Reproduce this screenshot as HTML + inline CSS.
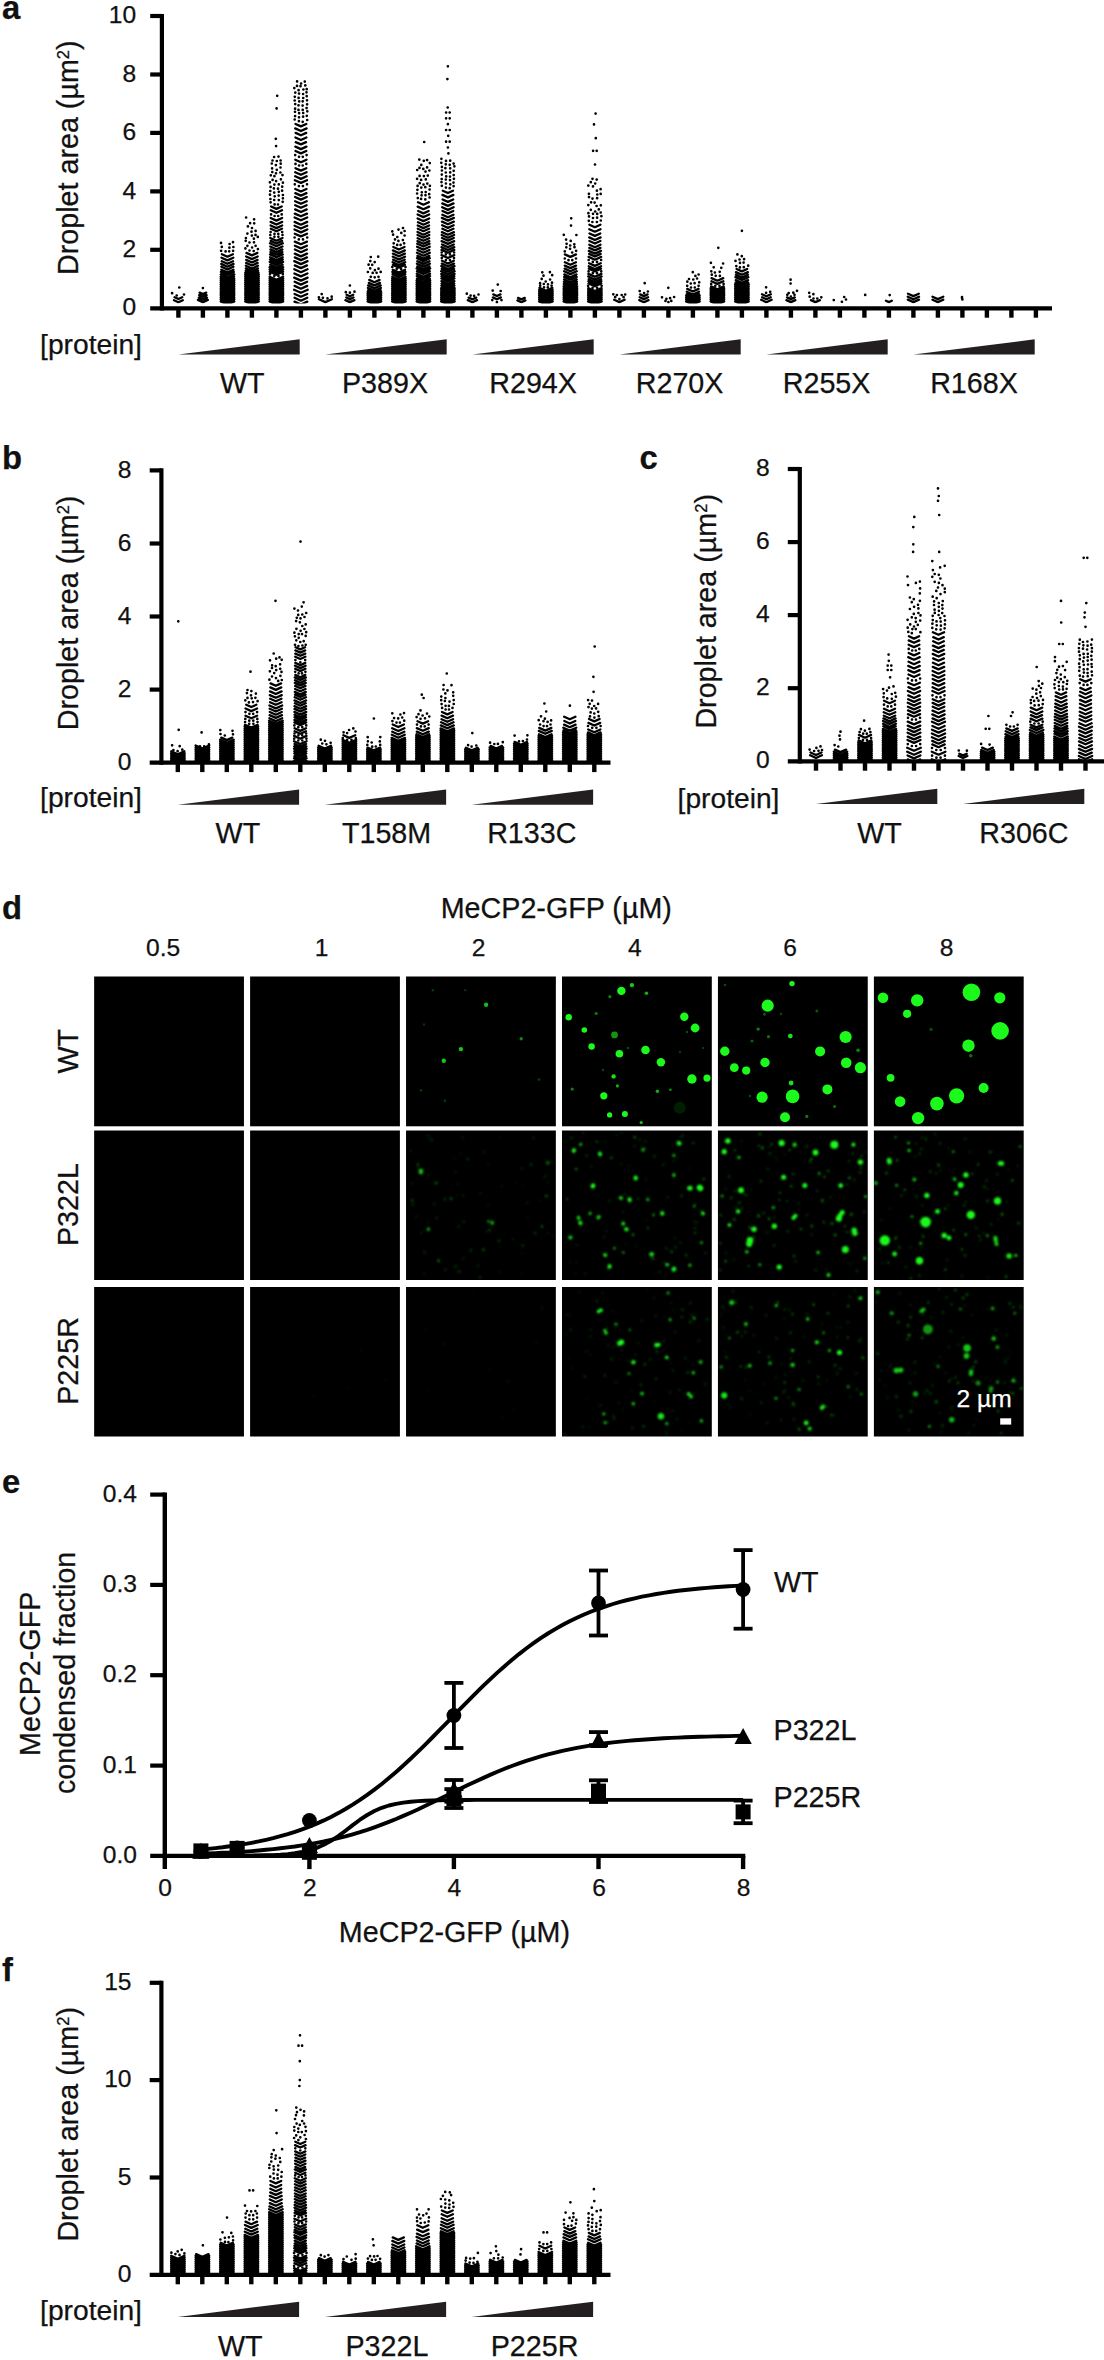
<!DOCTYPE html>
<html lang="en"><head><meta charset="utf-8"><title>Figure</title>
<style>html,body{margin:0;padding:0;background:#fff}svg{display:block}</style>
</head><body>
<svg width="1104" height="2360" viewBox="0 0 1104 2360" font-family='"Liberation Sans", sans-serif'>
<rect width="1104" height="2360" fill="#fff"/>
<clipPath id="swa"><rect x="161.9" y="0" width="890" height="303.4"/></clipPath>
<g clip-path="url(#swa)"><path d="M172.1 293.2h0M176.7 295.5h0M184 294.5h0M179.3 287.5h0M202.9 288.1h0M221.1 250.8h0M225.6 251.4h0M229.2 251.3h0M233.1 250.8h0M221.8 246.9h0M229.4 247.7h0M233.4 247h0M221 242.9h0M229.6 244h0M233 242.2h0M245.4 248.4h0M249.5 250.5h0M253.7 251h0M257.9 249.1h0M247.4 245.8h0M252.1 247.5h0M255.6 245.8h0M245.7 240.8h0M249.5 242.5h0M254 242.3h0M245.9 238h0M253.9 238.7h0M257.8 236.9h0M247.4 233.6h0M251.9 235.6h0M255.5 234.9h0M251.5 231.7h0M255.6 230.9h0M247.9 226.4h0M252 228h0M250.1 223.2h0M254.2 223.3h0M246.1 217.5h0M254.1 219.3h0M270 274.2h0M274.3 276.1h0M278.5 276.1h0M282.8 274.2h0M270.3 235h0M274.4 236.8h0M278.4 236.8h0M282.5 235h0M270.6 232.1h0M274.5 233.9h0M278.3 233.9h0M282.2 232.1h0M271.1 214.4h0M274.6 216h0M278.2 216h0M281.7 214.4h0M270.6 202.3h0M274.6 204.4h0M278 204.5h0M282.7 201.8h0M270.4 199h0M274.2 200h0M278.8 200.1h0M282.9 198.3h0M270 194.7h0M274.7 196.3h0M278.7 195.6h0M282.9 195h0M270.3 191h0M274.2 192.6h0M278.8 191.8h0M282.1 190.7h0M270.6 186.9h0M273.9 188.4h0M278 188.7h0M282.2 186.7h0M269.9 182.3h0M274.4 184.6h0M278.8 184.4h0M282.9 182.7h0M272.6 179.9h0M276.1 181.1h0M280.9 179.3h0M270.8 175.3h0M274.4 176.2h0M282.5 175.1h0M272.3 172.1h0M276 173.3h0M280.4 172.5h0M272.1 168.4h0M276.8 169.8h0M280.5 167.5h0M271.8 163.5h0M275.9 165.1h0M280.7 163.7h0M272.5 160.5h0M276.8 161h0M280.6 160.5h0M274.1 157h0M278.5 156.6h0M276.1 146.1h0M275.8 138.8h0M276.6 108.4h0M277.2 95.8h0M294.6 237.5h0M298.8 239.4h0M303 239.4h0M307.2 237.5h0M294.8 184.3h0M298.9 186.1h0M302.9 186.1h0M307 184.3h0M295.5 163.9h0M299.1 165.5h0M302.7 165.5h0M306.3 163.9h0M295.2 155.1h0M299 156.8h0M302.8 156.8h0M306.6 155.1h0M294.7 119.5h0M298.9 121.2h0M302.7 121.8h0M307.2 120h0M295.1 116.1h0M299 117.3h0M303.1 116.7h0M306.8 115.8h0M295 111.8h0M299.1 113.2h0M303.2 113h0M307.3 111.3h0M295.1 108.7h0M298.5 109.9h0M302.7 109.9h0M306.6 108.1h0M295.2 104.1h0M298.5 105.3h0M302.6 105.6h0M307.1 104.3h0M294.7 100.5h0M299.2 101.4h0M302.7 101.3h0M307 100.3h0M294.8 96.8h0M298.6 97.9h0M303.2 98h0M306.7 96.2h0M295.3 92.6h0M299 93.6h0M303.1 94h0M306.5 92.3h0M294.3 88.1h0M298.6 90.2h0M303.4 89.5h0M306.7 89.2h0M297 85.9h0M300.5 86.2h0M305.3 85.4h0M297.1 81.4h0M301.1 83.5h0M304.8 81.6h0M318.9 297.3h0M322.9 297.8h0M327.5 298.4h0M331.7 296.7h0M321.7 294.1h0M345.8 292.2h0M349.9 292.7h0M354.5 291.7h0M349.9 285.5h0M370.8 276.8h0M374.7 277.3h0M378.5 276.8h0M367.9 272h0M372.7 272.9h0M376.6 272.8h0M380.7 271.9h0M370.2 268.4h0M374.9 270.2h0M378.5 268.7h0M368.6 264.7h0M372.2 264.8h0M370.3 261.1h0M374.7 262.1h0M370.8 257h0M378.2 256.7h0M392.3 267h0M396.7 269h0M401.1 269h0M405.5 267h0M393.7 243.3h0M397.2 244.9h0M400.6 244.9h0M404.1 243.3h0M395 239.4h0M398.4 240.9h0M402.9 240.1h0M393.1 234.7h0M397.3 237h0M404.6 235.5h0M392.3 231.4h0M401.3 232.9h0M404.6 231h0M398.5 229.6h0M403 228h0M417.8 198.1h0M421.1 198.9h0M425.3 199.4h0M429.6 197.5h0M417.1 193.5h0M421.6 195.3h0M425.5 195.2h0M429.2 194.2h0M417.4 189.8h0M421.8 192.3h0M425.7 192h0M429.6 189.5h0M417.6 185.9h0M421.3 187.6h0M425.3 187.2h0M429.9 185.8h0M419.7 183.2h0M423.5 184.6h0M427.3 183.6h0M417.1 178.8h0M421.1 179.9h0M425.8 179.4h0M419.6 175.9h0M423.9 176.1h0M427.8 175.6h0M417.2 170h0M425.5 171.6h0M429.4 170.5h0M419.5 167.9h0M423.3 168.9h0M427.1 167.4h0M421.3 164.9h0M429.8 163.1h0M419.3 159.6h0M423.8 160.8h0M427.1 160.1h0M424.2 142h0M441.8 258.1h0M445.9 260h0M449.9 260h0M454 258.1h0M441.7 252.5h0M445.8 254.4h0M450 254.4h0M454.1 252.5h0M441.8 185.8h0M445.9 187.6h0M449.7 188.2h0M453.6 186.2h0M441.5 182.1h0M445.9 183.5h0M450.3 184.3h0M453.5 182.6h0M441.7 179h0M445.8 179.6h0M450 180.1h0M453.9 178.8h0M441.8 174.6h0M446.2 176.4h0M450 176.6h0M453.7 175.1h0M441.9 170.5h0M445.8 172.5h0M450.2 172.4h0M453.7 170.8h0M441.9 166.9h0M445.4 168.2h0M450.2 168.3h0M454.4 166.3h0M441.3 162.8h0M445.8 164.3h0M449.7 164.8h0M453.6 163.6h0M441.4 158.8h0M446 160.9h0M450.2 160.7h0M448.4 153.4h0M447.9 147.5h0M446.1 141.7h0M449.7 141.7h0M448.2 135.8h0M446.1 130h0M449.7 130h0M447.9 124.2h0M446.1 118.3h0M449.7 118.3h0M446.1 112.5h0M449.7 112.5h0M447.7 107.5h0M447.4 79.1h0M447.9 66.3h0M466.8 293.7h0M470.6 295.6h0M474.1 295.8h0M478.5 294.5h0M492.3 300.1h0M496.9 302.2h0M501.5 300.1h0M492.7 290.6h0M500.7 291h0M497.8 284.6h0M540.2 285.7h0M544 287.4h0M547.8 287.4h0M551.6 285.7h0M540.1 283.2h0M543.8 284h0M548 284.4h0M552 282.7h0M541.7 278.9h0M545.7 281.5h0M550.1 279.5h0M543.5 275.7h0M552.2 275.2h0M542.3 272.3h0M549.9 272.2h0M564.8 258.5h0M568.5 260.2h0M572.3 260.2h0M576 258.5h0M564.8 251.4h0M572.2 252.5h0M576.1 250.8h0M566.3 247.3h0M570.1 248.8h0M574.5 247.2h0M566.6 243.8h0M570.2 245.5h0M574.3 244.3h0M566.1 239.6h0M570.7 240.9h0M563.8 234.8h0M576.4 235h0M571 225.6h0M571.2 218.3h0M588.1 285.8h0M592.6 287.8h0M597.1 287.8h0M601.6 285.8h0M588.6 271.4h0M592.8 273.2h0M597 273.2h0M601.2 271.4h0M588.7 260h0M592.8 261.9h0M597 261.9h0M601.1 260h0M588.8 220.8h0M592.4 222h0M596.9 222h0M600.8 220.5h0M589 216.4h0M593 218h0M597.1 217.7h0M601.4 216.2h0M588.4 213.2h0M593 213.8h0M597.2 213.9h0M600.7 212.5h0M590.8 209.8h0M595.2 211.5h0M598.8 209.4h0M588.3 205.1h0M596.6 206h0M600.8 205.3h0M591.1 202.3h0M594.6 202.6h0M589 197.1h0M592.5 198.6h0M597.1 198.2h0M588.9 193.8h0M597.3 194.5h0M600.7 193.9h0M596.9 190.7h0M600.6 189.2h0M588.3 185.6h0M593 186.4h0M590.8 182.2h0M595.2 183.5h0M592.5 178.8h0M596.7 179.6h0M595 164.5h0M593.1 150.8h0M596.7 150.8h0M595.8 138.2h0M594 124.4h0M595.6 113.6h0M615.2 297.2h0M619.4 299.1h0M623.6 297.2h0M613.3 294.3h0M616.9 295h0M621.7 295h0M625.2 294.5h0M639.7 291.1h0M644.1 293.1h0M647.9 291.5h0M644.7 283.2h0M665.5 300.9h0M668.4 302.2h0M671.3 300.9h0M662 297.3h0M666.4 298.8h0M670.1 298.2h0M674.1 297h0M668.3 287.8h0M687.2 285.8h0M691 287.5h0M694.8 287.5h0M698.6 285.8h0M687.3 281.7h0M690.8 283.5h0M694.6 283.2h0M699.2 282.3h0M689 279h0M693.3 279.5h0M697.1 278.5h0M695.4 275.9h0M698.6 274.5h0M692.8 272.2h0M711.2 283.9h0M715.3 285.8h0M719.5 285.8h0M723.6 283.9h0M711.8 274.7h0M715.7 275.8h0M719.9 275.9h0M711.3 271.3h0M714.9 272.5h0M719.7 271.8h0M713.7 267.3h0M721.3 267.8h0M710.9 262.8h0M723.1 263.5h0M718.3 247.8h0M736.3 266.1h0M739.9 267.4h0M743.8 267.2h0M748.2 265.7h0M735.5 260.9h0M740 262.9h0M743.6 262.6h0M739.5 259.5h0M744.1 259.2h0M737.4 254.4h0M741.8 256.2h0M741.9 230.8h0M766.1 292.8h0M770.2 291.8h0M766.1 287.3h0M787.3 294.8h0M790.9 296.5h0M794.5 294.8h0M788.7 293.1h0M793.3 292.7h0M797 290.8h0M790.6 283.5h0M790.6 279.7h0M809.7 296.7h0M813.5 298.5h0M817.3 298.5h0M821.3 297.3h0M809.2 292.8h0M813.4 294.2h0M833.8 300.1h0M841.9 301.8h0M846 299.5h0M844.2 297h0M865.2 294.9h0M889.7 295.1h0M962.4 299.5h0M962 297.2h0M962.1 298.7h0" fill="none" stroke="#000" stroke-width="2.7" stroke-linecap="round"/><path d="M174 300.2l4.4 2l4.4 -2M174.6 297.3l3.8 1.7l3.8 -1.7M197.9 299.9l5 2.2l5 -2.2M198.8 297.6l4.1 1.8l4.1 -1.8M199.2 295.1l3.7 1.7l3.7 -1.7M199.6 292.6l3.3 1.5l3.3 -1.5M220.7 301.4l6.8 3l6.8 -3M220.7 299.5l6.8 3l6.8 -3M220.7 297.6l6.8 3l6.8 -3M220.7 295.7l6.8 3l6.8 -3M220.7 293.8l6.8 3l6.8 -3M220.7 291.9l6.8 3l6.8 -3M220.7 290l6.8 3l6.8 -3M220.7 288.1l6.8 3l6.8 -3M220.7 286.2l6.8 3l6.8 -3M220.7 284.3l6.8 3l6.8 -3M220.7 282.4l6.8 3l6.8 -3M220.7 280.5l6.8 3l6.8 -3M220.7 278.6l6.8 3l6.8 -3M220.7 276.7l6.7 3l6.7 -3M220.7 274.4l6.8 3l6.8 -3M220.9 271.9l6.5 2.9l6.5 -2.9M221.3 269.7l6.1 2.7l6.1 -2.7M221.4 266.8l6 2.7l6 -2.7M221.2 263.9l6.2 2.8l6.2 -2.8M221.8 261.3l5.6 2.5l5.6 -2.5M221.5 257.7l5.9 2.7l5.9 -2.7M221.9 254.2l5.5 2.5l5.5 -2.5M245.2 301.4l6.8 3l6.8 -3M245.2 299.5l6.8 3l6.8 -3M245.2 297.6l6.8 3l6.8 -3M245.2 295.7l6.8 3l6.8 -3M245.2 293.8l6.8 3l6.8 -3M245.2 291.9l6.8 3l6.8 -3M245.2 290l6.8 3l6.8 -3M245.2 288.1l6.8 3l6.8 -3M245.2 286.2l6.8 3l6.8 -3M245.2 284.3l6.8 3l6.8 -3M245.2 282.4l6.8 3l6.8 -3M245.2 280.5l6.8 3l6.8 -3M245.2 278.6l6.8 3l6.8 -3M245.2 276.7l6.8 3l6.8 -3M245.2 274.8l6.8 3l6.8 -3M245.2 272.9l6.7 3l6.7 -3M245.7 270.8l6.2 2.8l6.2 -2.8M245.8 268.4l6.1 2.7l6.1 -2.7M245.9 265.8l6 2.7l6 -2.7M246.1 262.9l5.8 2.6l5.8 -2.6M246.2 259.9l5.7 2.6l5.7 -2.6M246.1 256.5l5.8 2.6l5.8 -2.6M246.4 252.9l5.5 2.5l5.5 -2.5M269.6 301.4l6.8 3l6.8 -3M269.6 299.5l6.8 3l6.8 -3M269.6 297.6l6.8 3l6.8 -3M269.6 295.7l6.8 3l6.8 -3M269.6 293.8l6.8 3l6.8 -3M269.6 291.9l6.8 3l6.8 -3M269.6 290l6.8 3l6.8 -3M269.6 288.1l6.8 3l6.8 -3M269.6 286.2l6.8 3l6.8 -3M269.6 284.3l6.8 3l6.8 -3M269.6 282.4l6.8 3l6.8 -3M269.6 280.5l6.8 3l6.8 -3M269.6 278.6l6.8 3l6.8 -3M269.7 276.8l6.7 3l6.7 -3M269.7 271.8l6.7 3l6.7 -3M269.6 269.5l6.8 3l6.8 -3M269.6 267.1l6.8 3l6.8 -3M270.2 264.8l6.2 2.8l6.2 -2.8M269.7 261.9l6.7 3l6.7 -3M270 259.5l6.4 2.9l6.4 -2.9M270.1 257.2l6.3 2.8l6.3 -2.8M270 254.4l6.4 2.9l6.4 -2.9M270.4 252l6 2.7l6 -2.7M270.4 249.4l6 2.7l6 -2.7M270.3 246.5l6.1 2.8l6.1 -2.8M270 243.3l6.4 2.9l6.4 -2.9M270.7 240.9l5.7 2.6l5.7 -2.6M270.3 238l6.1 2.7l6.1 -2.7M270.8 228.7l5.6 2.5l5.6 -2.5M270.6 225.5l5.8 2.6l5.8 -2.6M270.6 221.9l5.8 2.6l5.8 -2.6M270.7 218l5.7 2.6l5.7 -2.6M270.8 210.3l5.6 2.5l5.6 -2.5M271.1 206.5l5.3 2.4l5.3 -2.4M294.5 301.6l6.4 2.9l6.4 -2.9M294.6 297.8l6.3 2.9l6.3 -2.9M294.6 294l6.3 2.8l6.3 -2.8M294.1 289.8l6.8 3l6.8 -3M294.6 285.9l6.3 2.8l6.3 -2.8M294.7 281.8l6.2 2.8l6.2 -2.8M294.2 277.6l6.7 3l6.7 -3M294.4 273.5l6.5 2.9l6.5 -2.9M294.3 269.2l6.6 3l6.6 -3M294.8 265.4l6.1 2.7l6.1 -2.7M294.3 261.1l6.6 3l6.6 -3M294.8 257.4l6.1 2.7l6.1 -2.7M294.8 253.6l6.1 2.8l6.1 -2.8M294.9 249.5l6 2.7l6 -2.7M294.9 245.7l6 2.7l6 -2.7M294.8 241.6l6.1 2.7l6.1 -2.7M294.8 233.7l6.1 2.7l6.1 -2.7M294.5 229.5l6.4 2.9l6.4 -2.9M294.6 225.7l6.3 2.8l6.3 -2.8M294.6 221.9l6.3 2.8l6.3 -2.8M294.6 217.5l6.3 2.8l6.3 -2.8M294.8 213.6l6.1 2.7l6.1 -2.7M295.1 209.4l5.8 2.6l5.8 -2.6M295.2 205.2l5.7 2.6l5.7 -2.6M295.1 201.2l5.8 2.6l5.8 -2.6M295.1 197l5.8 2.6l5.8 -2.6M295.3 193.1l5.6 2.5l5.6 -2.5M295.3 189l5.6 2.5l5.6 -2.5M294.8 180.2l6.1 2.7l6.1 -2.7M295.2 176.3l5.7 2.6l5.7 -2.6M295.2 172.2l5.7 2.6l5.7 -2.6M295.5 168.2l5.4 2.4l5.4 -2.4M295.3 159.7l5.6 2.5l5.6 -2.5M295.5 151l5.4 2.4l5.4 -2.4M295.4 146.6l5.5 2.5l5.5 -2.5M295.7 142.1l5.2 2.3l5.2 -2.3M295.4 137.5l5.5 2.5l5.5 -2.5M295.6 132.9l5.3 2.4l5.3 -2.4M295.2 128.4l5.7 2.6l5.7 -2.6M295.5 124l5.4 2.4l5.4 -2.4M318.9 299.2l6.5 2.9l6.5 -2.9M345.4 300.1l4.5 2l4.5 -2M346.3 297.5l3.6 1.6l3.6 -1.6M346.6 294.8l3.3 1.5l3.3 -1.5M367.6 301.4l6.8 3l6.8 -3M367.6 299.5l6.8 3l6.8 -3M367.6 297.6l6.8 3l6.8 -3M367.6 295.7l6.8 3l6.8 -3M367.6 293.8l6.8 3l6.8 -3M367.6 291.9l6.8 3l6.8 -3M368.1 290.2l6.3 2.8l6.3 -2.8M367.9 288l6.5 2.9l6.5 -2.9M368.1 285.4l6.3 2.8l6.3 -2.8M368.8 282.9l5.6 2.5l5.6 -2.5M369.2 279.9l5.2 2.3l5.2 -2.3M392.1 301.4l6.8 3l6.8 -3M392.1 299.5l6.8 3l6.8 -3M392.1 297.6l6.8 3l6.8 -3M392.1 295.7l6.8 3l6.8 -3M392.1 293.8l6.8 3l6.8 -3M392.1 291.9l6.8 3l6.8 -3M392.1 290l6.8 3l6.8 -3M392.1 288.1l6.8 3l6.8 -3M392.1 286.2l6.8 3l6.8 -3M392.1 284.3l6.8 3l6.8 -3M392.1 282.4l6.8 3l6.8 -3M392.1 280.5l6.8 3l6.8 -3M392.1 278.6l6.8 3l6.8 -3M392.3 276.8l6.6 3l6.6 -3M392.6 274.3l6.3 2.8l6.3 -2.8M392.3 271.9l6.6 3l6.6 -3M392.8 269.8l6.1 2.7l6.1 -2.7M392.9 264.9l6 2.7l6 -2.7M392.6 262.2l6.3 2.8l6.3 -2.8M393.1 259.7l5.8 2.6l5.8 -2.6M392.8 256.7l6.1 2.7l6.1 -2.7M392.9 253.6l6 2.7l6 -2.7M392.9 250.4l6 2.7l6 -2.7M393.3 247l5.6 2.5l5.6 -2.5M416.6 301.4l6.8 3l6.8 -3M416.6 299.5l6.8 3l6.8 -3M416.6 297.6l6.8 3l6.8 -3M416.6 295.7l6.8 3l6.8 -3M416.6 293.8l6.8 3l6.8 -3M416.6 291.9l6.8 3l6.8 -3M416.6 290l6.8 3l6.8 -3M416.6 288.1l6.8 3l6.8 -3M416.6 286.2l6.8 3l6.8 -3M416.6 284.3l6.8 3l6.8 -3M416.6 282.4l6.8 3l6.8 -3M416.6 280.5l6.8 3l6.8 -3M417 278.8l6.4 2.9l6.4 -2.9M416.8 276.1l6.6 3l6.6 -3M416.8 273.8l6.6 3l6.6 -3M417 271.1l6.4 2.9l6.4 -2.9M416.6 268.5l6.8 3l6.8 -3M417.3 266.5l6.1 2.8l6.1 -2.8M416.9 263.7l6.5 2.9l6.5 -2.9M417.3 261.2l6.1 2.7l6.1 -2.7M417 258.2l6.4 2.9l6.4 -2.9M417.4 255.9l6 2.7l6 -2.7M417 252.8l6.4 2.9l6.4 -2.9M417.5 250l5.9 2.7l5.9 -2.7M417.1 246.8l6.3 2.8l6.3 -2.8M417.3 243.8l6.1 2.7l6.1 -2.7M417.5 241.1l5.9 2.7l5.9 -2.7M417.6 238.2l5.8 2.6l5.8 -2.6M417.5 235l5.9 2.6l5.9 -2.6M417.5 232l5.9 2.7l5.9 -2.7M417.8 228.7l5.6 2.5l5.6 -2.5M417.7 225.5l5.7 2.6l5.7 -2.6M418 222.3l5.4 2.4l5.4 -2.4M417.6 218.5l5.8 2.6l5.8 -2.6M417.6 214.5l5.8 2.6l5.8 -2.6M418.2 211l5.2 2.4l5.2 -2.4M417.7 206.6l5.7 2.6l5.7 -2.6M418 202.3l5.4 2.4l5.4 -2.4M441.1 301.4l6.8 3l6.8 -3M441.1 299.5l6.8 3l6.8 -3M441.1 297.6l6.8 3l6.8 -3M441.1 295.7l6.8 3l6.8 -3M441.1 293.8l6.8 3l6.8 -3M441.1 291.9l6.8 3l6.8 -3M441.1 290l6.8 3l6.8 -3M441.1 288.1l6.8 3l6.8 -3M441.4 285.7l6.5 2.9l6.5 -2.9M441.6 283.6l6.3 2.9l6.3 -2.9M441.4 281.1l6.5 2.9l6.5 -2.9M441.4 278.5l6.5 2.9l6.5 -2.9M441.5 276.3l6.4 2.9l6.4 -2.9M441.2 273.9l6.7 3l6.7 -3M441.2 271.3l6.7 3l6.7 -3M441.7 268.9l6.2 2.8l6.2 -2.8M441.3 266.1l6.6 3l6.6 -3M441.8 263.6l6.1 2.7l6.1 -2.7M442 260.8l5.9 2.7l5.9 -2.7M441.5 255.1l6.4 2.9l6.4 -2.9M441.5 249.9l6.4 2.9l6.4 -2.9M441.5 247.1l6.4 2.9l6.4 -2.9M442 244.5l5.9 2.6l5.9 -2.6M441.6 241.1l6.3 2.8l6.3 -2.8M442 238l5.9 2.6l5.9 -2.6M441.7 235l6.2 2.8l6.2 -2.8M441.9 232.1l6 2.7l6 -2.7M442.4 228.8l5.5 2.5l5.5 -2.5M442.2 225.3l5.7 2.6l5.7 -2.6M442 221.6l5.9 2.7l5.9 -2.7M441.9 217.9l6 2.7l6 -2.7M442.4 214.8l5.5 2.5l5.5 -2.5M442.5 211l5.4 2.4l5.4 -2.4M442.2 207.3l5.7 2.6l5.7 -2.6M442.3 203.4l5.6 2.5l5.6 -2.5M442.6 199.5l5.3 2.4l5.3 -2.4M442.4 194.9l5.5 2.5l5.5 -2.5M442.8 190.7l5.1 2.3l5.1 -2.3M467.8 300.1l4.6 2.1l4.6 -2.1M468.6 297.6l3.8 1.7l3.8 -1.7M492.9 297.4l4 1.8l4 -1.8M493.3 294.4l3.6 1.6l3.6 -1.6M517.4 300.4l4 1.8l4 -1.8M518 297.9l3.4 1.5l3.4 -1.5M539.1 301.4l6.8 3l6.8 -3M539.1 299.5l6.8 3l6.8 -3M539.1 297.6l6.8 3l6.8 -3M539.1 295.7l6.8 3l6.8 -3M539.1 293.8l6.8 3l6.8 -3M539.1 291.9l6.8 3l6.8 -3M539.1 290l6.8 3l6.8 -3M539.4 287.9l6.5 2.9l6.5 -2.9M563.6 301.4l6.8 3l6.8 -3M563.6 299.5l6.8 3l6.8 -3M563.6 297.6l6.8 3l6.8 -3M563.6 295.7l6.8 3l6.8 -3M563.6 293.8l6.8 3l6.8 -3M563.6 291.9l6.8 3l6.8 -3M563.6 290l6.8 3l6.8 -3M563.6 288.1l6.8 3l6.8 -3M563.6 286.2l6.8 3l6.8 -3M563.8 284l6.6 3l6.6 -3M563.9 281.8l6.5 2.9l6.5 -2.9M564.1 279.5l6.3 2.8l6.3 -2.8M564.1 276.9l6.3 2.8l6.3 -2.8M564.3 274.4l6.1 2.8l6.1 -2.8M564.1 271.3l6.3 2.8l6.3 -2.8M564.7 268.6l5.7 2.6l5.7 -2.6M564.8 265.6l5.6 2.5l5.6 -2.5M564.9 262.3l5.5 2.5l5.5 -2.5M564.8 254.4l5.6 2.5l5.6 -2.5M588.1 301.4l6.8 3l6.8 -3M588.1 299.5l6.8 3l6.8 -3M588.1 297.6l6.8 3l6.8 -3M588.1 295.7l6.8 3l6.8 -3M588.1 293.8l6.8 3l6.8 -3M588.1 291.9l6.8 3l6.8 -3M588.1 290l6.8 3l6.8 -3M588.2 288.1l6.7 3l6.7 -3M588.5 283.4l6.4 2.9l6.4 -2.9M588.4 281.2l6.5 2.9l6.5 -2.9M588.7 279.2l6.2 2.8l6.2 -2.8M588.2 276.5l6.7 3l6.7 -3M588.4 273.9l6.5 2.9l6.5 -2.9M588.8 268.7l6.1 2.7l6.1 -2.7M588.7 266.2l6.2 2.8l6.2 -2.8M589.1 263.3l5.8 2.6l5.8 -2.6M588.6 256.9l6.3 2.8l6.3 -2.8M589.1 253.9l5.8 2.6l5.8 -2.6M588.8 250.9l6.1 2.7l6.1 -2.7M589.3 247.9l5.6 2.5l5.6 -2.5M589.3 244.7l5.6 2.5l5.6 -2.5M589.4 241l5.5 2.5l5.5 -2.5M589.2 237.4l5.7 2.6l5.7 -2.6M589.5 233.5l5.4 2.4l5.4 -2.4M589.3 229.2l5.6 2.5l5.6 -2.5M589.4 224.7l5.5 2.5l5.5 -2.5M614.2 299.8l5.2 2.3l5.2 -2.3M639.3 300.1l4.6 2.1l4.6 -2.1M639.7 297.2l4.2 1.9l4.2 -1.9M640.2 294.4l3.7 1.7l3.7 -1.7M686.1 301.4l6.8 3l6.8 -3M686.1 299.5l6.8 3l6.8 -3M686.1 297.6l6.8 3l6.8 -3M686.1 295.7l6.8 3l6.8 -3M686.7 294.1l6.2 2.8l6.2 -2.8M686.8 291.7l6.1 2.8l6.1 -2.8M687.2 288.9l5.7 2.6l5.7 -2.6M710.6 301.4l6.8 3l6.8 -3M710.6 299.5l6.8 3l6.8 -3M710.6 297.6l6.8 3l6.8 -3M710.6 295.7l6.8 3l6.8 -3M710.6 293.8l6.8 3l6.8 -3M710.6 291.9l6.8 3l6.8 -3M710.6 290l6.8 3l6.8 -3M710.6 288.1l6.8 3l6.8 -3M711.1 286.4l6.3 2.8l6.3 -2.8M711.5 281.3l5.9 2.6l5.9 -2.6M711.5 278.1l5.9 2.6l5.9 -2.6M735.1 301.4l6.8 3l6.8 -3M735.1 299.5l6.8 3l6.8 -3M735.1 297.6l6.8 3l6.8 -3M735.1 295.7l6.8 3l6.8 -3M735.1 293.8l6.8 3l6.8 -3M735.1 291.9l6.8 3l6.8 -3M735.1 290l6.8 3l6.8 -3M735.1 288.1l6.8 3l6.8 -3M735.1 286.2l6.8 3l6.8 -3M735.1 284.3l6.8 3l6.8 -3M735.6 282.6l6.3 2.8l6.3 -2.8M735.7 280.1l6.2 2.8l6.2 -2.8M735.4 277.1l6.5 2.9l6.5 -2.9M735.9 274.8l6 2.7l6 -2.7M735.9 272.1l6 2.7l6 -2.7M736.6 269l5.3 2.4l5.3 -2.4M761.2 299.8l5.2 2.4l5.2 -2.4M762.1 297.2l4.3 2l4.3 -2M762 294.3l4.4 2l4.4 -2M786.4 300.1l4.5 2l4.5 -2M787 297.4l3.9 1.7l3.9 -1.7M810.9 300.1l4.5 2l4.5 -2M886 300.8l2.9 1.3l2.9 -1.3M907.8 299.6l5.6 2.5l5.6 -2.5M907.8 296.8l5.6 2.5l5.6 -2.5M908 293.7l5.4 2.4l5.4 -2.4M932.5 299.7l5.4 2.4l5.4 -2.4M932.5 296.7l5.4 2.4l5.4 -2.4" fill="none" stroke="#000" stroke-width="2.3" stroke-linecap="round" stroke-linejoin="round"/></g>
<line x1="161.9" y1="13.9" x2="161.9" y2="310.4" stroke="#000" stroke-width="4.2"/>
<line x1="150.2" y1="308.3" x2="1052" y2="308.3" stroke="#000" stroke-width="4.2"/>
<line x1="150.2" y1="249.8" x2="161.9" y2="249.8" stroke="#000" stroke-width="4.2"/>
<line x1="150.2" y1="191.4" x2="161.9" y2="191.4" stroke="#000" stroke-width="4.2"/>
<line x1="150.2" y1="132.9" x2="161.9" y2="132.9" stroke="#000" stroke-width="4.2"/>
<line x1="150.2" y1="74.5" x2="161.9" y2="74.5" stroke="#000" stroke-width="4.2"/>
<line x1="150.2" y1="16" x2="161.9" y2="16" stroke="#000" stroke-width="4.2"/>
<text x="136.2" y="315.4" font-size="24.6" fill="#111" stroke="#111" stroke-width="0.25" text-anchor="end">0</text>
<text x="136.2" y="256.9" font-size="24.6" fill="#111" stroke="#111" stroke-width="0.25" text-anchor="end">2</text>
<text x="136.2" y="198.5" font-size="24.6" fill="#111" stroke="#111" stroke-width="0.25" text-anchor="end">4</text>
<text x="136.2" y="140" font-size="24.6" fill="#111" stroke="#111" stroke-width="0.25" text-anchor="end">6</text>
<text x="136.2" y="81.6" font-size="24.6" fill="#111" stroke="#111" stroke-width="0.25" text-anchor="end">8</text>
<text x="136.2" y="23.1" font-size="24.6" fill="#111" stroke="#111" stroke-width="0.25" text-anchor="end">10</text>
<line x1="178.4" y1="308.3" x2="178.4" y2="317.7" stroke="#000" stroke-width="4.4"/>
<line x1="202.9" y1="308.3" x2="202.9" y2="317.7" stroke="#000" stroke-width="4.4"/>
<line x1="227.4" y1="308.3" x2="227.4" y2="317.7" stroke="#000" stroke-width="4.4"/>
<line x1="251.9" y1="308.3" x2="251.9" y2="317.7" stroke="#000" stroke-width="4.4"/>
<line x1="276.4" y1="308.3" x2="276.4" y2="317.7" stroke="#000" stroke-width="4.4"/>
<line x1="300.9" y1="308.3" x2="300.9" y2="317.7" stroke="#000" stroke-width="4.4"/>
<line x1="325.4" y1="308.3" x2="325.4" y2="317.7" stroke="#000" stroke-width="4.4"/>
<line x1="349.9" y1="308.3" x2="349.9" y2="317.7" stroke="#000" stroke-width="4.4"/>
<line x1="374.4" y1="308.3" x2="374.4" y2="317.7" stroke="#000" stroke-width="4.4"/>
<line x1="398.9" y1="308.3" x2="398.9" y2="317.7" stroke="#000" stroke-width="4.4"/>
<line x1="423.4" y1="308.3" x2="423.4" y2="317.7" stroke="#000" stroke-width="4.4"/>
<line x1="447.9" y1="308.3" x2="447.9" y2="317.7" stroke="#000" stroke-width="4.4"/>
<line x1="472.4" y1="308.3" x2="472.4" y2="317.7" stroke="#000" stroke-width="4.4"/>
<line x1="496.9" y1="308.3" x2="496.9" y2="317.7" stroke="#000" stroke-width="4.4"/>
<line x1="521.4" y1="308.3" x2="521.4" y2="317.7" stroke="#000" stroke-width="4.4"/>
<line x1="545.9" y1="308.3" x2="545.9" y2="317.7" stroke="#000" stroke-width="4.4"/>
<line x1="570.4" y1="308.3" x2="570.4" y2="317.7" stroke="#000" stroke-width="4.4"/>
<line x1="594.9" y1="308.3" x2="594.9" y2="317.7" stroke="#000" stroke-width="4.4"/>
<line x1="619.4" y1="308.3" x2="619.4" y2="317.7" stroke="#000" stroke-width="4.4"/>
<line x1="643.9" y1="308.3" x2="643.9" y2="317.7" stroke="#000" stroke-width="4.4"/>
<line x1="668.4" y1="308.3" x2="668.4" y2="317.7" stroke="#000" stroke-width="4.4"/>
<line x1="692.9" y1="308.3" x2="692.9" y2="317.7" stroke="#000" stroke-width="4.4"/>
<line x1="717.4" y1="308.3" x2="717.4" y2="317.7" stroke="#000" stroke-width="4.4"/>
<line x1="741.9" y1="308.3" x2="741.9" y2="317.7" stroke="#000" stroke-width="4.4"/>
<line x1="766.4" y1="308.3" x2="766.4" y2="317.7" stroke="#000" stroke-width="4.4"/>
<line x1="790.9" y1="308.3" x2="790.9" y2="317.7" stroke="#000" stroke-width="4.4"/>
<line x1="815.4" y1="308.3" x2="815.4" y2="317.7" stroke="#000" stroke-width="4.4"/>
<line x1="839.9" y1="308.3" x2="839.9" y2="317.7" stroke="#000" stroke-width="4.4"/>
<line x1="864.4" y1="308.3" x2="864.4" y2="317.7" stroke="#000" stroke-width="4.4"/>
<line x1="888.9" y1="308.3" x2="888.9" y2="317.7" stroke="#000" stroke-width="4.4"/>
<line x1="913.4" y1="308.3" x2="913.4" y2="317.7" stroke="#000" stroke-width="4.4"/>
<line x1="937.9" y1="308.3" x2="937.9" y2="317.7" stroke="#000" stroke-width="4.4"/>
<line x1="962.4" y1="308.3" x2="962.4" y2="317.7" stroke="#000" stroke-width="4.4"/>
<line x1="986.9" y1="308.3" x2="986.9" y2="317.7" stroke="#000" stroke-width="4.4"/>
<line x1="1011.4" y1="308.3" x2="1011.4" y2="317.7" stroke="#000" stroke-width="4.4"/>
<line x1="1035.9" y1="308.3" x2="1035.9" y2="317.7" stroke="#000" stroke-width="4.4"/>
<path d="M178.4 354.5L299.7 339.3L299.7 354.5Z" fill="#231f20"/>
<text x="242.3" y="393" font-size="28.7" fill="#111" stroke="#111" stroke-width="0.25" text-anchor="middle">WT</text>
<path d="M325.4 354.5L446.7 339.3L446.7 354.5Z" fill="#231f20"/>
<text x="385" y="393" font-size="28.7" fill="#111" stroke="#111" stroke-width="0.25" text-anchor="middle">P389X</text>
<path d="M472.4 354.5L593.7 339.3L593.7 354.5Z" fill="#231f20"/>
<text x="533.1" y="393" font-size="28.7" fill="#111" stroke="#111" stroke-width="0.25" text-anchor="middle">R294X</text>
<path d="M619.4 354.5L740.7 339.3L740.7 354.5Z" fill="#231f20"/>
<text x="679.6" y="393" font-size="28.7" fill="#111" stroke="#111" stroke-width="0.25" text-anchor="middle">R270X</text>
<path d="M766.4 354.5L887.7 339.3L887.7 354.5Z" fill="#231f20"/>
<text x="826.6" y="393" font-size="28.7" fill="#111" stroke="#111" stroke-width="0.25" text-anchor="middle">R255X</text>
<path d="M913.4 354.5L1034.7 339.3L1034.7 354.5Z" fill="#231f20"/>
<text x="974" y="393" font-size="28.7" fill="#111" stroke="#111" stroke-width="0.25" text-anchor="middle">R168X</text>
<text x="40.1" y="354.3" font-size="28.2" fill="#111" stroke="#111" stroke-width="0.25">[protein]</text>
<text font-size="28.7" fill="#111" stroke="#111" stroke-width="0.25" transform="translate(78.2 275) rotate(-90)">Droplet area (µm<tspan font-size="16.5" dy="-9.6">2</tspan><tspan dy="9.6">)</tspan></text>
<text x="2.1" y="19.2" font-size="32.8" fill="#111" stroke="#111" stroke-width="0.25" font-weight="bold">a</text>
<clipPath id="swb"><rect x="161.4" y="0" width="449.1" height="762.7"/></clipPath>
<g clip-path="url(#swb)"><path d="M173.4 750.1h0M177.6 751.2h0M182.3 749.7h0M172.1 745.3h0M179.7 746.2h0M178.7 729.8h0M178.3 621.3h0M200 746.3h0M204.2 746.3h0M208.9 744.4h0M201.6 732.4h0M220.5 734h0M224.8 735.5h0M233 734.3h0M220.3 730.1h0M232.5 730.8h0M245.1 722h0M249.2 723.8h0M253.4 723.8h0M257.5 722h0M245.3 718.9h0M249.3 720.7h0M253.3 720.7h0M257.3 718.9h0M245.5 712.1h0M249.4 713.8h0M253.2 713.8h0M257.1 712.1h0M245.3 700.3h0M248.9 702.4h0M253 702.1h0M257.6 701.2h0M247.5 697.9h0M251.7 698.3h0M255.4 697.8h0M246.9 693.1h0M251 695.3h0M255.9 693.6h0M247.5 690h0M251.4 691.1h0M250.5 671.7h0M269.4 679.7h0M278.2 680.9h0M281.8 680h0M272 676.5h0M276 678.1h0M280.4 675.8h0M269.9 671.3h0M274.2 673.1h0M281.5 671.9h0M272 668h0M276.2 670.1h0M280.2 668.8h0M272.1 665.3h0M275.7 666.2h0M280.1 664.3h0M270 660.3h0M281.7 659.8h0M276.2 658.7h0M279.5 657.4h0M273.7 653.5h0M275.5 600.8h0M294.2 738.7h0M298.3 740.5h0M302.3 740.5h0M306.4 738.7h0M294.5 733.5h0M298.4 735.3h0M302.2 735.3h0M306.1 733.5h0M294.4 725.4h0M298.3 727.2h0M302.3 727.2h0M306.2 725.4h0M295.2 671.8h0M298.6 673.4h0M302 673.4h0M305.4 671.8h0M295.4 660.1h0M300.3 662.3h0M305.2 660.1h0M295 644.8h0M298.4 646h0M302.4 645.5h0M305.7 644.8h0M296.3 640.3h0M300.3 642h0M303.7 641.2h0M294.9 636.3h0M298.7 637.8h0M305.7 635.9h0M294.4 632.7h0M298.7 634.1h0M302 634.1h0M306.2 632.2h0M296.4 628.8h0M300.6 630.8h0M304.4 629h0M302.3 626h0M305.7 624.4h0M296.1 621.1h0M299.9 622.3h0M296.8 617.8h0M300.5 618.4h0M304.5 617h0M298.2 614.9h0M302.3 614.5h0M306.2 613h0M294.4 608.6h0M298 610.5h0M301.8 606.6h0M303.6 602.3h0M300.5 541.6h0M322.3 743.5h0M326.4 744.3h0M330.6 742.8h0M320.8 739.7h0M325 740.8h0M342.8 738h0M347.1 739.9h0M351.5 739.9h0M355.8 738h0M343.6 732.3h0M347.1 733.1h0M355.5 731.5h0M349.1 730h0M353.3 728.4h0M367.3 744.9h0M372.2 746.7h0M375.8 746.5h0M380.2 744.9h0M367.9 741.3h0M371.7 742.5h0M379.8 741.4h0M367.7 737.2h0M380.3 737.1h0M373.9 718.5h0M392.4 721.1h0M396.5 722.6h0M399.9 722.6h0M404.2 720.7h0M394.1 718.1h0M398.2 718.4h0M402.2 717.5h0M392.3 713.3h0M400.4 714.5h0M404 713.1h0M417 724.6h0M420.9 726.4h0M424.7 726.4h0M428.6 724.6h0M416.6 717.1h0M420.5 718.8h0M425 718.3h0M429.3 716.5h0M418.5 714.2h0M422.6 715.5h0M427 713.6h0M420.5 710.4h0M423.6 698h0M421.8 694.7h0M442.1 707.9h0M445.6 709.5h0M449 709.5h0M452.5 707.9h0M441.6 704.1h0M445.6 705.8h0M448.9 705.9h0M453.7 704h0M441.2 700.2h0M444.9 701h0M449.5 701.6h0M453.7 700.1h0M441.3 696.6h0M445.4 698.1h0M453.2 695.8h0M445.3 693.4h0M453.2 692.3h0M443.4 689.5h0M447.5 690.4h0M443.6 685h0M451.5 685.2h0M446.8 673.5h0M468.1 745.2h0M471.6 746.6h0M476.3 745.5h0M472.3 733.1h0M490.1 742.7h0M494.3 744h0M497.9 743.9h0M502.8 742.2h0M519 741.4h0M522.9 741h0M527 739.5h0M514.6 735.6h0M527.4 735.3h0M540.1 724.5h0M543.6 726.1h0M547 726.1h0M550.5 724.5h0M538.7 720.2h0M543.5 721.2h0M547.6 721.9h0M551.1 720.4h0M541 716.3h0M544.9 718.7h0M546.2 711.5h0M544.4 703.5h0M569.9 705.7h0M588 726h0M592.2 727.8h0M596.4 727.8h0M600.6 726h0M590 716.4h0M594.4 717.6h0M598.7 716.2h0M590.6 712.4h0M594.3 713.5h0M598.2 711.8h0M588.5 707.1h0M591.9 708.6h0M596.1 708.4h0M589.7 703.8h0M594.2 706h0M598.1 703.9h0M588.1 700.1h0M592 700.6h0M593.6 691.8h0M593.4 676.8h0M594.7 646.5h0" fill="none" stroke="#000" stroke-width="2.7" stroke-linecap="round"/><path d="M171.1 760.7l6.8 3l6.8 -3M171.1 758.8l6.8 3l6.8 -3M171.1 756.9l6.8 3l6.8 -3M171.1 755l6.8 3l6.8 -3M171.1 753.1l6.8 3l6.8 -3M171.3 751.3l6.5 2.9l6.5 -2.9M195.6 760.7l6.8 3l6.8 -3M195.6 758.8l6.8 3l6.8 -3M195.6 756.9l6.8 3l6.8 -3M195.6 755l6.8 3l6.8 -3M195.6 753.1l6.8 3l6.8 -3M195.6 751.2l6.8 3l6.8 -3M195.6 749.3l6.8 3l6.8 -3M195.6 747.4l6.8 3l6.8 -3M195.6 745.5l6.8 3l6.8 -3M220.1 760.7l6.8 3l6.8 -3M220.1 758.8l6.8 3l6.8 -3M220.1 756.9l6.8 3l6.8 -3M220.1 755l6.8 3l6.8 -3M220.1 753.1l6.8 3l6.8 -3M220.1 751.2l6.8 3l6.8 -3M220.1 749.3l6.8 3l6.8 -3M220.1 747.4l6.8 3l6.8 -3M220.1 745.5l6.8 3l6.8 -3M220.1 743.6l6.8 3l6.8 -3M220.1 741.7l6.8 3l6.8 -3M220.1 739.8l6.8 3l6.8 -3M221.3 737.6l5.5 2.5l5.5 -2.5M244.6 760.7l6.8 3l6.8 -3M244.6 758.8l6.8 3l6.8 -3M244.6 756.9l6.8 3l6.8 -3M244.6 755l6.8 3l6.8 -3M244.6 753.1l6.8 3l6.8 -3M244.6 751.2l6.8 3l6.8 -3M244.6 749.3l6.8 3l6.8 -3M244.6 747.4l6.8 3l6.8 -3M244.6 745.5l6.8 3l6.8 -3M244.6 743.6l6.8 3l6.8 -3M244.6 741.7l6.8 3l6.8 -3M244.6 739.8l6.8 3l6.8 -3M244.6 737.9l6.8 3l6.8 -3M244.6 736l6.8 3l6.8 -3M244.6 734.1l6.8 3l6.8 -3M244.6 732.2l6.8 3l6.8 -3M244.6 730.3l6.8 3l6.8 -3M244.6 728.4l6.8 3l6.8 -3M244.6 726.5l6.8 3l6.8 -3M245 724.8l6.3 2.8l6.3 -2.8M245.5 715.7l5.8 2.6l5.8 -2.6M245.5 708.5l5.8 2.6l5.8 -2.6M246.2 704.7l5.1 2.3l5.1 -2.3M269.1 760.7l6.8 3l6.8 -3M269.1 758.8l6.8 3l6.8 -3M269.1 756.9l6.8 3l6.8 -3M269.1 755l6.8 3l6.8 -3M269.1 753.1l6.8 3l6.8 -3M269.1 751.2l6.8 3l6.8 -3M269.1 749.3l6.8 3l6.8 -3M269.1 747.4l6.8 3l6.8 -3M269.1 745.5l6.8 3l6.8 -3M269.1 743.6l6.8 3l6.8 -3M269.1 741.7l6.8 3l6.8 -3M269.1 739.8l6.8 3l6.8 -3M269.1 737.9l6.8 3l6.8 -3M269.1 736l6.8 3l6.8 -3M269.1 734.1l6.8 3l6.8 -3M269.1 732.2l6.8 3l6.8 -3M269.1 730.3l6.8 3l6.8 -3M269.1 728.4l6.8 3l6.8 -3M269.1 726.5l6.8 3l6.8 -3M269.1 724.6l6.8 3l6.8 -3M269.1 722.7l6.8 3l6.8 -3M269.1 720.8l6.8 3l6.8 -3M269.4 718.2l6.4 2.9l6.4 -2.9M269.6 715.1l6.2 2.8l6.2 -2.8M269.8 712l6 2.7l6 -2.7M269.7 708.8l6.1 2.7l6.1 -2.7M269.4 705.5l6.4 2.9l6.4 -2.9M270 702.2l5.8 2.6l5.8 -2.6M270.2 698.8l5.6 2.5l5.6 -2.5M269.8 695.1l6 2.7l6 -2.7M270 691.4l5.8 2.6l5.8 -2.6M270.3 687.4l5.5 2.5l5.5 -2.5M270.5 683.4l5.3 2.4l5.3 -2.4M294 760.9l6.3 2.8l6.3 -2.8M294 758.3l6.3 2.8l6.3 -2.8M294.4 756.1l5.9 2.6l5.9 -2.6M294.3 753.5l6 2.7l6 -2.7M294.3 751.1l6 2.7l6 -2.7M294 748.7l6.3 2.8l6.3 -2.8M294.2 746.4l6.1 2.7l6.1 -2.7M294.5 744l5.8 2.6l5.8 -2.6M294 741.2l6.3 2.8l6.3 -2.8M294.1 735.9l6.2 2.8l6.2 -2.8M294.6 731.2l5.7 2.6l5.7 -2.6M294.6 728.3l5.7 2.6l5.7 -2.6M294.4 722.5l5.9 2.6l5.9 -2.6M294.4 719.9l5.9 2.7l5.9 -2.7M294.6 717.3l5.7 2.6l5.7 -2.6M294.6 714.8l5.7 2.6l5.7 -2.6M294.4 711.9l5.9 2.7l5.9 -2.7M294.5 708.9l5.8 2.6l5.8 -2.6M294.5 706.1l5.8 2.6l5.8 -2.6M294.9 703.3l5.4 2.4l5.4 -2.4M294.5 700.4l5.8 2.6l5.8 -2.6M294.7 697.3l5.6 2.5l5.6 -2.5M295 694.6l5.3 2.4l5.3 -2.4M294.8 691.9l5.5 2.5l5.5 -2.5M295.1 689l5.2 2.3l5.2 -2.3M295.1 685.9l5.2 2.4l5.2 -2.4M294.8 682.9l5.5 2.5l5.5 -2.5M295 680.3l5.3 2.4l5.3 -2.4M294.7 677.4l5.6 2.5l5.6 -2.5M295.3 674.9l5 2.3l5 -2.3M295.2 668.8l5.1 2.3l5.1 -2.3M295 665.7l5.3 2.4l5.3 -2.4M295.3 662.9l5 2.2l5 -2.2M295.2 656.7l5.1 2.3l5.1 -2.3M295.3 653.6l5 2.2l5 -2.2M295.4 650.4l4.9 2.2l4.9 -2.2M295.6 647.3l4.7 2.1l4.7 -2.1M318.1 760.7l6.8 3l6.8 -3M318.1 758.8l6.8 3l6.8 -3M318.1 756.9l6.8 3l6.8 -3M318.1 755l6.8 3l6.8 -3M318.1 753.1l6.8 3l6.8 -3M318.1 751.2l6.8 3l6.8 -3M318.1 749.3l6.8 3l6.8 -3M318.1 747.4l6.8 3l6.8 -3M318.6 745.7l6.2 2.8l6.2 -2.8M342.6 760.7l6.8 3l6.8 -3M342.6 758.8l6.8 3l6.8 -3M342.6 756.9l6.8 3l6.8 -3M342.6 755l6.8 3l6.8 -3M342.6 753.1l6.8 3l6.8 -3M342.6 751.2l6.8 3l6.8 -3M342.6 749.3l6.8 3l6.8 -3M342.6 747.4l6.8 3l6.8 -3M342.6 745.5l6.8 3l6.8 -3M342.6 743.6l6.8 3l6.8 -3M342.6 741.7l6.8 3l6.8 -3M342.6 739.8l6.8 3l6.8 -3M343.4 735.3l5.9 2.6l5.9 -2.6M367.1 760.7l6.8 3l6.8 -3M367.1 758.8l6.8 3l6.8 -3M367.1 756.9l6.8 3l6.8 -3M367.1 755l6.8 3l6.8 -3M367.1 753.1l6.8 3l6.8 -3M367.1 751.2l6.8 3l6.8 -3M367.1 749.3l6.8 3l6.8 -3M367.5 747.6l6.3 2.8l6.3 -2.8M391.6 760.7l6.8 3l6.8 -3M391.6 758.8l6.8 3l6.8 -3M391.6 756.9l6.8 3l6.8 -3M391.6 755l6.8 3l6.8 -3M391.6 753.1l6.8 3l6.8 -3M391.6 751.2l6.8 3l6.8 -3M391.6 749.3l6.8 3l6.8 -3M391.6 747.4l6.8 3l6.8 -3M391.6 745.5l6.8 3l6.8 -3M391.6 743.6l6.8 3l6.8 -3M391.6 741.7l6.8 3l6.8 -3M391.6 739.8l6.8 3l6.8 -3M391.6 737.9l6.7 3l6.7 -3M391.9 734.8l6.4 2.9l6.4 -2.9M392.3 731.8l6 2.7l6 -2.7M392.2 728.3l6.1 2.7l6.1 -2.7M392.7 724.5l5.6 2.5l5.6 -2.5M416.1 760.7l6.8 3l6.8 -3M416.1 758.8l6.8 3l6.8 -3M416.1 756.9l6.8 3l6.8 -3M416.1 755l6.8 3l6.8 -3M416.1 753.1l6.8 3l6.8 -3M416.1 751.2l6.8 3l6.8 -3M416.1 749.3l6.8 3l6.8 -3M416.1 747.4l6.8 3l6.8 -3M416.1 745.5l6.8 3l6.8 -3M416.1 743.6l6.8 3l6.8 -3M416.1 741.7l6.8 3l6.8 -3M416.1 739.8l6.8 3l6.8 -3M416.1 737.9l6.8 3l6.8 -3M416.1 736l6.8 3l6.8 -3M416.5 734.3l6.3 2.8l6.3 -2.8M416.8 731.6l6 2.7l6 -2.7M416.8 728.1l6 2.7l6 -2.7M417.5 721.2l5.3 2.4l5.3 -2.4M440.6 760.7l6.8 3l6.8 -3M440.6 758.8l6.8 3l6.8 -3M440.6 756.9l6.8 3l6.8 -3M440.6 755l6.8 3l6.8 -3M440.6 753.1l6.8 3l6.8 -3M440.6 751.2l6.8 3l6.8 -3M440.6 749.3l6.8 3l6.8 -3M440.6 747.4l6.8 3l6.8 -3M440.6 745.5l6.8 3l6.8 -3M440.6 743.6l6.8 3l6.8 -3M440.6 741.7l6.8 3l6.8 -3M440.6 739.8l6.8 3l6.8 -3M440.6 737.9l6.8 3l6.8 -3M440.6 736l6.8 3l6.8 -3M440.6 734.1l6.8 3l6.8 -3M440.6 732.2l6.8 3l6.8 -3M440.6 730.3l6.8 3l6.8 -3M440.6 728.4l6.7 3l6.7 -3M440.8 725.4l6.5 2.9l6.5 -2.9M441.1 722.3l6.2 2.8l6.2 -2.8M441.5 719.2l5.8 2.6l5.8 -2.6M441.6 715.6l5.7 2.6l5.7 -2.6M442 712l5.3 2.4l5.3 -2.4M465.1 760.7l6.8 3l6.8 -3M465.1 758.8l6.8 3l6.8 -3M465.1 756.9l6.8 3l6.8 -3M465.1 755l6.8 3l6.8 -3M465.1 753.1l6.8 3l6.8 -3M465.1 751.2l6.8 3l6.8 -3M465.1 749.3l6.8 3l6.8 -3M465.9 747.7l5.9 2.7l5.9 -2.7M489.6 760.7l6.8 3l6.8 -3M489.6 758.8l6.8 3l6.8 -3M489.6 756.9l6.8 3l6.8 -3M489.6 755l6.8 3l6.8 -3M489.6 753.1l6.8 3l6.8 -3M489.6 751.2l6.8 3l6.8 -3M489.6 749.3l6.8 3l6.8 -3M489.6 747.4l6.8 3l6.8 -3M490.6 745.9l5.7 2.6l5.7 -2.6M514 760.7l6.8 3l6.8 -3M514 758.8l6.8 3l6.8 -3M514 756.9l6.8 3l6.8 -3M514 755l6.8 3l6.8 -3M514 753.1l6.8 3l6.8 -3M514 751.2l6.8 3l6.8 -3M514 749.3l6.8 3l6.8 -3M514 747.4l6.8 3l6.8 -3M514 745.5l6.8 3l6.8 -3M514 743.6l6.8 3l6.8 -3M514.5 741.9l6.3 2.8l6.3 -2.8M538.5 760.7l6.8 3l6.8 -3M538.5 758.8l6.8 3l6.8 -3M538.5 756.9l6.8 3l6.8 -3M538.5 755l6.8 3l6.8 -3M538.5 753.1l6.8 3l6.8 -3M538.5 751.2l6.8 3l6.8 -3M538.5 749.3l6.8 3l6.8 -3M538.5 747.4l6.8 3l6.8 -3M538.5 745.5l6.8 3l6.8 -3M538.5 743.6l6.8 3l6.8 -3M538.5 741.7l6.8 3l6.8 -3M538.5 739.8l6.8 3l6.8 -3M538.5 737.9l6.8 3l6.8 -3M538.5 736l6.8 3l6.8 -3M539 734.3l6.3 2.8l6.3 -2.8M538.8 730.9l6.5 2.9l6.5 -2.9M539.2 727.9l6.1 2.7l6.1 -2.7M563 760.7l6.8 3l6.8 -3M563 758.8l6.8 3l6.8 -3M563 756.9l6.8 3l6.8 -3M563 755l6.8 3l6.8 -3M563 753.1l6.8 3l6.8 -3M563 751.2l6.8 3l6.8 -3M563 749.3l6.8 3l6.8 -3M563 747.4l6.8 3l6.8 -3M563 745.5l6.8 3l6.8 -3M563 743.6l6.8 3l6.8 -3M563 741.7l6.8 3l6.8 -3M563 739.8l6.8 3l6.8 -3M563 737.9l6.8 3l6.8 -3M563 736l6.8 3l6.8 -3M563 734.1l6.8 3l6.8 -3M563 732.2l6.8 3l6.8 -3M563.4 730.4l6.4 2.9l6.4 -2.9M563.3 727.7l6.5 2.9l6.5 -2.9M564 724.6l5.8 2.6l5.8 -2.6M564.3 721l5.5 2.5l5.5 -2.5M564.2 716.8l5.6 2.5l5.6 -2.5M587.5 760.7l6.8 3l6.8 -3M587.5 758.8l6.8 3l6.8 -3M587.5 756.9l6.8 3l6.8 -3M587.5 755l6.8 3l6.8 -3M587.5 753.1l6.8 3l6.8 -3M587.5 751.2l6.8 3l6.8 -3M587.5 749.3l6.8 3l6.8 -3M587.5 747.4l6.8 3l6.8 -3M587.5 745.5l6.8 3l6.8 -3M587.5 743.6l6.8 3l6.8 -3M587.5 741.7l6.8 3l6.8 -3M587.5 739.8l6.8 3l6.8 -3M587.5 737.9l6.8 3l6.8 -3M587.5 736l6.8 3l6.8 -3M587.5 734.1l6.8 3l6.8 -3M588 732.4l6.3 2.8l6.3 -2.8M588.2 729.5l6.1 2.8l6.1 -2.8M588.4 722.9l5.9 2.6l5.9 -2.6M589 719l5.3 2.4l5.3 -2.4" fill="none" stroke="#000" stroke-width="2.3" stroke-linecap="round" stroke-linejoin="round"/></g>
<line x1="161.4" y1="468.3" x2="161.4" y2="764.8" stroke="#000" stroke-width="4.2"/>
<line x1="149.7" y1="762.7" x2="610.5" y2="762.7" stroke="#000" stroke-width="4.2"/>
<line x1="149.7" y1="689.6" x2="161.4" y2="689.6" stroke="#000" stroke-width="4.2"/>
<line x1="149.7" y1="616.5" x2="161.4" y2="616.5" stroke="#000" stroke-width="4.2"/>
<line x1="149.7" y1="543.5" x2="161.4" y2="543.5" stroke="#000" stroke-width="4.2"/>
<line x1="149.7" y1="470.4" x2="161.4" y2="470.4" stroke="#000" stroke-width="4.2"/>
<text x="131.5" y="769.8" font-size="24.6" fill="#111" stroke="#111" stroke-width="0.25" text-anchor="end">0</text>
<text x="131.5" y="696.7" font-size="24.6" fill="#111" stroke="#111" stroke-width="0.25" text-anchor="end">2</text>
<text x="131.5" y="623.6" font-size="24.6" fill="#111" stroke="#111" stroke-width="0.25" text-anchor="end">4</text>
<text x="131.5" y="550.6" font-size="24.6" fill="#111" stroke="#111" stroke-width="0.25" text-anchor="end">6</text>
<text x="131.5" y="477.5" font-size="24.6" fill="#111" stroke="#111" stroke-width="0.25" text-anchor="end">8</text>
<line x1="177.8" y1="762.7" x2="177.8" y2="772.1" stroke="#000" stroke-width="4.4"/>
<line x1="202.3" y1="762.7" x2="202.3" y2="772.1" stroke="#000" stroke-width="4.4"/>
<line x1="226.8" y1="762.7" x2="226.8" y2="772.1" stroke="#000" stroke-width="4.4"/>
<line x1="251.3" y1="762.7" x2="251.3" y2="772.1" stroke="#000" stroke-width="4.4"/>
<line x1="275.8" y1="762.7" x2="275.8" y2="772.1" stroke="#000" stroke-width="4.4"/>
<line x1="300.3" y1="762.7" x2="300.3" y2="772.1" stroke="#000" stroke-width="4.4"/>
<line x1="324.8" y1="762.7" x2="324.8" y2="772.1" stroke="#000" stroke-width="4.4"/>
<line x1="349.3" y1="762.7" x2="349.3" y2="772.1" stroke="#000" stroke-width="4.4"/>
<line x1="373.8" y1="762.7" x2="373.8" y2="772.1" stroke="#000" stroke-width="4.4"/>
<line x1="398.3" y1="762.7" x2="398.3" y2="772.1" stroke="#000" stroke-width="4.4"/>
<line x1="422.8" y1="762.7" x2="422.8" y2="772.1" stroke="#000" stroke-width="4.4"/>
<line x1="447.3" y1="762.7" x2="447.3" y2="772.1" stroke="#000" stroke-width="4.4"/>
<line x1="471.8" y1="762.7" x2="471.8" y2="772.1" stroke="#000" stroke-width="4.4"/>
<line x1="496.3" y1="762.7" x2="496.3" y2="772.1" stroke="#000" stroke-width="4.4"/>
<line x1="520.8" y1="762.7" x2="520.8" y2="772.1" stroke="#000" stroke-width="4.4"/>
<line x1="545.3" y1="762.7" x2="545.3" y2="772.1" stroke="#000" stroke-width="4.4"/>
<line x1="569.8" y1="762.7" x2="569.8" y2="772.1" stroke="#000" stroke-width="4.4"/>
<line x1="594.3" y1="762.7" x2="594.3" y2="772.1" stroke="#000" stroke-width="4.4"/>
<path d="M177.8 804.7L299.1 789.5L299.1 804.7Z" fill="#231f20"/>
<text x="237.9" y="843" font-size="28.7" fill="#111" stroke="#111" stroke-width="0.25" text-anchor="middle">WT</text>
<path d="M324.8 804.7L446.1 789.5L446.1 804.7Z" fill="#231f20"/>
<text x="386.6" y="843" font-size="28.7" fill="#111" stroke="#111" stroke-width="0.25" text-anchor="middle">T158M</text>
<path d="M471.8 804.7L593.1 789.5L593.1 804.7Z" fill="#231f20"/>
<text x="531.8" y="843" font-size="28.7" fill="#111" stroke="#111" stroke-width="0.25" text-anchor="middle">R133C</text>
<text x="40.1" y="807.3" font-size="28.2" fill="#111" stroke="#111" stroke-width="0.25">[protein]</text>
<text font-size="28.7" fill="#111" stroke="#111" stroke-width="0.25" transform="translate(78.2 730.2) rotate(-90)">Droplet area (µm<tspan font-size="16.5" dy="-9.6">2</tspan><tspan dy="9.6">)</tspan></text>
<text x="2.1" y="468.7" font-size="32.8" fill="#111" stroke="#111" stroke-width="0.25" font-weight="bold">b</text>
<clipPath id="swc"><rect x="799.8" y="0" width="304.2" height="761.3"/></clipPath>
<g clip-path="url(#swc)"><path d="M809.6 749.6h0M814.1 751h0M818.5 750.8h0M822 750h0M816.4 747.9h0M820.5 746.4h0M834.6 745.1h0M838.3 746.5h0M840 739.4h0M839.5 735.7h0M840.5 731.7h0M858.9 738.1h0M863 739.9h0M867 739.9h0M871.1 738.1h0M859.6 732.1h0M863.2 733.7h0M866.8 733.7h0M870.4 732.1h0M860.9 729.2h0M864.9 730.7h0M869.4 728.9h0M864.1 720.7h0M884 704.7h0M887.7 706.4h0M891.3 706.4h0M895 704.7h0M883.6 697.1h0M887.2 698.4h0M891.8 698.8h0M895.9 696.7h0M883.8 693.3h0M891.8 694h0M895.2 692.8h0M883.1 689.1h0M887 690.6h0M889 687.7h0M893.5 686.4h0M890.1 677.3h0M887.7 670h0M891.3 670h0M887.7 665.6h0M891.3 665.6h0M888.8 660.8h0M888.6 654.6h0M907.8 744.1h0M911.9 746h0M916.1 746h0M920.2 744.1h0M908 717.8h0M912 719.6h0M916 719.6h0M920 717.8h0M907.9 678.5h0M912 680.4h0M916 680.4h0M920.1 678.5h0M908.7 648.9h0M912.2 650.5h0M915.8 650.5h0M919.3 648.9h0M908.3 631.9h0M911.8 633.2h0M920.4 632.2h0M907.7 627.7h0M912.4 629.1h0M915.8 629.1h0M910.2 624.4h0M914 626.5h0M917.8 624.9h0M907.6 619.8h0M915.8 621.8h0M920.2 620.6h0M911.8 617.3h0M915.7 618.1h0M920.5 615.4h0M913.8 613.9h0M918.4 613h0M909.9 609h0M918.4 608.4h0M914.1 606.8h0M918 604.8h0M911.8 602.2h0M919.9 600.8h0M909.9 597.5h0M913.8 599.2h0M919.8 593.4h0M920.1 588.4h0M908 585.1h0M915.9 582.9h0M919.9 581.6h0M907.5 576.5h0M913.1 551.9h0M913.3 544.3h0M913.3 527.1h0M914.3 516.9h0M932.1 755.7h0M936.4 757.7h0M940.6 757.7h0M944.9 755.7h0M932 748h0M936.3 750h0M940.7 750h0M945 748h0M932.5 695.3h0M936.5 697.2h0M940.5 697.2h0M944.5 695.3h0M932.3 627.9h0M936.2 629.3h0M940.6 629.6h0M944.6 628.3h0M932.4 623.7h0M936.7 625.3h0M940.9 625.7h0M944.9 624.4h0M932.8 620.1h0M936.5 621.4h0M940.7 621.6h0M945 620.3h0M932.7 615.8h0M940.3 618.1h0M944.5 616h0M934.8 612.9h0M938.6 615h0M942.2 613.1h0M934.6 609.7h0M938.9 610.8h0M942.5 608.6h0M934 605h0M938.8 606.8h0M942.3 605.1h0M934.1 601.4h0M938.8 603h0M942.8 601.1h0M932.7 596.7h0M936.7 598.2h0M940.5 594.1h0M944.8 592.2h0M936.3 590.9h0M944.8 588.7h0M938 587.5h0M942.5 585.2h0M934.7 581.8h0M938.9 582.9h0M932.3 576.8h0M940.4 578.5h0M934.7 574h0M938.8 574.8h0M932.9 570.1h0M940.1 567.4h0M944.7 565.8h0M932.3 561.1h0M939.2 551.9h0M939.2 515h0M938 500.8h0M938.8 496h0M938 488.4h0M958.8 750.5h0M966.9 750.7h0M981.1 743.9h0M989.6 744.6h0M985.7 728.8h0M989.3 728.8h0M988.4 716h0M1006.4 724.8h0M1010.1 726.5h0M1013.9 726.5h0M1017.6 724.8h0M1011 716h0M1012.6 712.3h0M1030.3 721.7h0M1034.4 723.5h0M1038.6 723.5h0M1042.7 721.7h0M1030.9 703.1h0M1034.6 705.4h0M1038.8 705.2h0M1042.7 704.1h0M1030.8 700.1h0M1034.1 700.9h0M1038.5 700.7h0M1043 699.9h0M1032.6 697h0M1037 698h0M1040.8 696.1h0M1036.3 693.7h0M1040.1 692.3h0M1032.7 688.6h0M1036.4 689.7h0M1041 688h0M1038.9 685.8h0M1042.3 683.7h0M1038.7 681.1h0M1036.7 667h0M1054.7 688.1h0M1059.2 689.5h0M1063 689.4h0M1066.6 688.8h0M1054.4 684.3h0M1058.8 686h0M1062.9 686.6h0M1066.9 684h0M1055 680h0M1058.9 682.1h0M1063.3 682.2h0M1067.3 680.8h0M1057.2 677.7h0M1060.8 679.2h0M1064.8 677.2h0M1056.4 673.1h0M1060.8 674.6h0M1057.3 669.8h0M1065.1 670.1h0M1059 666.7h0M1062.9 666.1h0M1054.9 661.2h0M1066.7 661.8h0M1055 657.1h0M1059.2 644h0M1062.8 644h0M1061.2 622.5h0M1061 600.9h0M1079.7 683.1h0M1083.6 684.9h0M1087.4 684.9h0M1091.3 683.1h0M1079.8 675.7h0M1083.1 676.6h0M1087.7 676.2h0M1092 675.3h0M1079.2 670.8h0M1083.9 672.6h0M1087.6 673h0M1091.7 671.7h0M1079.6 667.2h0M1083.7 669.3h0M1087.5 669.2h0M1091.8 666.8h0M1079.1 663.7h0M1083.8 664.8h0M1088 664.5h0M1091.5 664h0M1079.8 659.2h0M1083.2 661.4h0M1087.7 660.6h0M1091.6 659.7h0M1079.8 655.3h0M1083.9 657.6h0M1087.7 657h0M1091.3 655.8h0M1079 651.7h0M1083.6 653.9h0M1087.8 653.8h0M1091.8 651.7h0M1078.9 648.1h0M1083 648.7h0M1087.1 649.5h0M1091.9 648.2h0M1079.3 643.8h0M1083.4 645.3h0M1087.6 645.7h0M1091.2 644.7h0M1079.8 639.7h0M1083 642h0M1087.4 641.5h0M1091.9 639.6h0M1085.5 626.8h0M1084.5 617.3h0M1084.8 612.6h0M1086.3 603.1h0M1083.7 557.8h0M1087.3 557.8h0" fill="none" stroke="#000" stroke-width="2.7" stroke-linecap="round"/><path d="M810.1 755.3l5.9 2.7l5.9 -2.7M810.5 752.5l5.5 2.5l5.5 -2.5M833.8 759.3l6.8 3l6.8 -3M833.8 757.4l6.8 3l6.8 -3M833.8 755.5l6.8 3l6.8 -3M833.8 753.6l6.8 3l6.8 -3M833.8 751.7l6.7 3l6.7 -3M834.9 749.6l5.6 2.5l5.6 -2.5M858.2 759.3l6.8 3l6.8 -3M858.2 757.4l6.8 3l6.8 -3M858.2 755.5l6.8 3l6.8 -3M858.2 753.6l6.8 3l6.8 -3M858.2 751.7l6.8 3l6.8 -3M858.2 749.8l6.8 3l6.8 -3M858.2 747.9l6.8 3l6.8 -3M858.2 746l6.8 3l6.8 -3M858.2 744.1l6.8 3l6.8 -3M858.2 742.2l6.8 3l6.8 -3M858.6 740.4l6.4 2.9l6.4 -2.9M858.9 734.9l6.1 2.8l6.1 -2.8M882.8 759.3l6.8 3l6.8 -3M882.8 757.4l6.8 3l6.8 -3M882.8 755.5l6.8 3l6.8 -3M882.8 753.6l6.8 3l6.8 -3M882.8 751.7l6.8 3l6.8 -3M882.8 749.8l6.8 3l6.8 -3M882.8 747.9l6.8 3l6.8 -3M882.8 746l6.8 3l6.8 -3M882.8 744.1l6.8 3l6.8 -3M882.8 742.2l6.8 3l6.8 -3M882.8 740.3l6.8 3l6.8 -3M882.8 738.4l6.8 3l6.8 -3M882.8 736.5l6.8 3l6.8 -3M882.8 734.6l6.8 3l6.8 -3M882.8 732.7l6.8 3l6.8 -3M882.8 730.8l6.8 3l6.8 -3M882.9 728.9l6.6 3l6.6 -3M883.3 726.3l6.2 2.8l6.2 -2.8M883.1 723.8l6.4 2.9l6.4 -2.9M883 721l6.5 2.9l6.5 -2.9M883.4 718.4l6.1 2.8l6.1 -2.8M883.8 715.7l5.7 2.6l5.7 -2.6M883.7 712.2l5.8 2.6l5.8 -2.6M884 708.8l5.5 2.5l5.5 -2.5M884 700.7l5.5 2.5l5.5 -2.5M907.7 759.4l6.3 2.9l6.3 -2.9M907.6 755.5l6.4 2.9l6.4 -2.9M907.2 751.8l6.8 3l6.8 -3M907.2 747.8l6.8 3l6.8 -3M907.5 740l6.5 2.9l6.5 -2.9M907.7 736.6l6.3 2.8l6.3 -2.8M907.6 732.7l6.4 2.9l6.4 -2.9M907.9 729.3l6.1 2.8l6.1 -2.8M907.7 725.6l6.3 2.8l6.3 -2.8M907.7 721.6l6.3 2.8l6.3 -2.8M907.9 714.1l6.1 2.7l6.1 -2.7M908 710.4l6 2.7l6 -2.7M907.9 706.7l6.1 2.7l6.1 -2.7M907.8 702.8l6.2 2.8l6.2 -2.8M908.2 699.3l5.8 2.6l5.8 -2.6M908.3 695.4l5.7 2.6l5.7 -2.6M907.8 691l6.2 2.8l6.2 -2.8M908.4 687.1l5.6 2.5l5.6 -2.5M908.1 682.7l5.9 2.6l5.9 -2.6M908.5 674.5l5.5 2.5l5.5 -2.5M908.3 670.1l5.7 2.5l5.7 -2.5M908.2 665.9l5.8 2.6l5.8 -2.6M908.6 661.8l5.4 2.4l5.4 -2.4M908.2 657.1l5.8 2.6l5.8 -2.6M908.7 653l5.3 2.4l5.3 -2.4M908.6 644.7l5.4 2.4l5.4 -2.4M908.7 640.4l5.3 2.4l5.3 -2.4M908.9 636.3l5.1 2.3l5.1 -2.3M931.8 759.3l6.7 3l6.7 -3M931.8 751.7l6.8 3l6.8 -3M932.3 744.4l6.2 2.8l6.2 -2.8M932.2 740.9l6.3 2.8l6.3 -2.8M931.9 737.2l6.6 3l6.6 -3M931.9 733.5l6.6 3l6.6 -3M932 729.7l6.5 2.9l6.5 -2.9M932.4 726l6.1 2.8l6.1 -2.8M932 721.8l6.5 2.9l6.5 -2.9M932.5 718.4l6 2.7l6 -2.7M932.3 714.4l6.2 2.8l6.2 -2.8M932.5 710.6l6 2.7l6 -2.7M932.7 706.7l5.8 2.6l5.8 -2.6M932.6 702.9l5.9 2.7l5.9 -2.7M932.7 699.2l5.8 2.6l5.8 -2.6M932.4 691l6.1 2.7l6.1 -2.7M932.6 687.3l5.9 2.7l5.9 -2.7M932.7 683.1l5.8 2.6l5.8 -2.6M932.7 679l5.8 2.6l5.8 -2.6M932.6 675l5.9 2.7l5.9 -2.7M932.6 671l5.9 2.7l5.9 -2.7M932.8 666.9l5.7 2.5l5.7 -2.5M933 662.8l5.5 2.5l5.5 -2.5M933.1 658.4l5.4 2.4l5.4 -2.4M932.7 653.9l5.8 2.6l5.8 -2.6M933.2 649.9l5.3 2.4l5.3 -2.4M932.9 645.6l5.6 2.5l5.6 -2.5M933.2 641.3l5.3 2.4l5.3 -2.4M933.2 637.1l5.3 2.4l5.3 -2.4M932.9 632.3l5.6 2.5l5.6 -2.5M958.6 756l4.4 2l4.4 -2M959.3 753.7l3.7 1.7l3.7 -1.7M980.8 759.3l6.8 3l6.8 -3M980.8 757.4l6.8 3l6.8 -3M980.8 755.5l6.8 3l6.8 -3M980.8 753.6l6.8 3l6.8 -3M980.8 751.7l6.8 3l6.8 -3M981.2 750l6.3 2.8l6.3 -2.8M982.1 747.6l5.4 2.4l5.4 -2.4M1005.2 759.3l6.8 3l6.8 -3M1005.2 757.4l6.8 3l6.8 -3M1005.2 755.5l6.8 3l6.8 -3M1005.2 753.6l6.8 3l6.8 -3M1005.2 751.7l6.8 3l6.8 -3M1005.2 749.8l6.8 3l6.8 -3M1005.2 747.9l6.8 3l6.8 -3M1005.2 746l6.8 3l6.8 -3M1005.2 744.1l6.8 3l6.8 -3M1005.2 742.2l6.8 3l6.8 -3M1005.2 740.3l6.8 3l6.8 -3M1005.2 738.4l6.8 3l6.8 -3M1005.6 736.6l6.4 2.9l6.4 -2.9M1005.4 734.1l6.6 3l6.6 -3M1005.7 731.3l6.3 2.8l6.3 -2.8M1006.3 728.4l5.7 2.5l5.7 -2.5M1029.8 759.3l6.8 3l6.8 -3M1029.8 757.4l6.8 3l6.8 -3M1029.8 755.5l6.8 3l6.8 -3M1029.8 753.6l6.8 3l6.8 -3M1029.8 751.7l6.8 3l6.8 -3M1029.8 749.8l6.8 3l6.8 -3M1029.8 747.9l6.8 3l6.8 -3M1029.8 746l6.8 3l6.8 -3M1029.8 744.1l6.8 3l6.8 -3M1029.8 742.2l6.8 3l6.8 -3M1029.8 740.3l6.8 3l6.8 -3M1029.8 738.4l6.8 3l6.8 -3M1029.8 736.5l6.8 3l6.8 -3M1029.8 734.6l6.8 3l6.8 -3M1030.1 732.8l6.4 2.9l6.4 -2.9M1029.8 730l6.8 3l6.8 -3M1030.4 727.4l6.1 2.7l6.1 -2.7M1030.6 724.7l5.9 2.7l5.9 -2.7M1030.6 718.6l5.9 2.7l5.9 -2.7M1030.9 715.1l5.6 2.5l5.6 -2.5M1030.6 711.5l5.9 2.7l5.9 -2.7M1030.8 707.6l5.7 2.6l5.7 -2.6M1054.2 759.3l6.8 3l6.8 -3M1054.2 757.4l6.8 3l6.8 -3M1054.2 755.5l6.8 3l6.8 -3M1054.2 753.6l6.8 3l6.8 -3M1054.2 751.7l6.8 3l6.8 -3M1054.2 749.8l6.8 3l6.8 -3M1054.2 747.9l6.8 3l6.8 -3M1054.2 746l6.8 3l6.8 -3M1054.2 744.1l6.8 3l6.8 -3M1054.2 742.2l6.8 3l6.8 -3M1054.2 740.3l6.8 3l6.8 -3M1054.2 738.4l6.8 3l6.8 -3M1054.2 736.5l6.8 3l6.8 -3M1054.5 733.8l6.5 2.9l6.5 -2.9M1054.3 731.1l6.7 3l6.7 -3M1054.4 728.4l6.6 3l6.6 -3M1054.7 725.9l6.3 2.8l6.3 -2.8M1054.7 723l6.3 2.8l6.3 -2.8M1054.8 719.8l6.2 2.8l6.2 -2.8M1054.8 716.8l6.2 2.8l6.2 -2.8M1055 713.9l6 2.7l6 -2.7M1055.1 710.5l5.9 2.7l5.9 -2.7M1055.1 706.9l5.9 2.7l5.9 -2.7M1055.3 703.6l5.7 2.6l5.7 -2.6M1055.5 700l5.5 2.5l5.5 -2.5M1055.6 696.1l5.4 2.4l5.4 -2.4M1055.8 692.4l5.2 2.3l5.2 -2.3M1078.9 759.3l6.6 3l6.6 -3M1078.8 756l6.7 3l6.7 -3M1079.2 752.6l6.3 2.8l6.3 -2.8M1078.9 748.9l6.6 2.9l6.6 -2.9M1079.2 745.3l6.3 2.9l6.3 -2.9M1079 741.4l6.5 2.9l6.5 -2.9M1079.3 738l6.2 2.8l6.2 -2.8M1079.4 734.5l6.1 2.7l6.1 -2.7M1079.2 730.6l6.3 2.8l6.3 -2.8M1079 726.8l6.5 2.9l6.5 -2.9M1079.4 723.3l6.1 2.7l6.1 -2.7M1079.6 719.2l5.9 2.6l5.9 -2.6M1079.7 715.5l5.8 2.6l5.8 -2.6M1079.7 711.7l5.8 2.6l5.8 -2.6M1079.9 707.8l5.6 2.5l5.6 -2.5M1079.9 703.7l5.6 2.5l5.6 -2.5M1080 699.9l5.5 2.5l5.5 -2.5M1079.6 695.5l5.9 2.7l5.9 -2.7M1080.1 691.8l5.4 2.4l5.4 -2.4M1080.3 687.9l5.2 2.3l5.2 -2.3M1080.2 679.2l5.3 2.4l5.3 -2.4" fill="none" stroke="#000" stroke-width="2.3" stroke-linecap="round" stroke-linejoin="round"/></g>
<line x1="799.8" y1="466.9" x2="799.8" y2="763.4" stroke="#000" stroke-width="4.2"/>
<line x1="787.8" y1="761.3" x2="1104" y2="761.3" stroke="#000" stroke-width="4.2"/>
<line x1="787.8" y1="688.2" x2="799.8" y2="688.2" stroke="#000" stroke-width="4.2"/>
<line x1="787.8" y1="615.1" x2="799.8" y2="615.1" stroke="#000" stroke-width="4.2"/>
<line x1="787.8" y1="542.1" x2="799.8" y2="542.1" stroke="#000" stroke-width="4.2"/>
<line x1="787.8" y1="469" x2="799.8" y2="469" stroke="#000" stroke-width="4.2"/>
<text x="769.8" y="768.4" font-size="24.6" fill="#111" stroke="#111" stroke-width="0.25" text-anchor="end">0</text>
<text x="769.8" y="695.3" font-size="24.6" fill="#111" stroke="#111" stroke-width="0.25" text-anchor="end">2</text>
<text x="769.8" y="622.2" font-size="24.6" fill="#111" stroke="#111" stroke-width="0.25" text-anchor="end">4</text>
<text x="769.8" y="549.2" font-size="24.6" fill="#111" stroke="#111" stroke-width="0.25" text-anchor="end">6</text>
<text x="769.8" y="476.1" font-size="24.6" fill="#111" stroke="#111" stroke-width="0.25" text-anchor="end">8</text>
<line x1="816" y1="761.3" x2="816" y2="770.7" stroke="#000" stroke-width="4.4"/>
<line x1="840.5" y1="761.3" x2="840.5" y2="770.7" stroke="#000" stroke-width="4.4"/>
<line x1="865" y1="761.3" x2="865" y2="770.7" stroke="#000" stroke-width="4.4"/>
<line x1="889.5" y1="761.3" x2="889.5" y2="770.7" stroke="#000" stroke-width="4.4"/>
<line x1="914" y1="761.3" x2="914" y2="770.7" stroke="#000" stroke-width="4.4"/>
<line x1="938.5" y1="761.3" x2="938.5" y2="770.7" stroke="#000" stroke-width="4.4"/>
<line x1="963" y1="761.3" x2="963" y2="770.7" stroke="#000" stroke-width="4.4"/>
<line x1="987.5" y1="761.3" x2="987.5" y2="770.7" stroke="#000" stroke-width="4.4"/>
<line x1="1012" y1="761.3" x2="1012" y2="770.7" stroke="#000" stroke-width="4.4"/>
<line x1="1036.5" y1="761.3" x2="1036.5" y2="770.7" stroke="#000" stroke-width="4.4"/>
<line x1="1061" y1="761.3" x2="1061" y2="770.7" stroke="#000" stroke-width="4.4"/>
<line x1="1085.5" y1="761.3" x2="1085.5" y2="770.7" stroke="#000" stroke-width="4.4"/>
<path d="M816 804L937.3 788.8L937.3 804Z" fill="#231f20"/>
<text x="879.5" y="843.3" font-size="28.7" fill="#111" stroke="#111" stroke-width="0.25" text-anchor="middle">WT</text>
<path d="M963 804L1084.3 788.8L1084.3 804Z" fill="#231f20"/>
<text x="1023.9" y="843.3" font-size="28.7" fill="#111" stroke="#111" stroke-width="0.25" text-anchor="middle">R306C</text>
<text x="677.6" y="807.8" font-size="28.2" fill="#111" stroke="#111" stroke-width="0.25">[protein]</text>
<text font-size="28.7" fill="#111" stroke="#111" stroke-width="0.25" transform="translate(716.4 728.6) rotate(-90)">Droplet area (µm<tspan font-size="16.5" dy="-9.6">2</tspan><tspan dy="9.6">)</tspan></text>
<text x="639.5" y="468.8" font-size="32.8" fill="#111" stroke="#111" stroke-width="0.25" font-weight="bold">c</text>
<clipPath id="swf"><rect x="161.4" y="0" width="449.1" height="2274.9"/></clipPath>
<g clip-path="url(#swf)"><path d="M171.4 2252.7h0M175.4 2254.1h0M179.5 2254.9h0M184.4 2253.4h0M177.7 2251.4h0M181.7 2249.8h0M202.9 2245.3h0M220.4 2239.5h0M225 2241.9h0M228.4 2242.2h0M233.1 2240.3h0M224.9 2237.8h0M228.9 2237.3h0M232.9 2236.5h0M222.5 2232.3h0M231.3 2232.9h0M227 2217.6h0M245.5 2217.6h0M249.4 2219.3h0M253.2 2219.3h0M257.1 2217.6h0M245.7 2213.5h0M249.4 2215.2h0M253.2 2215.2h0M256.9 2213.5h0M247 2211h0M251.1 2211.4h0M255.4 2211h0M245 2205.6h0M257.3 2206h0M249.5 2190.4h0M253.1 2190.4h0M270.2 2176.7h0M273.9 2178.4h0M277.7 2178.4h0M281.4 2176.7h0M273.5 2173.5h0M277.5 2174.7h0M281.7 2172h0M269.3 2168h0M273.8 2169.6h0M278.2 2169.8h0M269.5 2164.8h0M273.6 2166.3h0M278.2 2165.5h0M271.3 2161.5h0M280.3 2161.9h0M271.4 2157.3h0M275.4 2158.7h0M279.8 2158h0M271.7 2154.2h0M275.8 2155.6h0M273.7 2150.1h0M282.1 2149.2h0M276.6 2133.1h0M276.3 2110.3h0M294.1 2265.8h0M298.2 2267.6h0M302.4 2267.6h0M306.5 2265.8h0M294.1 2252.9h0M298.2 2254.8h0M302.4 2254.8h0M306.5 2252.9h0M294.5 2221.5h0M298.4 2223.2h0M302.2 2223.2h0M306.1 2221.5h0M294.8 2215.8h0M298.5 2217.4h0M302.1 2217.4h0M305.8 2215.8h0M295.2 2175.4h0M298.6 2177h0M302 2177h0M305.4 2175.4h0M295.3 2148.3h0M300.3 2150.5h0M305.3 2148.3h0M294.1 2138h0M298.4 2140.1h0M305.9 2139h0M296.2 2135.4h0M300.3 2137.3h0M304.6 2135h0M294.3 2130.6h0M298.3 2132h0M301.8 2132.1h0M305.9 2131.1h0M294.3 2127h0M298.3 2128.6h0M305.5 2126.8h0M296.6 2123.6h0M299.8 2124.9h0M304.1 2123.5h0M295 2119h0M302.2 2121h0M296 2115.2h0M303.9 2115.4h0M297 2112.2h0M304.1 2111.4h0M296.3 2107.6h0M300.5 2109.8h0M299.4 2086h0M299.8 2080.1h0M299.8 2061.2h0M298.5 2045.7h0M302.1 2045.7h0M300 2035.3h0M320.8 2255.2h0M324.6 2256.6h0M328.4 2255.1h0M343.5 2259.2h0M351.5 2259.8h0M355.7 2258.7h0M346.8 2256.5h0M355.6 2254.2h0M367.9 2258.6h0M371.9 2259.9h0M375.6 2259.8h0M380.1 2258.8h0M370.1 2256.2h0M374.1 2256.4h0M377.5 2256h0M373.6 2245.3h0M372.9 2239.3h0M417.1 2221.2h0M420.7 2223h0M424.8 2222.5h0M428.6 2221.4h0M417 2217.6h0M420.4 2218.5h0M428.9 2217.4h0M419 2214.5h0M423.2 2215.3h0M426.5 2213.6h0M417 2209.3h0M428.6 2209.3h0M441.2 2206.6h0M445.2 2207.6h0M449.2 2207.9h0M453.5 2206.8h0M445.4 2203.6h0M449.5 2204.5h0M453.2 2202.8h0M440.9 2199h0M445.2 2199.5h0M449.3 2200.4h0M442.9 2195.8h0M451.1 2195.1h0M445.2 2191.9h0M449.8 2192.4h0M465.6 2260.6h0M469.6 2262.6h0M473.5 2262.9h0M477.4 2261.8h0M466.1 2257.9h0M470.2 2258.6h0M473.9 2258.2h0M477.9 2252.9h0M493.9 2258.3h0M498.1 2258.3h0M502.7 2257.5h0M490.6 2253.1h0M498.4 2254.7h0M496.3 2251.1h0M495.9 2246.3h0M520.5 2254.4h0M521.1 2249.2h0M539.2 2249.1h0M543.3 2250.9h0M547.3 2250.9h0M551.4 2249.1h0M539.5 2242.4h0M543.4 2244.1h0M547.2 2244.1h0M551.1 2242.4h0M543.5 2232.4h0M547.1 2232.4h0M564 2224.2h0M568.1 2226h0M571.5 2225.6h0M575.9 2223.6h0M564 2219.8h0M572.1 2220.8h0M576.3 2219.9h0M569.6 2217.9h0M573.4 2217.2h0M565.6 2212.6h0M573.4 2213.3h0M570.4 2202.3h0M588.6 2229.2h0M592.4 2230.9h0M596.2 2230.9h0M600 2229.2h0M588 2225.4h0M591.8 2226.9h0M596.3 2226.7h0M600.8 2224.9h0M588.5 2221.9h0M592.2 2222.8h0M596.4 2223.3h0M600 2221.1h0M588.6 2218.1h0M592.4 2219.1h0M600.5 2217.2h0M588.6 2213.4h0M592.4 2214.8h0M596.7 2211.2h0M600.7 2210.2h0M591.8 2207.7h0M594.3 2201.1h0M593.9 2189.2h0" fill="none" stroke="#000" stroke-width="2.7" stroke-linecap="round"/><path d="M171.1 2272.9l6.8 3l6.8 -3M171.1 2271l6.8 3l6.8 -3M171.1 2269.1l6.8 3l6.8 -3M171.1 2267.2l6.8 3l6.8 -3M171.1 2265.3l6.8 3l6.8 -3M171.1 2263.4l6.8 3l6.8 -3M171.1 2261.5l6.8 3l6.8 -3M171.1 2259.6l6.8 3l6.8 -3M171.1 2257.7l6.8 3l6.8 -3M171.2 2255.8l6.6 3l6.6 -3M195.6 2272.9l6.8 3l6.8 -3M195.6 2271l6.8 3l6.8 -3M195.6 2269.1l6.8 3l6.8 -3M195.6 2267.2l6.8 3l6.8 -3M195.6 2265.3l6.8 3l6.8 -3M195.6 2263.4l6.8 3l6.8 -3M195.6 2261.5l6.8 3l6.8 -3M195.6 2259.6l6.8 3l6.8 -3M195.6 2257.7l6.8 3l6.8 -3M195.6 2255.8l6.8 3l6.8 -3M196.1 2254.1l6.2 2.8l6.2 -2.8M220.1 2272.9l6.8 3l6.8 -3M220.1 2271l6.8 3l6.8 -3M220.1 2269.1l6.8 3l6.8 -3M220.1 2267.2l6.8 3l6.8 -3M220.1 2265.3l6.8 3l6.8 -3M220.1 2263.4l6.8 3l6.8 -3M220.1 2261.5l6.8 3l6.8 -3M220.1 2259.6l6.8 3l6.8 -3M220.1 2257.7l6.8 3l6.8 -3M220.1 2255.8l6.8 3l6.8 -3M220.1 2253.9l6.8 3l6.8 -3M220.1 2252l6.8 3l6.8 -3M220.1 2250.1l6.8 3l6.8 -3M220.1 2248.2l6.8 3l6.8 -3M220.1 2246.3l6.8 3l6.8 -3M220.1 2244.4l6.8 3l6.8 -3M220.8 2242.8l6 2.7l6 -2.7M244.6 2272.9l6.8 3l6.8 -3M244.6 2271l6.8 3l6.8 -3M244.6 2269.1l6.8 3l6.8 -3M244.6 2267.2l6.8 3l6.8 -3M244.6 2265.3l6.8 3l6.8 -3M244.6 2263.4l6.8 3l6.8 -3M244.6 2261.5l6.8 3l6.8 -3M244.6 2259.6l6.8 3l6.8 -3M244.6 2257.7l6.8 3l6.8 -3M244.6 2255.8l6.8 3l6.8 -3M244.6 2253.9l6.8 3l6.8 -3M244.6 2252l6.8 3l6.8 -3M244.6 2250.1l6.8 3l6.8 -3M244.6 2248.2l6.8 3l6.8 -3M244.6 2246.3l6.8 3l6.8 -3M244.6 2244.4l6.8 3l6.8 -3M244.6 2242.5l6.8 3l6.8 -3M244.6 2240.6l6.8 3l6.8 -3M244.6 2238.7l6.8 3l6.8 -3M244.6 2236.8l6.8 3l6.8 -3M244.6 2234.9l6.7 3l6.7 -3M244.8 2231.7l6.5 2.9l6.5 -2.9M245.3 2228.8l6 2.7l6 -2.7M244.9 2225l6.4 2.9l6.4 -2.9M245.5 2221.6l5.8 2.6l5.8 -2.6M269.1 2272.9l6.8 3l6.8 -3M269.1 2271l6.8 3l6.8 -3M269.1 2269.1l6.8 3l6.8 -3M269.1 2267.2l6.8 3l6.8 -3M269.1 2265.3l6.8 3l6.8 -3M269.1 2263.4l6.8 3l6.8 -3M269.1 2261.5l6.8 3l6.8 -3M269.1 2259.6l6.8 3l6.8 -3M269.1 2257.7l6.8 3l6.8 -3M269.1 2255.8l6.8 3l6.8 -3M269.1 2253.9l6.8 3l6.8 -3M269.1 2252l6.8 3l6.8 -3M269.1 2250.1l6.8 3l6.8 -3M269.1 2248.2l6.8 3l6.8 -3M269.1 2246.3l6.8 3l6.8 -3M269.1 2244.4l6.8 3l6.8 -3M269.1 2242.5l6.8 3l6.8 -3M269.1 2240.6l6.8 3l6.8 -3M269.1 2238.7l6.8 3l6.8 -3M269.1 2236.8l6.8 3l6.8 -3M269.1 2234.9l6.8 3l6.8 -3M269.1 2233l6.8 3l6.8 -3M269.1 2231.1l6.8 3l6.8 -3M269.1 2229.2l6.8 3l6.8 -3M269.1 2227.3l6.8 3l6.8 -3M269.1 2225.4l6.8 3l6.8 -3M269.1 2223.5l6.8 3l6.8 -3M269.1 2221.6l6.8 3l6.8 -3M269.1 2219.7l6.8 3l6.8 -3M269.1 2217.8l6.8 3l6.8 -3M269.1 2215.9l6.8 3l6.8 -3M269.1 2214l6.8 3l6.8 -3M269.1 2212.1l6.8 3l6.8 -3M269.1 2209.2l6.8 3l6.8 -3M269.4 2206.4l6.4 2.9l6.4 -2.9M269.8 2203.1l6 2.7l6 -2.7M269.8 2199.5l6 2.7l6 -2.7M269.9 2195.9l5.9 2.6l5.9 -2.6M270.2 2192.4l5.6 2.5l5.6 -2.5M270.3 2188.7l5.5 2.5l5.5 -2.5M270.4 2185l5.4 2.5l5.4 -2.5M270.4 2181l5.4 2.4l5.4 -2.4M294.2 2273.1l6.1 2.8l6.1 -2.8M294.2 2270.7l6.1 2.7l6.1 -2.7M294 2268.1l6.3 2.8l6.3 -2.8M294.4 2263.2l5.9 2.7l5.9 -2.7M294.1 2260.4l6.2 2.8l6.2 -2.8M294 2257.8l6.3 2.8l6.3 -2.8M294.5 2255.7l5.8 2.6l5.8 -2.6M294.6 2250.6l5.7 2.6l5.7 -2.6M294.2 2248.1l6.1 2.7l6.1 -2.7M294.4 2245.8l5.9 2.7l5.9 -2.7M294.7 2243.4l5.6 2.5l5.6 -2.5M294.7 2240.6l5.6 2.5l5.6 -2.5M294.5 2237.7l5.8 2.6l5.8 -2.6M294.4 2235.2l5.9 2.7l5.9 -2.7M294.3 2232.2l6 2.7l6 -2.7M294.6 2229.9l5.7 2.6l5.7 -2.6M294.8 2227.2l5.5 2.5l5.5 -2.5M294.7 2224.4l5.6 2.5l5.6 -2.5M294.4 2218.7l5.9 2.7l5.9 -2.7M294.6 2212.9l5.7 2.6l5.7 -2.6M294.9 2210.5l5.4 2.4l5.4 -2.4M294.5 2207.6l5.8 2.6l5.8 -2.6M294.6 2204.9l5.7 2.5l5.7 -2.5M294.9 2202.1l5.4 2.4l5.4 -2.4M294.8 2199.1l5.5 2.5l5.5 -2.5M295 2196.3l5.3 2.4l5.3 -2.4M294.9 2193.5l5.4 2.4l5.4 -2.4M294.9 2190.3l5.4 2.4l5.4 -2.4M295 2187.4l5.3 2.4l5.3 -2.4M294.9 2184.2l5.4 2.4l5.4 -2.4M295.2 2181.3l5.1 2.3l5.1 -2.3M294.8 2178.3l5.5 2.5l5.5 -2.5M295.2 2172.7l5.1 2.3l5.1 -2.3M294.8 2169.4l5.5 2.5l5.5 -2.5M295.4 2166.9l4.9 2.2l4.9 -2.2M295.1 2163.7l5.2 2.3l5.2 -2.3M295.1 2160.6l5.2 2.3l5.2 -2.3M295.4 2157.6l4.9 2.2l4.9 -2.2M295.3 2154.5l5 2.2l5 -2.2M295.2 2151.4l5.1 2.3l5.1 -2.3M295 2145.1l5.3 2.4l5.3 -2.4M295.3 2141.7l5 2.3l5 -2.3M318.1 2272.9l6.8 3l6.8 -3M318.1 2271l6.8 3l6.8 -3M318.1 2269.1l6.8 3l6.8 -3M318.1 2267.2l6.8 3l6.8 -3M318.1 2265.3l6.8 3l6.8 -3M318.1 2263.4l6.8 3l6.8 -3M318.1 2261.5l6.8 3l6.8 -3M318.1 2259.6l6.8 3l6.8 -3M318.9 2258.1l5.9 2.6l5.9 -2.6M342.6 2272.9l6.8 3l6.8 -3M342.6 2271l6.8 3l6.8 -3M342.6 2269.1l6.8 3l6.8 -3M342.6 2267.2l6.8 3l6.8 -3M342.6 2265.3l6.8 3l6.8 -3M342.6 2263.4l6.8 3l6.8 -3M343.1 2261.7l6.2 2.8l6.2 -2.8M367.1 2272.9l6.8 3l6.8 -3M367.1 2271l6.8 3l6.8 -3M367.1 2269.1l6.8 3l6.8 -3M367.1 2267.2l6.8 3l6.8 -3M367.1 2265.3l6.8 3l6.8 -3M367.1 2263.4l6.8 3l6.8 -3M368 2261.9l5.8 2.6l5.8 -2.6M391.6 2272.9l6.8 3l6.8 -3M391.6 2271l6.8 3l6.8 -3M391.6 2269.1l6.8 3l6.8 -3M391.6 2267.2l6.8 3l6.8 -3M391.6 2265.3l6.8 3l6.8 -3M391.6 2263.4l6.8 3l6.8 -3M391.6 2261.5l6.8 3l6.8 -3M391.6 2259.6l6.8 3l6.8 -3M391.6 2257.7l6.8 3l6.8 -3M391.6 2255.8l6.8 3l6.8 -3M391.6 2253.9l6.8 3l6.8 -3M391.6 2252l6.8 3l6.8 -3M391.9 2250.2l6.4 2.9l6.4 -2.9M392.2 2247.5l6.1 2.7l6.1 -2.7M392.3 2244.5l6 2.7l6 -2.7M392.3 2240.9l6 2.7l6 -2.7M392.7 2237.4l5.6 2.5l5.6 -2.5M416.1 2272.9l6.8 3l6.8 -3M416.1 2271l6.8 3l6.8 -3M416.1 2269.1l6.8 3l6.8 -3M416.1 2267.2l6.8 3l6.8 -3M416.1 2265.3l6.8 3l6.8 -3M416.1 2263.4l6.8 3l6.8 -3M416.1 2261.5l6.8 3l6.8 -3M416.1 2259.6l6.8 3l6.8 -3M416.1 2257.7l6.8 3l6.8 -3M416.1 2255.8l6.8 3l6.8 -3M416.1 2253.9l6.8 3l6.8 -3M416.1 2252l6.8 3l6.8 -3M416.1 2250.1l6.8 3l6.8 -3M416.1 2248.2l6.8 3l6.8 -3M416.1 2246.3l6.7 3l6.7 -3M416.6 2243.4l6.2 2.8l6.2 -2.8M416.9 2240.5l5.9 2.7l5.9 -2.7M416.5 2236.9l6.3 2.9l6.3 -2.9M416.9 2233.6l5.9 2.6l5.9 -2.6M417.1 2229.6l5.7 2.5l5.7 -2.5M417.3 2225.3l5.5 2.5l5.5 -2.5M440.6 2272.9l6.8 3l6.8 -3M440.6 2271l6.8 3l6.8 -3M440.6 2269.1l6.8 3l6.8 -3M440.6 2267.2l6.8 3l6.8 -3M440.6 2265.3l6.8 3l6.8 -3M440.6 2263.4l6.8 3l6.8 -3M440.6 2261.5l6.8 3l6.8 -3M440.6 2259.6l6.8 3l6.8 -3M440.6 2257.7l6.8 3l6.8 -3M440.6 2255.8l6.8 3l6.8 -3M440.6 2253.9l6.8 3l6.8 -3M440.6 2252l6.8 3l6.8 -3M440.6 2250.1l6.8 3l6.8 -3M440.6 2248.2l6.8 3l6.8 -3M440.6 2246.3l6.8 3l6.8 -3M440.6 2244.4l6.8 3l6.8 -3M440.6 2242.5l6.8 3l6.8 -3M440.6 2240.6l6.8 3l6.8 -3M440.6 2238.7l6.8 3l6.8 -3M440.6 2236.8l6.8 3l6.8 -3M440.6 2234.9l6.8 3l6.8 -3M440.6 2233l6.8 3l6.8 -3M440.9 2231.2l6.4 2.9l6.4 -2.9M440.8 2228.2l6.5 2.9l6.5 -2.9M441 2224.8l6.3 2.9l6.3 -2.9M441.4 2221.7l5.9 2.7l5.9 -2.7M441.6 2218.2l5.7 2.6l5.7 -2.6M441.7 2214.3l5.6 2.5l5.6 -2.5M441.9 2210.5l5.4 2.4l5.4 -2.4M465.1 2272.9l6.8 3l6.8 -3M465.1 2271l6.8 3l6.8 -3M465.1 2269.1l6.8 3l6.8 -3M465.1 2267.2l6.8 3l6.8 -3M465.1 2265.3l6.8 3l6.8 -3M465.4 2263.5l6.4 2.9l6.4 -2.9M489.6 2272.9l6.8 3l6.8 -3M489.6 2271l6.8 3l6.8 -3M489.6 2269.1l6.8 3l6.8 -3M489.6 2267.2l6.8 3l6.8 -3M489.6 2265.3l6.8 3l6.8 -3M489.6 2263.4l6.8 3l6.8 -3M489.6 2261.5l6.8 3l6.8 -3M490.1 2259.8l6.2 2.8l6.2 -2.8M514 2272.9l6.8 3l6.8 -3M514 2271l6.8 3l6.8 -3M514 2269.1l6.8 3l6.8 -3M514 2267.2l6.8 3l6.8 -3M514 2265.3l6.8 3l6.8 -3M514 2263.4l6.8 3l6.8 -3M514 2261.5l6.8 3l6.8 -3M514.9 2259.9l5.9 2.7l5.9 -2.7M538.5 2272.9l6.8 3l6.8 -3M538.5 2271l6.8 3l6.8 -3M538.5 2269.1l6.8 3l6.8 -3M538.5 2267.2l6.8 3l6.8 -3M538.5 2265.3l6.8 3l6.8 -3M538.5 2263.4l6.8 3l6.8 -3M538.5 2261.5l6.8 3l6.8 -3M538.5 2259.6l6.8 3l6.8 -3M538.5 2257.7l6.8 3l6.8 -3M538.5 2255.8l6.8 3l6.8 -3M538.5 2253.9l6.8 3l6.8 -3M538.5 2252l6.8 3l6.8 -3M539.4 2245.8l5.9 2.7l5.9 -2.7M563 2272.9l6.8 3l6.8 -3M563 2271l6.8 3l6.8 -3M563 2269.1l6.8 3l6.8 -3M563 2267.2l6.8 3l6.8 -3M563 2265.3l6.8 3l6.8 -3M563 2263.4l6.8 3l6.8 -3M563 2261.5l6.8 3l6.8 -3M563 2259.6l6.8 3l6.8 -3M563 2257.7l6.8 3l6.8 -3M563 2255.8l6.8 3l6.8 -3M563 2253.9l6.8 3l6.8 -3M563 2252l6.8 3l6.8 -3M563 2250.1l6.8 3l6.8 -3M563 2248.2l6.8 3l6.8 -3M563 2246.3l6.8 3l6.8 -3M563 2244.4l6.8 3l6.8 -3M563 2242.5l6.8 3l6.8 -3M563.4 2240.7l6.4 2.9l6.4 -2.9M563.4 2237.4l6.4 2.9l6.4 -2.9M563.6 2234.1l6.2 2.8l6.2 -2.8M564.3 2231.1l5.5 2.5l5.5 -2.5M564.4 2227.5l5.4 2.4l5.4 -2.4M587.5 2272.9l6.8 3l6.8 -3M587.5 2271l6.8 3l6.8 -3M587.5 2269.1l6.8 3l6.8 -3M587.5 2267.2l6.8 3l6.8 -3M587.5 2265.3l6.8 3l6.8 -3M587.5 2263.4l6.8 3l6.8 -3M587.5 2261.5l6.8 3l6.8 -3M587.5 2259.6l6.8 3l6.8 -3M587.5 2257.7l6.8 3l6.8 -3M587.5 2255.8l6.8 3l6.8 -3M587.5 2253.9l6.8 3l6.8 -3M587.5 2252l6.8 3l6.8 -3M587.5 2250.1l6.8 3l6.8 -3M587.5 2248.2l6.8 3l6.8 -3M587.5 2246.3l6.8 3l6.8 -3M587.5 2244.4l6.8 3l6.8 -3M588.1 2242.7l6.2 2.8l6.2 -2.8M588 2239.2l6.3 2.9l6.3 -2.9M588.6 2236.4l5.7 2.6l5.7 -2.6M588.8 2232.9l5.5 2.5l5.5 -2.5" fill="none" stroke="#000" stroke-width="2.3" stroke-linecap="round" stroke-linejoin="round"/></g>
<line x1="161.4" y1="1980.7" x2="161.4" y2="2277" stroke="#000" stroke-width="4.2"/>
<line x1="149.7" y1="2274.9" x2="610.5" y2="2274.9" stroke="#000" stroke-width="4.2"/>
<line x1="149.7" y1="2177.5" x2="161.4" y2="2177.5" stroke="#000" stroke-width="4.2"/>
<line x1="149.7" y1="2080.1" x2="161.4" y2="2080.1" stroke="#000" stroke-width="4.2"/>
<line x1="149.7" y1="1982.8" x2="161.4" y2="1982.8" stroke="#000" stroke-width="4.2"/>
<text x="131.5" y="2282" font-size="24.6" fill="#111" stroke="#111" stroke-width="0.25" text-anchor="end">0</text>
<text x="131.5" y="2184.6" font-size="24.6" fill="#111" stroke="#111" stroke-width="0.25" text-anchor="end">5</text>
<text x="131.5" y="2087.2" font-size="24.6" fill="#111" stroke="#111" stroke-width="0.25" text-anchor="end">10</text>
<text x="131.5" y="1989.8" font-size="24.6" fill="#111" stroke="#111" stroke-width="0.25" text-anchor="end">15</text>
<line x1="177.8" y1="2274.9" x2="177.8" y2="2284.3" stroke="#000" stroke-width="4.4"/>
<line x1="202.3" y1="2274.9" x2="202.3" y2="2284.3" stroke="#000" stroke-width="4.4"/>
<line x1="226.8" y1="2274.9" x2="226.8" y2="2284.3" stroke="#000" stroke-width="4.4"/>
<line x1="251.3" y1="2274.9" x2="251.3" y2="2284.3" stroke="#000" stroke-width="4.4"/>
<line x1="275.8" y1="2274.9" x2="275.8" y2="2284.3" stroke="#000" stroke-width="4.4"/>
<line x1="300.3" y1="2274.9" x2="300.3" y2="2284.3" stroke="#000" stroke-width="4.4"/>
<line x1="324.8" y1="2274.9" x2="324.8" y2="2284.3" stroke="#000" stroke-width="4.4"/>
<line x1="349.3" y1="2274.9" x2="349.3" y2="2284.3" stroke="#000" stroke-width="4.4"/>
<line x1="373.8" y1="2274.9" x2="373.8" y2="2284.3" stroke="#000" stroke-width="4.4"/>
<line x1="398.3" y1="2274.9" x2="398.3" y2="2284.3" stroke="#000" stroke-width="4.4"/>
<line x1="422.8" y1="2274.9" x2="422.8" y2="2284.3" stroke="#000" stroke-width="4.4"/>
<line x1="447.3" y1="2274.9" x2="447.3" y2="2284.3" stroke="#000" stroke-width="4.4"/>
<line x1="471.8" y1="2274.9" x2="471.8" y2="2284.3" stroke="#000" stroke-width="4.4"/>
<line x1="496.3" y1="2274.9" x2="496.3" y2="2284.3" stroke="#000" stroke-width="4.4"/>
<line x1="520.8" y1="2274.9" x2="520.8" y2="2284.3" stroke="#000" stroke-width="4.4"/>
<line x1="545.3" y1="2274.9" x2="545.3" y2="2284.3" stroke="#000" stroke-width="4.4"/>
<line x1="569.8" y1="2274.9" x2="569.8" y2="2284.3" stroke="#000" stroke-width="4.4"/>
<line x1="594.3" y1="2274.9" x2="594.3" y2="2284.3" stroke="#000" stroke-width="4.4"/>
<path d="M177.8 2316.9L299.1 2301.7L299.1 2316.9Z" fill="#231f20"/>
<text x="240.2" y="2355.8" font-size="28.7" fill="#111" stroke="#111" stroke-width="0.25" text-anchor="middle">WT</text>
<path d="M324.8 2316.9L446.1 2301.7L446.1 2316.9Z" fill="#231f20"/>
<text x="386.9" y="2355.8" font-size="28.7" fill="#111" stroke="#111" stroke-width="0.25" text-anchor="middle">P322L</text>
<path d="M471.8 2316.9L593.1 2301.7L593.1 2316.9Z" fill="#231f20"/>
<text x="534.6" y="2355.8" font-size="28.7" fill="#111" stroke="#111" stroke-width="0.25" text-anchor="middle">P225R</text>
<text x="40.1" y="2319.8" font-size="28.2" fill="#111" stroke="#111" stroke-width="0.25">[protein]</text>
<text font-size="28.7" fill="#111" stroke="#111" stroke-width="0.25" transform="translate(78.2 2241.6) rotate(-90)">Droplet area (µm<tspan font-size="16.5" dy="-9.6">2</tspan><tspan dy="9.6">)</tspan></text>
<text x="2.1" y="1981" font-size="32.8" fill="#111" stroke="#111" stroke-width="0.25" font-weight="bold">f</text>
<text x="2.1" y="919" font-size="32.8" fill="#111" stroke="#111" stroke-width="0.25" font-weight="bold">d</text>
<text x="556.3" y="918" font-size="28.7" fill="#111" stroke="#111" stroke-width="0.25" text-anchor="middle">MeCP2-GFP (µM)</text>
<text x="163.2" y="956.3" font-size="24.6" fill="#111" stroke="#111" stroke-width="0.25" text-anchor="middle">0.5</text>
<text x="321.7" y="956.3" font-size="24.6" fill="#111" stroke="#111" stroke-width="0.25" text-anchor="middle">1</text>
<text x="478.5" y="956.3" font-size="24.6" fill="#111" stroke="#111" stroke-width="0.25" text-anchor="middle">2</text>
<text x="634.8" y="956.3" font-size="24.6" fill="#111" stroke="#111" stroke-width="0.25" text-anchor="middle">4</text>
<text x="790.1" y="956.3" font-size="24.6" fill="#111" stroke="#111" stroke-width="0.25" text-anchor="middle">6</text>
<text x="946.5" y="956.3" font-size="24.6" fill="#111" stroke="#111" stroke-width="0.25" text-anchor="middle">8</text>
<text font-size="28.7" fill="#111" stroke="#111" stroke-width="0.25" text-anchor="middle" transform="translate(77.6 1051.2) rotate(-90)">WT</text>
<text font-size="28.7" fill="#111" stroke="#111" stroke-width="0.25" text-anchor="middle" transform="translate(77.6 1204.6) rotate(-90)">P322L</text>
<text font-size="28.7" fill="#111" stroke="#111" stroke-width="0.25" text-anchor="middle" transform="translate(77.6 1361) rotate(-90)">P225R</text>
<defs><filter id="b1" x="-20%" y="-20%" width="140%" height="140%"><feGaussianBlur stdDeviation="0.7"/></filter><filter id="b2" x="-20%" y="-20%" width="140%" height="140%"><feGaussianBlur stdDeviation="0.95"/></filter></defs>
<rect x="94.15" y="976.50" width="149.8" height="149.8" fill="#000"/>
<rect x="250.10" y="976.50" width="149.8" height="149.8" fill="#000"/>
<rect x="406.05" y="976.50" width="149.8" height="149.8" fill="#000"/>
<rect x="562.00" y="976.50" width="149.8" height="149.8" fill="#000"/>
<rect x="717.95" y="976.50" width="149.8" height="149.8" fill="#000"/>
<rect x="873.90" y="976.50" width="149.8" height="149.8" fill="#000"/>
<rect x="94.15" y="1130.50" width="149.8" height="149.5" fill="#000"/>
<rect x="250.10" y="1130.50" width="149.8" height="149.5" fill="#000"/>
<rect x="406.05" y="1130.50" width="149.8" height="149.5" fill="#000"/>
<rect x="562.00" y="1130.50" width="149.8" height="149.5" fill="#000"/>
<rect x="717.95" y="1130.50" width="149.8" height="149.5" fill="#000"/>
<rect x="873.90" y="1130.50" width="149.8" height="149.5" fill="#000"/>
<rect x="94.15" y="1287.00" width="149.8" height="149.5" fill="#000"/>
<rect x="250.10" y="1287.00" width="149.8" height="149.5" fill="#000"/>
<rect x="406.05" y="1287.00" width="149.8" height="149.5" fill="#000"/>
<rect x="562.00" y="1287.00" width="149.8" height="149.5" fill="#000"/>
<rect x="717.95" y="1287.00" width="149.8" height="149.5" fill="#000"/>
<rect x="873.90" y="1287.00" width="149.8" height="149.5" fill="#000"/>
<clipPath id="c02"><rect x="406.05" y="976.50" width="149.8" height="149.8"/></clipPath>
<g clip-path="url(#c02)"><g filter="url(#b1)"><circle cx="486.1" cy="1004.8" r="2.2" fill="#1dfa1d" opacity="0.75"/><circle cx="460.9" cy="1049.1" r="2.2" fill="#1dfa1d" opacity="0.80"/><circle cx="443.8" cy="1060.7" r="2.2" fill="#1dfa1d" opacity="0.80"/><circle cx="521.2" cy="1038.7" r="1.7" fill="#1dfa1d" opacity="0.55"/><circle cx="432.8" cy="990.3" r="1.2" fill="#1dfa1d" opacity="0.25"/><circle cx="465.2" cy="990.3" r="1.2" fill="#1dfa1d" opacity="0.20"/><circle cx="424" cy="1024.5" r="1.3" fill="#1dfa1d" opacity="0.20"/><circle cx="539.1" cy="1079.6" r="1.4" fill="#1dfa1d" opacity="0.25"/><circle cx="420.9" cy="1090.3" r="1.3" fill="#1dfa1d" opacity="0.25"/><circle cx="444.9" cy="1100.7" r="1.3" fill="#1dfa1d" opacity="0.25"/></g></g>
<clipPath id="c03"><rect x="562.00" y="976.50" width="149.8" height="149.8"/></clipPath>
<g clip-path="url(#c03)"><g filter="url(#b1)"><circle cx="621.4" cy="990.9" r="4.2" fill="#1dfa1d"/><circle cx="631.9" cy="985.1" r="2.2" fill="#1dfa1d" opacity="0.80"/><circle cx="646.4" cy="993.2" r="1.8" fill="#1dfa1d" opacity="0.70"/><circle cx="609.9" cy="996.7" r="1.6" fill="#1dfa1d" opacity="0.50"/><circle cx="568.7" cy="1017.2" r="3.2" fill="#1dfa1d"/><circle cx="584.3" cy="1030" r="2.8" fill="#1dfa1d"/><circle cx="591.6" cy="1046.5" r="3.2" fill="#1dfa1d"/><circle cx="614.5" cy="1034.9" r="3.4" fill="#1dfa1d" opacity="0.60"/><circle cx="619.4" cy="1053.8" r="3.8" fill="#1dfa1d"/><circle cx="645.5" cy="1050" r="4.3" fill="#1dfa1d"/><circle cx="660.9" cy="1062.2" r="4.2" fill="#1dfa1d"/><circle cx="684.3" cy="1016.7" r="4.2" fill="#1dfa1d"/><circle cx="695.1" cy="1028" r="4.4" fill="#1dfa1d"/><circle cx="691.9" cy="1079" r="4.7" fill="#1dfa1d"/><circle cx="707" cy="1078.1" r="3.6" fill="#1dfa1d"/><circle cx="603.8" cy="1095.8" r="3.6" fill="#1dfa1d"/><circle cx="609.6" cy="1114.9" r="2.6" fill="#1dfa1d"/><circle cx="624.9" cy="1114.1" r="3" fill="#1dfa1d"/><circle cx="613.6" cy="1076.4" r="2.2" fill="#1dfa1d" opacity="0.90"/><circle cx="617.4" cy="1085.9" r="1.6" fill="#1dfa1d" opacity="0.70"/><circle cx="657.4" cy="1091.2" r="1.7" fill="#1dfa1d" opacity="0.70"/><circle cx="670.4" cy="1089.7" r="1.3" fill="#1dfa1d" opacity="0.60"/><circle cx="572.2" cy="1089.1" r="1.7" fill="#1dfa1d" opacity="0.50"/><circle cx="596.2" cy="1013.5" r="1.6" fill="#1dfa1d" opacity="0.50"/><circle cx="641.2" cy="1122.5" r="1.6" fill="#1dfa1d" opacity="0.80"/><circle cx="679.7" cy="1107.7" r="6" fill="#1dfa1d" opacity="0.12"/><circle cx="628" cy="1048" r="1.3" fill="#1dfa1d" opacity="0.30"/><circle cx="687" cy="1032" r="1.2" fill="#1dfa1d" opacity="0.30"/><circle cx="703" cy="1048" r="1.2" fill="#1dfa1d" opacity="0.25"/><circle cx="603" cy="1070" r="1.2" fill="#1dfa1d" opacity="0.30"/><circle cx="680" cy="1052" r="1.4" fill="#1dfa1d" opacity="0.20"/></g></g>
<clipPath id="c04"><rect x="717.95" y="976.50" width="149.8" height="149.8"/></clipPath>
<g clip-path="url(#c04)"><g filter="url(#b1)"><circle cx="792" cy="983.6" r="2.7" fill="#1dfa1d"/><circle cx="767.7" cy="1005.7" r="6.1" fill="#1dfa1d"/><circle cx="845.6" cy="1037" r="6.1" fill="#1dfa1d"/><circle cx="724.8" cy="1051.2" r="4.7" fill="#1dfa1d"/><circle cx="820.1" cy="1051.4" r="5" fill="#1dfa1d"/><circle cx="734.3" cy="1067.7" r="4.4" fill="#1dfa1d"/><circle cx="746.2" cy="1070.6" r="4.1" fill="#1dfa1d"/><circle cx="765" cy="1062.5" r="4.7" fill="#1dfa1d"/><circle cx="846.2" cy="1062.8" r="5.3" fill="#1dfa1d"/><circle cx="860.4" cy="1067.7" r="5.6" fill="#1dfa1d"/><circle cx="790.3" cy="1036.1" r="2.4" fill="#1dfa1d" opacity="0.90"/><circle cx="791.1" cy="1083" r="2.4" fill="#1dfa1d" opacity="0.90"/><circle cx="792.6" cy="1096.4" r="6.8" fill="#1dfa1d"/><circle cx="762.1" cy="1097.2" r="5.6" fill="#1dfa1d"/><circle cx="827.4" cy="1089.4" r="5" fill="#1dfa1d"/><circle cx="785" cy="1117.2" r="5" fill="#1dfa1d"/><circle cx="758.1" cy="1029.1" r="1.7" fill="#1dfa1d" opacity="0.50"/><circle cx="768.5" cy="1036.7" r="1.6" fill="#1dfa1d" opacity="0.45"/><circle cx="752" cy="1041" r="1.5" fill="#1dfa1d" opacity="0.40"/><circle cx="816.9" cy="1010.9" r="1.5" fill="#1dfa1d" opacity="0.35"/><circle cx="858.1" cy="1050.3" r="1.8" fill="#1dfa1d" opacity="0.55"/><circle cx="806.8" cy="1116.4" r="1.6" fill="#1dfa1d" opacity="0.50"/><circle cx="834.6" cy="1106.5" r="1.5" fill="#1dfa1d" opacity="0.45"/><circle cx="764.5" cy="1014.3" r="1.4" fill="#1dfa1d" opacity="0.40"/><circle cx="725" cy="985" r="1.3" fill="#1dfa1d" opacity="0.30"/><circle cx="781" cy="1014" r="1.2" fill="#1dfa1d" opacity="0.30"/><circle cx="750" cy="1096" r="1.2" fill="#1dfa1d" opacity="0.30"/></g></g>
<clipPath id="c05"><rect x="873.90" y="976.50" width="149.8" height="149.8"/></clipPath>
<g clip-path="url(#c05)"><g filter="url(#b1)"><circle cx="883" cy="997.8" r="5.3" fill="#1dfa1d"/><circle cx="917.2" cy="1000.4" r="6.2" fill="#1dfa1d"/><circle cx="907.1" cy="1013.8" r="4.1" fill="#1dfa1d"/><circle cx="971.4" cy="992.3" r="8.8" fill="#1dfa1d"/><circle cx="999.8" cy="997.8" r="5.6" fill="#1dfa1d"/><circle cx="1000.1" cy="1030.9" r="8.8" fill="#1dfa1d"/><circle cx="968.5" cy="1045.7" r="6.2" fill="#1dfa1d"/><circle cx="890.6" cy="1077.8" r="3.9" fill="#1dfa1d"/><circle cx="983.6" cy="1088" r="5" fill="#1dfa1d"/><circle cx="956.6" cy="1095.8" r="7.6" fill="#1dfa1d"/><circle cx="936.9" cy="1103.6" r="6.8" fill="#1dfa1d"/><circle cx="900.1" cy="1101.6" r="5.3" fill="#1dfa1d"/><circle cx="918.1" cy="1118.1" r="6.2" fill="#1dfa1d"/><circle cx="931.1" cy="1029.4" r="1.7" fill="#1dfa1d" opacity="0.30"/><circle cx="970.8" cy="1055.8" r="1.8" fill="#1dfa1d" opacity="0.45"/></g></g>
<clipPath id="c12"><rect x="406.05" y="1130.50" width="149.8" height="149.5"/></clipPath>
<g clip-path="url(#c12)"><g filter="url(#b2)"><ellipse cx="499" cy="1240.8" rx="1.4" ry="1.7" fill="#1be01b" opacity="0.24" transform="rotate(135 499 1240.8)"/><ellipse cx="412.3" cy="1200.5" rx="1.5" ry="1.6" fill="#1be01b" opacity="0.28" transform="rotate(28 412.3 1200.5)"/><ellipse cx="462.3" cy="1259.3" rx="1.1" ry="0.9" fill="#1be01b" opacity="0.13" transform="rotate(55 462.3 1259.3)"/><circle cx="467.6" cy="1159.1" r="1.4" fill="#1be01b" opacity="0.25"/><ellipse cx="428.3" cy="1222.6" rx="0.9" ry="0.7" fill="#1be01b" opacity="0.27" transform="rotate(53 428.3 1222.6)"/><ellipse cx="521" cy="1272.7" rx="0.9" ry="0.8" fill="#1be01b" opacity="0.15" transform="rotate(50 521 1272.7)"/><ellipse cx="486.8" cy="1231.5" rx="0.9" ry="1.2" fill="#1be01b" opacity="0.23" transform="rotate(98 486.8 1231.5)"/><ellipse cx="451.7" cy="1185.2" rx="0.9" ry="0.8" fill="#1be01b" opacity="0.09" transform="rotate(77 451.7 1185.2)"/><ellipse cx="527.4" cy="1218.1" rx="1.2" ry="1.4" fill="#1be01b" opacity="0.09" transform="rotate(90 527.4 1218.1)"/><circle cx="527.6" cy="1202.7" r="1" fill="#1be01b" opacity="0.24"/><circle cx="445.5" cy="1269.6" r="1.5" fill="#1be01b" opacity="0.17"/><ellipse cx="523.1" cy="1186" rx="1.2" ry="1" fill="#1be01b" opacity="0.09" transform="rotate(46 523.1 1186)"/><ellipse cx="499.1" cy="1271.8" rx="0.9" ry="0.8" fill="#1be01b" opacity="0.26" transform="rotate(118 499.1 1271.8)"/><ellipse cx="458.3" cy="1184.3" rx="1.2" ry="1.4" fill="#1be01b" opacity="0.10" transform="rotate(94 458.3 1184.3)"/><ellipse cx="533.6" cy="1137.8" rx="1.5" ry="1.2" fill="#1be01b" opacity="0.15" transform="rotate(156 533.6 1137.8)"/><ellipse cx="461" cy="1154.1" rx="1" ry="1.1" fill="#1be01b" opacity="0.10" transform="rotate(175 461 1154.1)"/><ellipse cx="454.3" cy="1158.4" rx="0.9" ry="0.7" fill="#1be01b" opacity="0.23" transform="rotate(123 454.3 1158.4)"/><ellipse cx="431.6" cy="1139.6" rx="1.5" ry="1.6" fill="#1be01b" opacity="0.17" transform="rotate(60 431.6 1139.6)"/><ellipse cx="516.2" cy="1182.7" rx="1" ry="1.1" fill="#1be01b" opacity="0.11" transform="rotate(163 516.2 1182.7)"/><ellipse cx="412.8" cy="1204.6" rx="1.4" ry="1.2" fill="#1be01b" opacity="0.24" transform="rotate(33 412.8 1204.6)"/><circle cx="500.1" cy="1247.5" r="0.9" fill="#1be01b" opacity="0.11"/><ellipse cx="451.1" cy="1198.7" rx="1.5" ry="1.8" fill="#1be01b" opacity="0.29" transform="rotate(116 451.1 1198.7)"/><ellipse cx="548.2" cy="1233.1" rx="1" ry="1" fill="#1be01b" opacity="0.18" transform="rotate(37 548.2 1233.1)"/><ellipse cx="424.5" cy="1252.5" rx="1.2" ry="1" fill="#1be01b" opacity="0.29" transform="rotate(86 424.5 1252.5)"/><ellipse cx="434.3" cy="1204.3" rx="1.2" ry="1.2" fill="#1be01b" opacity="0.19" transform="rotate(16 434.3 1204.3)"/><ellipse cx="522.8" cy="1245.6" rx="1.3" ry="1.5" fill="#1be01b" opacity="0.25" transform="rotate(93 522.8 1245.6)"/><ellipse cx="489.7" cy="1230.1" rx="1.4" ry="1.3" fill="#1be01b" opacity="0.30" transform="rotate(75 489.7 1230.1)"/><ellipse cx="547.8" cy="1182.2" rx="0.9" ry="1.1" fill="#1be01b" opacity="0.18" transform="rotate(64 547.8 1182.2)"/><ellipse cx="455.6" cy="1172.5" rx="1" ry="1.1" fill="#1be01b" opacity="0.23" transform="rotate(91 455.6 1172.5)"/><ellipse cx="458.8" cy="1226.5" rx="1.3" ry="1.6" fill="#1be01b" opacity="0.16" transform="rotate(44 458.8 1226.5)"/><ellipse cx="535.1" cy="1233" rx="1.5" ry="1.9" fill="#1be01b" opacity="0.19" transform="rotate(135 535.1 1233)"/><ellipse cx="551.2" cy="1161.5" rx="1.1" ry="1.3" fill="#1be01b" opacity="0.14" transform="rotate(20 551.2 1161.5)"/><ellipse cx="513.1" cy="1239.1" rx="0.9" ry="1.1" fill="#1be01b" opacity="0.21" transform="rotate(170 513.1 1239.1)"/><ellipse cx="544.8" cy="1176.7" rx="1.2" ry="1.5" fill="#1be01b" opacity="0.14" transform="rotate(7 544.8 1176.7)"/><ellipse cx="436.6" cy="1218.1" rx="1.2" ry="1.1" fill="#1be01b" opacity="0.25" transform="rotate(46 436.6 1218.1)"/><ellipse cx="500.2" cy="1138.6" rx="1.1" ry="1" fill="#1be01b" opacity="0.09" transform="rotate(34 500.2 1138.6)"/><ellipse cx="424.2" cy="1273.8" rx="1.1" ry="1.2" fill="#1be01b" opacity="0.17" transform="rotate(89 424.2 1273.8)"/><ellipse cx="463.6" cy="1221.8" rx="1.2" ry="1.1" fill="#1be01b" opacity="0.28"/><ellipse cx="459.2" cy="1271.5" rx="1.4" ry="1.7" fill="#1be01b" opacity="0.23" transform="rotate(140 459.2 1271.5)"/><ellipse cx="462.6" cy="1137.8" rx="1.2" ry="1" fill="#1be01b" opacity="0.20" transform="rotate(86 462.6 1137.8)"/><ellipse cx="546.9" cy="1175.3" rx="1" ry="0.9" fill="#1be01b" opacity="0.17" transform="rotate(144 546.9 1175.3)"/><ellipse cx="501.8" cy="1186.4" rx="0.9" ry="1" fill="#1be01b" opacity="0.20" transform="rotate(50 501.8 1186.4)"/><ellipse cx="549.4" cy="1221.4" rx="1" ry="1.3" fill="#1be01b" opacity="0.08" transform="rotate(27 549.4 1221.4)"/><circle cx="455.7" cy="1266.3" r="1.2" fill="#1be01b" opacity="0.27"/><ellipse cx="462.9" cy="1195.5" rx="1" ry="0.9" fill="#1be01b" opacity="0.29" transform="rotate(97 462.9 1195.5)"/><ellipse cx="464.1" cy="1257.3" rx="0.9" ry="1" fill="#1be01b" opacity="0.24" transform="rotate(77 464.1 1257.3)"/><ellipse cx="480.5" cy="1193.2" rx="1" ry="1.3" fill="#1be01b" opacity="0.19" transform="rotate(73 480.5 1193.2)"/><ellipse cx="429" cy="1136" rx="1.3" ry="1.6" fill="#1be01b" opacity="0.13" transform="rotate(10 429 1136)"/><ellipse cx="522.2" cy="1253.2" rx="0.8" ry="0.9" fill="#1be01b" opacity="0.14" transform="rotate(121 522.2 1253.2)"/><ellipse cx="522.2" cy="1168.4" rx="1" ry="0.9" fill="#1be01b" opacity="0.30" transform="rotate(75 522.2 1168.4)"/><ellipse cx="479.9" cy="1277.4" rx="1.2" ry="1.4" fill="#1be01b" opacity="0.27" transform="rotate(30 479.9 1277.4)"/><ellipse cx="410.4" cy="1150.9" rx="1" ry="1.2" fill="#1be01b" opacity="0.21" transform="rotate(135 410.4 1150.9)"/><ellipse cx="411.9" cy="1183.6" rx="1.3" ry="1.5" fill="#1be01b" opacity="0.11"/><ellipse cx="444.9" cy="1199" rx="1.4" ry="1.8" fill="#1be01b" opacity="0.20" transform="rotate(3 444.9 1199)"/><ellipse cx="470.8" cy="1250.4" rx="1.2" ry="1.4" fill="#1be01b" opacity="0.29" transform="rotate(166 470.8 1250.4)"/><circle cx="478.4" cy="1265.6" r="1.1" fill="#1be01b" opacity="0.27"/><ellipse cx="539.3" cy="1200.4" rx="1.3" ry="1.3" fill="#1be01b" opacity="0.08" transform="rotate(110 539.3 1200.4)"/><ellipse cx="493" cy="1227.2" rx="1.1" ry="1.1" fill="#1be01b" opacity="0.12" transform="rotate(177 493 1227.2)"/><ellipse cx="488.2" cy="1205.2" rx="1" ry="0.9" fill="#1be01b" opacity="0.21" transform="rotate(12 488.2 1205.2)"/><ellipse cx="418" cy="1166.1" rx="1.4" ry="1.6" fill="#1be01b" opacity="0.23" transform="rotate(6 418 1166.1)"/><circle cx="456.7" cy="1195.2" r="0.8" fill="#1be01b" opacity="0.19"/><ellipse cx="531" cy="1164.5" rx="1.3" ry="1.6" fill="#1be01b" opacity="0.24" transform="rotate(34 531 1164.5)"/><ellipse cx="553.2" cy="1235.5" rx="1.1" ry="1" fill="#1be01b" opacity="0.12" transform="rotate(41 553.2 1235.5)"/><ellipse cx="417.9" cy="1163.6" rx="1.2" ry="1.3" fill="#1be01b" opacity="0.24" transform="rotate(71 417.9 1163.6)"/><ellipse cx="416.5" cy="1216.5" rx="1.3" ry="1.6" fill="#1be01b" opacity="0.11" transform="rotate(110 416.5 1216.5)"/><circle cx="421.4" cy="1232.6" r="1.1" fill="#1be01b" opacity="0.22"/><ellipse cx="428.2" cy="1175.5" rx="1.2" ry="1.4" fill="#1be01b" opacity="0.14" transform="rotate(142 428.2 1175.5)"/><ellipse cx="488.3" cy="1164.7" rx="0.8" ry="0.8" fill="#1be01b" opacity="0.26" transform="rotate(72 488.3 1164.7)"/><circle cx="483.5" cy="1152" r="1" fill="#1be01b" opacity="0.24"/><ellipse cx="427.2" cy="1135.2" rx="1" ry="1.1" fill="#1be01b" opacity="0.09" transform="rotate(31 427.2 1135.2)"/><ellipse cx="420.9" cy="1171.4" rx="2.3" ry="2.8" fill="#1dfa1d" opacity="0.75"/><ellipse cx="428.4" cy="1229.3" rx="1.7" ry="2" fill="#1dfa1d" opacity="0.60"/><ellipse cx="492.2" cy="1222.7" rx="1.8" ry="2.2" fill="#1dfa1d" opacity="0.65"/><ellipse cx="488.4" cy="1221.5" rx="1.4" ry="1.7" fill="#1dfa1d" opacity="0.50"/><ellipse cx="547.8" cy="1162.7" rx="1.8" ry="2.2" fill="#1dfa1d" opacity="0.35"/><ellipse cx="436.2" cy="1183" rx="1.4" ry="1.7" fill="#1dfa1d" opacity="0.35"/><ellipse cx="546.4" cy="1196" rx="1.5" ry="1.8" fill="#1dfa1d" opacity="0.30"/><ellipse cx="438.6" cy="1260.7" rx="1.4" ry="1.7" fill="#1dfa1d" opacity="0.40"/><ellipse cx="483.5" cy="1249.6" rx="1.4" ry="1.7" fill="#1dfa1d" opacity="0.30"/><ellipse cx="542" cy="1226.4" rx="1.3" ry="1.6" fill="#1dfa1d" opacity="0.30"/></g></g>
<clipPath id="c13"><rect x="562.00" y="1130.50" width="149.8" height="149.5"/></clipPath>
<g clip-path="url(#c13)"><g filter="url(#b2)"><circle cx="637.9" cy="1198.7" r="1.1" fill="#1be01b" opacity="0.34"/><ellipse cx="680.3" cy="1136.8" rx="1.3" ry="1.1" fill="#1be01b" opacity="0.14" transform="rotate(109 680.3 1136.8)"/><ellipse cx="663.4" cy="1165.1" rx="0.9" ry="1.1" fill="#1be01b" opacity="0.27" transform="rotate(54 663.4 1165.1)"/><ellipse cx="584.4" cy="1223.7" rx="1" ry="1" fill="#1be01b" opacity="0.18" transform="rotate(157 584.4 1223.7)"/><ellipse cx="667" cy="1248.7" rx="1.1" ry="1.2" fill="#1be01b" opacity="0.19" transform="rotate(75 667 1248.7)"/><ellipse cx="681.5" cy="1195.8" rx="1.4" ry="1.5" fill="#1be01b" opacity="0.25" transform="rotate(146 681.5 1195.8)"/><ellipse cx="595.4" cy="1158.9" rx="0.8" ry="0.7" fill="#1be01b" opacity="0.15" transform="rotate(50 595.4 1158.9)"/><ellipse cx="569.8" cy="1262.3" rx="1.1" ry="1.3" fill="#1be01b" opacity="0.10" transform="rotate(120 569.8 1262.3)"/><ellipse cx="607.9" cy="1269" rx="1.4" ry="1.4" fill="#1be01b" opacity="0.22" transform="rotate(49 607.9 1269)"/><circle cx="586.6" cy="1155.7" r="1.1" fill="#1be01b" opacity="0.32"/><ellipse cx="644.6" cy="1148.6" rx="1.4" ry="1.6" fill="#1be01b" opacity="0.27" transform="rotate(8 644.6 1148.6)"/><circle cx="634.4" cy="1137.2" r="1.4" fill="#1be01b" opacity="0.33"/><ellipse cx="567.2" cy="1199.2" rx="1.4" ry="1.2" fill="#1be01b" opacity="0.30" transform="rotate(83 567.2 1199.2)"/><ellipse cx="606.5" cy="1231" rx="1.3" ry="1.2" fill="#1be01b" opacity="0.15" transform="rotate(6 606.5 1231)"/><ellipse cx="647.9" cy="1228.3" rx="1.2" ry="1.5" fill="#1be01b" opacity="0.28" transform="rotate(174 647.9 1228.3)"/><ellipse cx="609.5" cy="1200.8" rx="1" ry="1.2" fill="#1be01b" opacity="0.28" transform="rotate(41 609.5 1200.8)"/><ellipse cx="677.3" cy="1158.1" rx="0.9" ry="0.8" fill="#1be01b" opacity="0.25" transform="rotate(69 677.3 1158.1)"/><circle cx="564.9" cy="1141.4" r="1.3" fill="#1be01b" opacity="0.11"/><ellipse cx="686" cy="1254.7" rx="1.2" ry="1.5" fill="#1be01b" opacity="0.28" transform="rotate(60 686 1254.7)"/><ellipse cx="695.2" cy="1204.2" rx="1.5" ry="1.2" fill="#1be01b" opacity="0.16" transform="rotate(12 695.2 1204.2)"/><ellipse cx="636.6" cy="1246.6" rx="0.8" ry="1" fill="#1be01b" opacity="0.21" transform="rotate(163 636.6 1246.6)"/><ellipse cx="571.5" cy="1138" rx="1.5" ry="1.3" fill="#1be01b" opacity="0.23" transform="rotate(103 571.5 1138)"/><ellipse cx="591.5" cy="1166.6" rx="1.4" ry="1.7" fill="#1be01b" opacity="0.12" transform="rotate(41 591.5 1166.6)"/><ellipse cx="651.3" cy="1257.6" rx="1" ry="0.8" fill="#1be01b" opacity="0.23" transform="rotate(124 651.3 1257.6)"/><ellipse cx="625.8" cy="1244.6" rx="1.2" ry="1" fill="#1be01b" opacity="0.10" transform="rotate(78 625.8 1244.6)"/><ellipse cx="664.5" cy="1262.7" rx="1.5" ry="1.6" fill="#1be01b" opacity="0.13" transform="rotate(123 664.5 1262.7)"/><ellipse cx="576.8" cy="1245.3" rx="1.4" ry="1.3" fill="#1be01b" opacity="0.13" transform="rotate(20 576.8 1245.3)"/><ellipse cx="632.9" cy="1234.3" rx="1.4" ry="1.7" fill="#1be01b" opacity="0.27" transform="rotate(70 632.9 1234.3)"/><ellipse cx="573" cy="1234.8" rx="0.8" ry="0.8" fill="#1be01b" opacity="0.17" transform="rotate(95 573 1234.8)"/><circle cx="693.3" cy="1143" r="1.3" fill="#1be01b" opacity="0.29"/><ellipse cx="694.8" cy="1228" rx="1.3" ry="1.4" fill="#1be01b" opacity="0.21" transform="rotate(176 694.8 1228)"/><ellipse cx="659.7" cy="1271.9" rx="1.3" ry="1.5" fill="#1be01b" opacity="0.17" transform="rotate(97 659.7 1271.9)"/><ellipse cx="646" cy="1179.4" rx="1" ry="0.9" fill="#1be01b" opacity="0.22" transform="rotate(82 646 1179.4)"/><ellipse cx="605.7" cy="1141.8" rx="1.3" ry="1.4" fill="#1be01b" opacity="0.11" transform="rotate(12 605.7 1141.8)"/><ellipse cx="705.6" cy="1253.2" rx="1.1" ry="1" fill="#1be01b" opacity="0.34" transform="rotate(4 705.6 1253.2)"/><circle cx="597.7" cy="1195.1" r="1.1" fill="#1be01b" opacity="0.10"/><ellipse cx="654.4" cy="1156.3" rx="1.5" ry="1.4" fill="#1be01b" opacity="0.25" transform="rotate(161 654.4 1156.3)"/><ellipse cx="667.6" cy="1197.6" rx="1.5" ry="1.7" fill="#1be01b" opacity="0.13" transform="rotate(81 667.6 1197.6)"/><ellipse cx="629.1" cy="1165.8" rx="1.2" ry="1.1" fill="#1be01b" opacity="0.11" transform="rotate(171 629.1 1165.8)"/><ellipse cx="700.7" cy="1210.3" rx="1.5" ry="1.6" fill="#1be01b" opacity="0.13" transform="rotate(107 700.7 1210.3)"/><ellipse cx="664.1" cy="1162.8" rx="0.8" ry="1" fill="#1be01b" opacity="0.16" transform="rotate(90 664.1 1162.8)"/><ellipse cx="621.3" cy="1164" rx="1" ry="0.9" fill="#1be01b" opacity="0.24" transform="rotate(91 621.3 1164)"/><ellipse cx="675.6" cy="1247.1" rx="1.1" ry="1.3" fill="#1be01b" opacity="0.30" transform="rotate(169 675.6 1247.1)"/><circle cx="686.7" cy="1256.6" r="1.2" fill="#1be01b" opacity="0.14"/><ellipse cx="635.6" cy="1138" rx="0.9" ry="0.8" fill="#1be01b" opacity="0.28" transform="rotate(51 635.6 1138)"/><circle cx="680.3" cy="1242.7" r="1.1" fill="#1be01b" opacity="0.23"/><circle cx="680.9" cy="1187.5" r="0.8" fill="#1be01b" opacity="0.25"/><ellipse cx="682.7" cy="1135.7" rx="1.3" ry="1.4" fill="#1be01b" opacity="0.23" transform="rotate(128 682.7 1135.7)"/><ellipse cx="633.5" cy="1235.2" rx="1.1" ry="1.4" fill="#1be01b" opacity="0.30" transform="rotate(177 633.5 1235.2)"/><circle cx="645.4" cy="1141.4" r="0.9" fill="#1be01b" opacity="0.34"/><ellipse cx="663.2" cy="1208.7" rx="1" ry="0.8" fill="#1be01b" opacity="0.12" transform="rotate(91 663.2 1208.7)"/><circle cx="653.2" cy="1258.5" r="1.5" fill="#1be01b" opacity="0.34"/><ellipse cx="604.1" cy="1237" rx="0.9" ry="1" fill="#1be01b" opacity="0.27" transform="rotate(76 604.1 1237)"/><ellipse cx="695" cy="1232.9" rx="1.4" ry="1.6" fill="#1be01b" opacity="0.25" transform="rotate(53 695 1232.9)"/><circle cx="634.5" cy="1145.9" r="0.9" fill="#1be01b" opacity="0.30"/><ellipse cx="621.4" cy="1132.9" rx="1.1" ry="1" fill="#1be01b" opacity="0.26" transform="rotate(53 621.4 1132.9)"/><ellipse cx="696.9" cy="1222.1" rx="1.1" ry="0.9" fill="#1be01b" opacity="0.27" transform="rotate(141 696.9 1222.1)"/><ellipse cx="664.5" cy="1276.1" rx="1" ry="0.8" fill="#1be01b" opacity="0.17" transform="rotate(68 664.5 1276.1)"/><ellipse cx="680.4" cy="1143.9" rx="1.5" ry="1.2" fill="#1be01b" opacity="0.20" transform="rotate(47 680.4 1143.9)"/><ellipse cx="596.8" cy="1141.7" rx="1.2" ry="1.5" fill="#1be01b" opacity="0.32" transform="rotate(104 596.8 1141.7)"/><ellipse cx="624.9" cy="1194.6" rx="1.2" ry="1.5" fill="#1be01b" opacity="0.18" transform="rotate(71 624.9 1194.6)"/><circle cx="576.3" cy="1262.4" r="1" fill="#1be01b" opacity="0.14"/><ellipse cx="646.1" cy="1220.6" rx="0.9" ry="0.8" fill="#1be01b" opacity="0.25" transform="rotate(165 646.1 1220.6)"/><ellipse cx="678.9" cy="1180.7" rx="0.9" ry="1.1" fill="#1be01b" opacity="0.13" transform="rotate(132 678.9 1180.7)"/><ellipse cx="703.8" cy="1179" rx="1.4" ry="1.6" fill="#1be01b" opacity="0.33" transform="rotate(58 703.8 1179)"/><ellipse cx="694.4" cy="1222.3" rx="1.4" ry="1.7" fill="#1be01b" opacity="0.10" transform="rotate(172 694.4 1222.3)"/><ellipse cx="586.9" cy="1146.1" rx="0.9" ry="1" fill="#1be01b" opacity="0.13" transform="rotate(112 586.9 1146.1)"/><ellipse cx="671.5" cy="1251.7" rx="1.4" ry="1.6" fill="#1be01b" opacity="0.33" transform="rotate(148 671.5 1251.7)"/><ellipse cx="655.3" cy="1273.4" rx="0.9" ry="0.7" fill="#1be01b" opacity="0.12" transform="rotate(52 655.3 1273.4)"/><ellipse cx="611.3" cy="1157.7" rx="1.4" ry="1.8" fill="#1be01b" opacity="0.29" transform="rotate(62 611.3 1157.7)"/><ellipse cx="622.9" cy="1211.8" rx="1.1" ry="0.9" fill="#1be01b" opacity="0.25" transform="rotate(95 622.9 1211.8)"/><circle cx="583.4" cy="1133" r="1.1" fill="#1be01b" opacity="0.29"/><ellipse cx="674.9" cy="1237.8" rx="1" ry="0.9" fill="#1be01b" opacity="0.22" transform="rotate(90 674.9 1237.8)"/><ellipse cx="673.6" cy="1161" rx="1" ry="0.9" fill="#1be01b" opacity="0.33" transform="rotate(164 673.6 1161)"/><ellipse cx="665.7" cy="1247.7" rx="1.2" ry="1.1" fill="#1be01b" opacity="0.18" transform="rotate(16 665.7 1247.7)"/><ellipse cx="639.8" cy="1139.9" rx="1.1" ry="1" fill="#1be01b" opacity="0.27" transform="rotate(18 639.8 1139.9)"/><circle cx="585.3" cy="1273.8" r="1.2" fill="#1be01b" opacity="0.14"/><ellipse cx="688.9" cy="1168.3" rx="1.1" ry="1" fill="#1be01b" opacity="0.12" transform="rotate(36 688.9 1168.3)"/><circle cx="616.7" cy="1134.9" r="1" fill="#1be01b" opacity="0.20"/><ellipse cx="575.4" cy="1274.3" rx="0.9" ry="1.1" fill="#1be01b" opacity="0.10" transform="rotate(132 575.4 1274.3)"/><ellipse cx="573.9" cy="1150.5" rx="2.2" ry="2.5" fill="#1dfa1d" opacity="0.90" transform="rotate(21 573.9 1150.5)"/><ellipse cx="580.6" cy="1144.4" rx="1.6" ry="1.8" fill="#1dfa1d" opacity="0.70" transform="rotate(71 580.6 1144.4)"/><ellipse cx="600" cy="1154" rx="2.1" ry="2.4" fill="#1dfa1d" opacity="0.90" transform="rotate(153 600 1154)"/><ellipse cx="642.9" cy="1149.9" rx="1.8" ry="2.1" fill="#1dfa1d" opacity="0.60" transform="rotate(175 642.9 1149.9)"/><ellipse cx="679.1" cy="1143.3" rx="2.3" ry="2.6" fill="#1dfa1d" opacity="0.90" transform="rotate(120 679.1 1143.3)"/><ellipse cx="673.9" cy="1155.4" rx="1.6" ry="1.8" fill="#1dfa1d" opacity="0.60" transform="rotate(130 673.9 1155.4)"/><ellipse cx="635.7" cy="1178" rx="2.3" ry="2.6" fill="#1dfa1d" opacity="0.95" transform="rotate(5 635.7 1178)"/><ellipse cx="673.9" cy="1175.1" rx="1.7" ry="2" fill="#1dfa1d" opacity="0.80" transform="rotate(13 673.9 1175.1)"/><ellipse cx="593" cy="1185.9" rx="2.3" ry="2.6" fill="#1dfa1d" transform="rotate(40 593 1185.9)"/><ellipse cx="689.9" cy="1188.2" rx="2.4" ry="2.8" fill="#1dfa1d" opacity="0.95" transform="rotate(100 689.9 1188.2)"/><ellipse cx="700" cy="1187.9" rx="3" ry="3.4" fill="#1dfa1d" transform="rotate(128 700 1187.9)"/><ellipse cx="620.9" cy="1198" rx="1.9" ry="2.2" fill="#1dfa1d" opacity="0.80" transform="rotate(111 620.9 1198)"/><ellipse cx="629.6" cy="1199.8" rx="2.2" ry="2.5" fill="#1dfa1d" opacity="0.90" transform="rotate(151 629.6 1199.8)"/><ellipse cx="647.8" cy="1199.5" rx="1.7" ry="2" fill="#1dfa1d" opacity="0.60" transform="rotate(169 647.8 1199.5)"/><ellipse cx="662.3" cy="1213.4" rx="2.1" ry="2.4" fill="#1dfa1d" opacity="0.90" transform="rotate(165 662.3 1213.4)"/><ellipse cx="702.9" cy="1213.4" rx="1.9" ry="2.2" fill="#1dfa1d" opacity="0.90" transform="rotate(158 702.9 1213.4)"/><ellipse cx="578.6" cy="1217.8" rx="1.9" ry="2.2" fill="#1dfa1d" opacity="0.80" transform="rotate(162 578.6 1217.8)"/><ellipse cx="580.3" cy="1223" rx="2.1" ry="2.4" fill="#1dfa1d" opacity="0.90" transform="rotate(150 580.3 1223)"/><ellipse cx="590.1" cy="1213.4" rx="1.6" ry="1.8" fill="#1dfa1d" opacity="0.70" transform="rotate(9 590.1 1213.4)"/><ellipse cx="598.6" cy="1217.2" rx="2" ry="2.3" fill="#1dfa1d" opacity="0.80" transform="rotate(55 598.6 1217.2)"/><ellipse cx="623.2" cy="1223.6" rx="1.9" ry="2.2" fill="#1dfa1d" opacity="0.85" transform="rotate(6 623.2 1223.6)"/><ellipse cx="626.4" cy="1229.3" rx="2.1" ry="2.4" fill="#1dfa1d" opacity="0.90" transform="rotate(107 626.4 1229.3)"/><ellipse cx="570.4" cy="1237.5" rx="2" ry="2.3" fill="#1dfa1d" opacity="0.75" transform="rotate(105 570.4 1237.5)"/><ellipse cx="605.2" cy="1255.1" rx="1.9" ry="2.2" fill="#1dfa1d" opacity="0.85" transform="rotate(110 605.2 1255.1)"/><ellipse cx="651.6" cy="1254.3" rx="2.2" ry="2.5" fill="#1dfa1d" opacity="0.85" transform="rotate(96 651.6 1254.3)"/><ellipse cx="609.6" cy="1266.4" rx="2.1" ry="2.4" fill="#1dfa1d" opacity="0.95" transform="rotate(3 609.6 1266.4)"/><ellipse cx="673.9" cy="1269.1" rx="2.3" ry="2.6" fill="#1dfa1d" opacity="0.95" transform="rotate(42 673.9 1269.1)"/><ellipse cx="667.2" cy="1264.7" rx="1.8" ry="2.1" fill="#1dfa1d" opacity="0.80" transform="rotate(86 667.2 1264.7)"/><ellipse cx="689.9" cy="1265.3" rx="1.6" ry="1.8" fill="#1dfa1d" opacity="0.70" transform="rotate(37 689.9 1265.3)"/><ellipse cx="701.4" cy="1242.7" rx="1.6" ry="1.8" fill="#1dfa1d" opacity="0.55" transform="rotate(77 701.4 1242.7)"/><ellipse cx="614.5" cy="1248.2" rx="1.5" ry="1.7" fill="#1dfa1d" opacity="0.50" transform="rotate(48 614.5 1248.2)"/><ellipse cx="623.2" cy="1252.5" rx="1.4" ry="1.6" fill="#1dfa1d" opacity="0.50" transform="rotate(108 623.2 1252.5)"/><ellipse cx="653.6" cy="1214.9" rx="1.4" ry="1.6" fill="#1dfa1d" opacity="0.50" transform="rotate(19 653.6 1214.9)"/><ellipse cx="576.2" cy="1169.1" rx="1.3" ry="1.5" fill="#1dfa1d" opacity="0.40" transform="rotate(94 576.2 1169.1)"/><ellipse cx="694.2" cy="1206.2" rx="1.4" ry="1.6" fill="#1dfa1d" opacity="0.50" transform="rotate(55 694.2 1206.2)"/></g></g>
<clipPath id="c14"><rect x="717.95" y="1130.50" width="149.8" height="149.5"/></clipPath>
<g clip-path="url(#c14)"><g filter="url(#b2)"><circle cx="777.4" cy="1160.3" r="1" fill="#1be01b" opacity="0.12"/><ellipse cx="738" cy="1157.2" rx="1.3" ry="1.1" fill="#1be01b" opacity="0.25" transform="rotate(104 738 1157.2)"/><ellipse cx="849.2" cy="1161.2" rx="0.9" ry="1.1" fill="#1be01b" opacity="0.44" transform="rotate(153 849.2 1161.2)"/><circle cx="786.8" cy="1200.9" r="1" fill="#1be01b" opacity="0.32"/><ellipse cx="746.9" cy="1195.1" rx="1.1" ry="1.3" fill="#1be01b" opacity="0.24" transform="rotate(54 746.9 1195.1)"/><ellipse cx="742.1" cy="1208.2" rx="1.7" ry="1.9" fill="#1be01b" opacity="0.15" transform="rotate(28 742.1 1208.2)"/><ellipse cx="735.4" cy="1190.8" rx="1.1" ry="1.4" fill="#1be01b" opacity="0.30" transform="rotate(113 735.4 1190.8)"/><ellipse cx="861" cy="1167.7" rx="1.4" ry="1.3" fill="#1be01b" opacity="0.30" transform="rotate(98 861 1167.7)"/><ellipse cx="739.5" cy="1202.7" rx="1.5" ry="1.2" fill="#1be01b" opacity="0.37" transform="rotate(107 739.5 1202.7)"/><ellipse cx="753.9" cy="1237.1" rx="1.1" ry="1" fill="#1be01b" opacity="0.39" transform="rotate(61 753.9 1237.1)"/><ellipse cx="725.5" cy="1188.8" rx="1.2" ry="1" fill="#1be01b" opacity="0.22" transform="rotate(115 725.5 1188.8)"/><ellipse cx="734.9" cy="1150.5" rx="1.6" ry="1.8" fill="#1be01b" opacity="0.21" transform="rotate(149 734.9 1150.5)"/><ellipse cx="856.8" cy="1271.1" rx="1.7" ry="1.6" fill="#1be01b" opacity="0.17" transform="rotate(174 856.8 1271.1)"/><ellipse cx="731.2" cy="1198" rx="1.5" ry="1.6" fill="#1be01b" opacity="0.25" transform="rotate(131 731.2 1198)"/><ellipse cx="763.6" cy="1213.1" rx="1.6" ry="1.4" fill="#1be01b" opacity="0.24" transform="rotate(126 763.6 1213.1)"/><ellipse cx="720.5" cy="1214.9" rx="1.4" ry="1.1" fill="#1be01b" opacity="0.36" transform="rotate(29 720.5 1214.9)"/><ellipse cx="769.9" cy="1153.5" rx="1.7" ry="1.6" fill="#1be01b" opacity="0.21" transform="rotate(36 769.9 1153.5)"/><ellipse cx="828.2" cy="1170.8" rx="1.6" ry="1.7" fill="#1be01b" opacity="0.25" transform="rotate(160 828.2 1170.8)"/><ellipse cx="835.2" cy="1235" rx="1.4" ry="1.7" fill="#1be01b" opacity="0.42" transform="rotate(45 835.2 1235)"/><circle cx="806.7" cy="1215.1" r="1.6" fill="#1be01b" opacity="0.16"/><ellipse cx="726.3" cy="1252.8" rx="1.3" ry="1.6" fill="#1be01b" opacity="0.13" transform="rotate(150 726.3 1252.8)"/><circle cx="780" cy="1192.7" r="1.3" fill="#1be01b" opacity="0.31"/><ellipse cx="858.5" cy="1148.7" rx="1" ry="1.1" fill="#1be01b" opacity="0.15" transform="rotate(17 858.5 1148.7)"/><ellipse cx="824.5" cy="1176.9" rx="1.3" ry="1.4" fill="#1be01b" opacity="0.40" transform="rotate(164 824.5 1176.9)"/><ellipse cx="819.2" cy="1172.4" rx="1.2" ry="1.2" fill="#1be01b" opacity="0.27" transform="rotate(76 819.2 1172.4)"/><ellipse cx="720.2" cy="1243.2" rx="1.3" ry="1.6" fill="#1be01b" opacity="0.27" transform="rotate(39 720.2 1243.2)"/><ellipse cx="815.7" cy="1270.2" rx="1.2" ry="1.3" fill="#1be01b" opacity="0.27" transform="rotate(38 815.7 1270.2)"/><ellipse cx="771.4" cy="1144.1" rx="1.2" ry="1.4" fill="#1be01b" opacity="0.33" transform="rotate(44 771.4 1144.1)"/><ellipse cx="748.7" cy="1266.1" rx="1" ry="1.1" fill="#1be01b" opacity="0.43" transform="rotate(88 748.7 1266.1)"/><ellipse cx="853.1" cy="1153.7" rx="1.1" ry="1.2" fill="#1be01b" opacity="0.30" transform="rotate(55 853.1 1153.7)"/><ellipse cx="801" cy="1229.2" rx="1.2" ry="1.5" fill="#1be01b" opacity="0.40" transform="rotate(75 801 1229.2)"/><ellipse cx="810" cy="1161.1" rx="1.2" ry="1.5" fill="#1be01b" opacity="0.29" transform="rotate(124 810 1161.1)"/><ellipse cx="811.8" cy="1226" rx="1.7" ry="1.4" fill="#1be01b" opacity="0.37" transform="rotate(86 811.8 1226)"/><ellipse cx="734" cy="1259.6" rx="1.1" ry="1.3" fill="#1be01b" opacity="0.18" transform="rotate(139 734 1259.6)"/><ellipse cx="776" cy="1225.4" rx="1.5" ry="1.4" fill="#1be01b" opacity="0.25" transform="rotate(84 776 1225.4)"/><circle cx="848.8" cy="1178" r="1.1" fill="#1be01b" opacity="0.45"/><ellipse cx="729.1" cy="1176.5" rx="1" ry="1.3" fill="#1be01b" opacity="0.38" transform="rotate(129 729.1 1176.5)"/><circle cx="779.3" cy="1199.9" r="1" fill="#1be01b" opacity="0.43"/><ellipse cx="762.3" cy="1148.2" rx="1.3" ry="1.7" fill="#1be01b" opacity="0.43" transform="rotate(119 762.3 1148.2)"/><ellipse cx="775.5" cy="1157.3" rx="1.1" ry="1.2" fill="#1be01b" opacity="0.15" transform="rotate(167 775.5 1157.3)"/><ellipse cx="864.1" cy="1211.7" rx="1.2" ry="1.2" fill="#1be01b" opacity="0.30" transform="rotate(109 864.1 1211.7)"/><ellipse cx="725.7" cy="1261.3" rx="1.7" ry="1.5" fill="#1be01b" opacity="0.34" transform="rotate(46 725.7 1261.3)"/><ellipse cx="854.1" cy="1180.1" rx="1.5" ry="1.6" fill="#1be01b" opacity="0.17" transform="rotate(13 854.1 1180.1)"/><ellipse cx="844.9" cy="1226.1" rx="1.1" ry="1.2" fill="#1be01b" opacity="0.38" transform="rotate(162 844.9 1226.1)"/><ellipse cx="793" cy="1174" rx="1.5" ry="1.4" fill="#1be01b" opacity="0.28" transform="rotate(154 793 1174)"/><ellipse cx="734.3" cy="1219.5" rx="1.3" ry="1.6" fill="#1be01b" opacity="0.37" transform="rotate(113 734.3 1219.5)"/><ellipse cx="865.6" cy="1152" rx="1" ry="0.9" fill="#1be01b" opacity="0.27" transform="rotate(158 865.6 1152)"/><ellipse cx="787.7" cy="1231.3" rx="1.5" ry="1.6" fill="#1be01b" opacity="0.22" transform="rotate(64 787.7 1231.3)"/><ellipse cx="811.6" cy="1234.4" rx="1.3" ry="1.4" fill="#1be01b" opacity="0.19" transform="rotate(6 811.6 1234.4)"/><ellipse cx="769.1" cy="1218.9" rx="1.4" ry="1.5" fill="#1be01b" opacity="0.41" transform="rotate(154 769.1 1218.9)"/><ellipse cx="761.1" cy="1181.2" rx="1.6" ry="1.4" fill="#1be01b" opacity="0.26" transform="rotate(106 761.1 1181.2)"/><ellipse cx="774" cy="1245.4" rx="1.1" ry="1" fill="#1be01b" opacity="0.43" transform="rotate(8 774 1245.4)"/><ellipse cx="720.1" cy="1270.3" rx="1.1" ry="1.4" fill="#1be01b" opacity="0.34" transform="rotate(107 720.1 1270.3)"/><ellipse cx="839.9" cy="1218.9" rx="1.3" ry="1.6" fill="#1be01b" opacity="0.29" transform="rotate(83 839.9 1218.9)"/><ellipse cx="823.8" cy="1222.2" rx="1.5" ry="1.4" fill="#1be01b" opacity="0.28"/><circle cx="798.6" cy="1203" r="1.3" fill="#1be01b" opacity="0.20"/><ellipse cx="789.8" cy="1149.9" rx="1.1" ry="1.4" fill="#1be01b" opacity="0.40" transform="rotate(60 789.8 1149.9)"/><circle cx="817.2" cy="1190.8" r="1" fill="#1be01b" opacity="0.40"/><ellipse cx="759.9" cy="1134" rx="1.4" ry="1.6" fill="#1be01b" opacity="0.37" transform="rotate(128 759.9 1134)"/><ellipse cx="774.4" cy="1217.5" rx="1.1" ry="0.9" fill="#1be01b" opacity="0.30" transform="rotate(141 774.4 1217.5)"/><ellipse cx="830.6" cy="1197.4" rx="1.4" ry="1.2" fill="#1be01b" opacity="0.21"/><ellipse cx="741.5" cy="1140.8" rx="0.9" ry="1.1" fill="#1be01b" opacity="0.16" transform="rotate(117 741.5 1140.8)"/><ellipse cx="849.8" cy="1263.7" rx="1.3" ry="1.2" fill="#1be01b" opacity="0.14" transform="rotate(178 849.8 1263.7)"/><ellipse cx="832" cy="1223.5" rx="1.6" ry="1.7" fill="#1be01b" opacity="0.36" transform="rotate(158 832 1223.5)"/><ellipse cx="749.8" cy="1227.6" rx="1.3" ry="1.3" fill="#1be01b" opacity="0.44" transform="rotate(178 749.8 1227.6)"/><ellipse cx="769.6" cy="1147.1" rx="1.2" ry="1" fill="#1be01b" opacity="0.19"/><ellipse cx="724.8" cy="1141" rx="1.1" ry="1.3" fill="#1be01b" opacity="0.25" transform="rotate(29 724.8 1141)"/><circle cx="850.5" cy="1233.1" r="1.1" fill="#1be01b" opacity="0.27"/><ellipse cx="860.2" cy="1172.5" rx="1.3" ry="1.2" fill="#1be01b" opacity="0.35" transform="rotate(174 860.2 1172.5)"/><circle cx="758.9" cy="1145.9" r="1.1" fill="#1be01b" opacity="0.39"/><ellipse cx="851.3" cy="1214.4" rx="1.6" ry="1.8" fill="#1be01b" opacity="0.36" transform="rotate(51 851.3 1214.4)"/><ellipse cx="767.8" cy="1169.1" rx="1.4" ry="1.7" fill="#1be01b" opacity="0.18" transform="rotate(136 767.8 1169.1)"/><ellipse cx="861.6" cy="1156" rx="1.4" ry="1.6" fill="#1be01b" opacity="0.26" transform="rotate(36 861.6 1156)"/><ellipse cx="811.5" cy="1159.1" rx="1.3" ry="1.5" fill="#1be01b" opacity="0.43" transform="rotate(1 811.5 1159.1)"/><ellipse cx="822.3" cy="1200.6" rx="1.6" ry="2" fill="#1be01b" opacity="0.36" transform="rotate(20 822.3 1200.6)"/><ellipse cx="791.2" cy="1186.2" rx="1.7" ry="2" fill="#1be01b" opacity="0.24" transform="rotate(122 791.2 1186.2)"/><ellipse cx="758.6" cy="1215.9" rx="1.6" ry="1.6" fill="#1be01b" opacity="0.44" transform="rotate(105 758.6 1215.9)"/><ellipse cx="744.9" cy="1194.8" rx="1.3" ry="1.5" fill="#1be01b" opacity="0.20" transform="rotate(75 744.9 1194.8)"/><ellipse cx="735.9" cy="1207.6" rx="1.5" ry="1.6" fill="#1be01b" opacity="0.15" transform="rotate(167 735.9 1207.6)"/><circle cx="806.7" cy="1146.3" r="1.5" fill="#1be01b" opacity="0.23"/><ellipse cx="765.1" cy="1231.4" rx="1" ry="1.1" fill="#1be01b" opacity="0.15" transform="rotate(164 765.1 1231.4)"/><circle cx="847.1" cy="1232" r="1" fill="#1be01b" opacity="0.41"/><circle cx="784.6" cy="1154.6" r="1.1" fill="#1be01b" opacity="0.14"/><ellipse cx="795.4" cy="1261.1" rx="1.6" ry="1.7" fill="#1be01b" opacity="0.14" transform="rotate(96 795.4 1261.1)"/><ellipse cx="762.6" cy="1146.5" rx="1.2" ry="1.5" fill="#1be01b" opacity="0.15" transform="rotate(87 762.6 1146.5)"/><circle cx="847.1" cy="1184.5" r="1" fill="#1be01b" opacity="0.39"/><ellipse cx="767.9" cy="1232.7" rx="1.3" ry="1.6" fill="#1be01b" opacity="0.14" transform="rotate(58 767.9 1232.7)"/><ellipse cx="849.8" cy="1177.7" rx="1.3" ry="1.6" fill="#1be01b" opacity="0.29" transform="rotate(131 849.8 1177.7)"/><circle cx="794" cy="1256" r="1.4" fill="#1be01b" opacity="0.34"/><ellipse cx="826.3" cy="1268.9" rx="1" ry="0.8" fill="#1be01b" opacity="0.23" transform="rotate(9 826.3 1268.9)"/><circle cx="727.9" cy="1140.9" r="2.7" fill="#1dfa1d"/><circle cx="724.2" cy="1151.7" r="2.6" fill="#1dfa1d"/><circle cx="781.6" cy="1143" r="3.1" fill="#1dfa1d"/><circle cx="794.6" cy="1144.7" r="2.2" fill="#1dfa1d" opacity="0.80"/><circle cx="815.5" cy="1152.5" r="2.9" fill="#1dfa1d"/><circle cx="834.3" cy="1144.7" r="4" fill="#1dfa1d"/><circle cx="853.4" cy="1144.7" r="2.1" fill="#1dfa1d" opacity="0.90"/><circle cx="860.4" cy="1162.1" r="2.7" fill="#1dfa1d"/><circle cx="783.6" cy="1177.2" r="2.5" fill="#1dfa1d"/><circle cx="804.8" cy="1185.6" r="2.5" fill="#1dfa1d"/><circle cx="840.7" cy="1185.6" r="2.4" fill="#1dfa1d"/><circle cx="741" cy="1190.2" r="2.9" fill="#1dfa1d"/><circle cx="738.1" cy="1211.4" r="2.2" fill="#1dfa1d" opacity="0.95"/><circle cx="729.4" cy="1225" r="1.9" fill="#1dfa1d" opacity="0.90"/><circle cx="795.4" cy="1215.8" r="2.1" fill="#1dfa1d"/><circle cx="793.5" cy="1217.9" r="2.1" fill="#1dfa1d"/><circle cx="842.2" cy="1212.4" r="2.5" fill="#1dfa1d"/><circle cx="840" cy="1215.5" r="2.5" fill="#1dfa1d"/><circle cx="838.9" cy="1218.5" r="3.1" fill="#1dfa1d"/><circle cx="774.3" cy="1226.2" r="2.6" fill="#1dfa1d"/><circle cx="754" cy="1229.3" r="2.7" fill="#1dfa1d"/><circle cx="750" cy="1240.4" r="3.3" fill="#1dfa1d"/><circle cx="749.2" cy="1243.8" r="3.1" fill="#1dfa1d"/><circle cx="854.2" cy="1230.3" r="2.8" fill="#1dfa1d" opacity="0.95"/><circle cx="854.9" cy="1233.2" r="2.7" fill="#1dfa1d" opacity="0.95"/><circle cx="845.3" cy="1249.6" r="3.5" fill="#1dfa1d"/><circle cx="779.2" cy="1267" r="2.6" fill="#1dfa1d"/><circle cx="818.1" cy="1252.5" r="1.8" fill="#1dfa1d" opacity="0.80"/><circle cx="828.5" cy="1275.1" r="2" fill="#1dfa1d" opacity="0.85"/><circle cx="759.8" cy="1264.7" r="1.5" fill="#1dfa1d" opacity="0.70"/><circle cx="746.8" cy="1251.7" r="1.8" fill="#1dfa1d" opacity="0.80"/><circle cx="739" cy="1157.5" r="1.7" fill="#1dfa1d" opacity="0.70"/><circle cx="773.4" cy="1207.6" r="1.8" fill="#1dfa1d" opacity="0.60"/><circle cx="819.2" cy="1173.7" r="1.5" fill="#1dfa1d" opacity="0.50"/><circle cx="722.1" cy="1196" r="1.7" fill="#1dfa1d" opacity="0.50"/><circle cx="865.6" cy="1196.6" r="1.5" fill="#1dfa1d" opacity="0.70"/><circle cx="864.8" cy="1258.3" r="1.7" fill="#1dfa1d" opacity="0.60"/></g></g>
<clipPath id="c15"><rect x="873.90" y="1130.50" width="149.8" height="149.5"/></clipPath>
<g clip-path="url(#c15)"><g filter="url(#b2)"><ellipse cx="888.9" cy="1167.1" rx="1.2" ry="1.3" fill="#1be01b" opacity="0.18" transform="rotate(35 888.9 1167.1)"/><ellipse cx="906" cy="1267" rx="1" ry="1.1" fill="#1be01b" opacity="0.32" transform="rotate(152 906 1267)"/><ellipse cx="947" cy="1259.7" rx="1.3" ry="1.5" fill="#1be01b" opacity="0.14" transform="rotate(47 947 1259.7)"/><ellipse cx="962" cy="1249.4" rx="1.4" ry="1.5" fill="#1be01b" opacity="0.30" transform="rotate(145 962 1249.4)"/><ellipse cx="945.3" cy="1208.7" rx="1.5" ry="1.4" fill="#1be01b" opacity="0.28" transform="rotate(154 945.3 1208.7)"/><ellipse cx="899.2" cy="1247.3" rx="1.2" ry="1.4" fill="#1be01b" opacity="0.36" transform="rotate(155 899.2 1247.3)"/><ellipse cx="970" cy="1152" rx="1.2" ry="1.3" fill="#1be01b" opacity="0.17" transform="rotate(26 970 1152)"/><ellipse cx="965.1" cy="1255.5" rx="1.5" ry="1.4" fill="#1be01b" opacity="0.27" transform="rotate(50 965.1 1255.5)"/><ellipse cx="915.3" cy="1156.1" rx="1.2" ry="1.5" fill="#1be01b" opacity="0.14" transform="rotate(90 915.3 1156.1)"/><ellipse cx="921.4" cy="1149" rx="1.1" ry="1.2" fill="#1be01b" opacity="0.38" transform="rotate(96 921.4 1149)"/><ellipse cx="940.4" cy="1170.1" rx="1.2" ry="1.3" fill="#1be01b" opacity="0.16" transform="rotate(170 940.4 1170.1)"/><ellipse cx="1006.1" cy="1276.5" rx="1.6" ry="1.3" fill="#1be01b" opacity="0.40" transform="rotate(101 1006.1 1276.5)"/><ellipse cx="965.4" cy="1139" rx="1.3" ry="1.4" fill="#1be01b" opacity="0.21" transform="rotate(175 965.4 1139)"/><ellipse cx="901.5" cy="1195.5" rx="1.5" ry="1.7" fill="#1be01b" opacity="0.17" transform="rotate(98 901.5 1195.5)"/><ellipse cx="979.2" cy="1236.1" rx="1.4" ry="1.3" fill="#1be01b" opacity="0.29" transform="rotate(158 979.2 1236.1)"/><circle cx="972.3" cy="1173.8" r="1.6" fill="#1be01b" opacity="0.25"/><circle cx="987.6" cy="1200.8" r="1.6" fill="#1be01b" opacity="0.28"/><ellipse cx="923.2" cy="1236.7" rx="1.6" ry="1.3" fill="#1be01b" opacity="0.34" transform="rotate(166 923.2 1236.7)"/><ellipse cx="944.3" cy="1227.5" rx="0.9" ry="1" fill="#1be01b" opacity="0.12" transform="rotate(178 944.3 1227.5)"/><ellipse cx="965.8" cy="1234.5" rx="1.6" ry="1.9" fill="#1be01b" opacity="0.35" transform="rotate(16 965.8 1234.5)"/><ellipse cx="998.9" cy="1196.9" rx="1" ry="0.9" fill="#1be01b" opacity="0.13" transform="rotate(111 998.9 1196.9)"/><ellipse cx="953.5" cy="1230" rx="1.3" ry="1.7" fill="#1be01b" opacity="0.32" transform="rotate(41 953.5 1230)"/><ellipse cx="948" cy="1204.6" rx="1.4" ry="1.5" fill="#1be01b" opacity="0.13" transform="rotate(150 948 1204.6)"/><ellipse cx="922.4" cy="1205.4" rx="0.9" ry="0.8" fill="#1be01b" opacity="0.38" transform="rotate(71 922.4 1205.4)"/><circle cx="1017.8" cy="1166.1" r="1.4" fill="#1be01b" opacity="0.14"/><ellipse cx="1006.8" cy="1202.1" rx="1.1" ry="1.1" fill="#1be01b" opacity="0.22"/><ellipse cx="921.8" cy="1248" rx="1.1" ry="1" fill="#1be01b" opacity="0.19" transform="rotate(90 921.8 1248)"/><ellipse cx="987.6" cy="1277.5" rx="1" ry="1.1" fill="#1be01b" opacity="0.19" transform="rotate(136 987.6 1277.5)"/><ellipse cx="952.4" cy="1171.8" rx="1" ry="1.2" fill="#1be01b" opacity="0.15" transform="rotate(112 952.4 1171.8)"/><ellipse cx="919.8" cy="1153.7" rx="1.6" ry="1.4" fill="#1be01b" opacity="0.21" transform="rotate(47 919.8 1153.7)"/><ellipse cx="882.3" cy="1263.2" rx="1.2" ry="1" fill="#1be01b" opacity="0.19" transform="rotate(134 882.3 1263.2)"/><ellipse cx="980.5" cy="1240.1" rx="1.5" ry="1.2" fill="#1be01b" opacity="0.21" transform="rotate(119 980.5 1240.1)"/><circle cx="896.1" cy="1237.6" r="1.3" fill="#1be01b" opacity="0.39"/><ellipse cx="916.5" cy="1196.3" rx="1.6" ry="1.3" fill="#1be01b" opacity="0.25" transform="rotate(121 916.5 1196.3)"/><ellipse cx="890.3" cy="1208.5" rx="1" ry="1.2" fill="#1be01b" opacity="0.15" transform="rotate(149 890.3 1208.5)"/><ellipse cx="910.7" cy="1278.1" rx="1.3" ry="1.4" fill="#1be01b" opacity="0.31" transform="rotate(172 910.7 1278.1)"/><ellipse cx="945.1" cy="1208.6" rx="1" ry="1.2" fill="#1be01b" opacity="0.13" transform="rotate(158 945.1 1208.6)"/><circle cx="935.1" cy="1134" r="1.4" fill="#1be01b" opacity="0.19"/><circle cx="1008.2" cy="1170.3" r="1.1" fill="#1be01b" opacity="0.19"/><ellipse cx="888.3" cy="1262.5" rx="1.3" ry="1.2" fill="#1be01b" opacity="0.32" transform="rotate(11 888.3 1262.5)"/><ellipse cx="973.9" cy="1200.8" rx="0.9" ry="0.8" fill="#1be01b" opacity="0.19" transform="rotate(132 973.9 1200.8)"/><ellipse cx="998.1" cy="1219.1" rx="1" ry="1" fill="#1be01b" opacity="0.14" transform="rotate(133 998.1 1219.1)"/><ellipse cx="938.6" cy="1165" rx="1.6" ry="2" fill="#1be01b" opacity="0.30" transform="rotate(146 938.6 1165)"/><ellipse cx="990.4" cy="1152.1" rx="1.6" ry="1.9" fill="#1be01b" opacity="0.26" transform="rotate(119 990.4 1152.1)"/><ellipse cx="919.3" cy="1275.6" rx="1.1" ry="1.4" fill="#1be01b" opacity="0.35" transform="rotate(62 919.3 1275.6)"/><ellipse cx="886.6" cy="1173.3" rx="1.4" ry="1.7" fill="#1be01b" opacity="0.31" transform="rotate(9 886.6 1173.3)"/><ellipse cx="984.4" cy="1186.7" rx="1.4" ry="1.8" fill="#1be01b" opacity="0.23" transform="rotate(105 984.4 1186.7)"/><ellipse cx="930.3" cy="1171.5" rx="1.2" ry="1.5" fill="#1be01b" opacity="0.29" transform="rotate(7 930.3 1171.5)"/><ellipse cx="925.8" cy="1139" rx="1.4" ry="1.8" fill="#1be01b" opacity="0.24" transform="rotate(134 925.8 1139)"/><circle cx="965.7" cy="1202" r="1.4" fill="#1be01b" opacity="0.17"/><circle cx="933.6" cy="1214.8" r="1.2" fill="#1be01b" opacity="0.18"/><ellipse cx="936.1" cy="1173.2" rx="1.4" ry="1.5" fill="#1be01b" opacity="0.17" transform="rotate(11 936.1 1173.2)"/><circle cx="986.5" cy="1180.4" r="1" fill="#1be01b" opacity="0.39"/><ellipse cx="920.1" cy="1221.2" rx="1.3" ry="1.3" fill="#1be01b" opacity="0.31" transform="rotate(121 920.1 1221.2)"/><ellipse cx="904.7" cy="1189.9" rx="1.6" ry="1.5" fill="#1be01b" opacity="0.30" transform="rotate(150 904.7 1189.9)"/><ellipse cx="879.7" cy="1249.2" rx="1.3" ry="1.1" fill="#1be01b" opacity="0.33" transform="rotate(131 879.7 1249.2)"/><ellipse cx="879" cy="1232.8" rx="1.1" ry="1" fill="#1be01b" opacity="0.13" transform="rotate(5 879 1232.8)"/><ellipse cx="1002.2" cy="1214.2" rx="1.6" ry="1.8" fill="#1be01b" opacity="0.37" transform="rotate(29 1002.2 1214.2)"/><ellipse cx="978.2" cy="1164.5" rx="1.6" ry="1.4" fill="#1be01b" opacity="0.28" transform="rotate(164 978.2 1164.5)"/><circle cx="922.4" cy="1234.5" r="1" fill="#1be01b" opacity="0.17"/><ellipse cx="997.4" cy="1174.4" rx="1.3" ry="1.6" fill="#1be01b" opacity="0.21" transform="rotate(67 997.4 1174.4)"/><circle cx="921.8" cy="1137.6" r="1.1" fill="#1be01b" opacity="0.29"/><ellipse cx="910.4" cy="1247.1" rx="1.5" ry="1.2" fill="#1be01b" opacity="0.15" transform="rotate(104 910.4 1247.1)"/><ellipse cx="1018.7" cy="1223.2" rx="1.5" ry="1.9" fill="#1be01b" opacity="0.26" transform="rotate(107 1018.7 1223.2)"/><ellipse cx="881.3" cy="1220.3" rx="1.1" ry="1.3" fill="#1be01b" opacity="0.19" transform="rotate(134 881.3 1220.3)"/><ellipse cx="991" cy="1224.4" rx="1" ry="1.3" fill="#1be01b" opacity="0.32" transform="rotate(127 991 1224.4)"/><ellipse cx="895" cy="1239.2" rx="1.1" ry="1" fill="#1be01b" opacity="0.35" transform="rotate(59 895 1239.2)"/><ellipse cx="987.4" cy="1189" rx="1" ry="1.2" fill="#1be01b" opacity="0.18" transform="rotate(171 987.4 1189)"/><ellipse cx="940.2" cy="1143.5" rx="1.4" ry="1.2" fill="#1be01b" opacity="0.27" transform="rotate(53 940.2 1143.5)"/><ellipse cx="961.8" cy="1276.2" rx="1.1" ry="1.2" fill="#1be01b" opacity="0.24" transform="rotate(148 961.8 1276.2)"/><circle cx="948.4" cy="1148.5" r="1" fill="#1be01b" opacity="0.22"/><ellipse cx="964.1" cy="1205.5" rx="1.4" ry="1.5" fill="#1be01b" opacity="0.23" transform="rotate(68 964.1 1205.5)"/><circle cx="895.5" cy="1137.3" r="1.4" fill="#1be01b" opacity="0.40"/><ellipse cx="976.1" cy="1228.3" rx="1.2" ry="1.5" fill="#1be01b" opacity="0.21" transform="rotate(89 976.1 1228.3)"/><ellipse cx="945.4" cy="1269.6" rx="1.6" ry="1.4" fill="#1be01b" opacity="0.32" transform="rotate(137 945.4 1269.6)"/><ellipse cx="983.9" cy="1233.3" rx="0.9" ry="1" fill="#1be01b" opacity="0.32" transform="rotate(114 983.9 1233.3)"/><ellipse cx="1012.4" cy="1180.4" rx="1.4" ry="1.5" fill="#1be01b" opacity="0.40" transform="rotate(86 1012.4 1180.4)"/><ellipse cx="915.8" cy="1143.4" rx="1" ry="0.8" fill="#1be01b" opacity="0.31" transform="rotate(131 915.8 1143.4)"/><ellipse cx="897.2" cy="1160.3" rx="1.6" ry="1.6" fill="#1be01b" opacity="0.33" transform="rotate(88 897.2 1160.3)"/><ellipse cx="931.7" cy="1219.9" rx="1" ry="1.3" fill="#1be01b" opacity="0.14" transform="rotate(169 931.7 1219.9)"/><circle cx="889.1" cy="1160.2" r="2.5" fill="#1dfa1d" opacity="0.90"/><circle cx="889.5" cy="1162.3" r="2.3" fill="#1dfa1d" opacity="0.90"/><circle cx="908.5" cy="1143" r="1.3" fill="#1dfa1d" opacity="0.80"/><circle cx="909.1" cy="1150.5" r="1.7" fill="#1dfa1d" opacity="0.80"/><circle cx="1000.1" cy="1163.4" r="2.3" fill="#1dfa1d"/><circle cx="1002" cy="1163.5" r="2.2" fill="#1dfa1d"/><circle cx="965.9" cy="1174.9" r="2.7" fill="#1dfa1d"/><circle cx="960.7" cy="1185" r="3" fill="#1dfa1d"/><circle cx="956.3" cy="1193.1" r="2.3" fill="#1dfa1d" opacity="0.90"/><circle cx="926.8" cy="1195.4" r="2.6" fill="#1dfa1d"/><circle cx="997.5" cy="1200.9" r="3.6" fill="#1dfa1d"/><circle cx="937.5" cy="1211.4" r="2.4" fill="#1dfa1d"/><circle cx="970.8" cy="1214.9" r="4.2" fill="#1dfa1d"/><circle cx="925.6" cy="1222.1" r="5.3" fill="#1dfa1d"/><circle cx="884.8" cy="1240.4" r="5.2" fill="#1dfa1d"/><circle cx="944.2" cy="1235.4" r="2.7" fill="#1dfa1d"/><circle cx="949" cy="1237.9" r="2.4" fill="#1dfa1d"/><circle cx="995.4" cy="1238" r="2.2" fill="#1dfa1d" opacity="0.80"/><circle cx="995.8" cy="1240.6" r="2.2" fill="#1dfa1d" opacity="0.80"/><circle cx="996.5" cy="1244.1" r="2.1" fill="#1dfa1d" opacity="0.80"/><circle cx="894.6" cy="1254" r="2.4" fill="#1dfa1d" opacity="0.95"/><circle cx="919.5" cy="1260.7" r="3.7" fill="#1dfa1d"/><circle cx="1009.1" cy="1256" r="2.8" fill="#1dfa1d" opacity="0.90"/><circle cx="1015.8" cy="1255.4" r="1.6" fill="#1dfa1d" opacity="0.80"/><circle cx="914.3" cy="1179.5" r="2" fill="#1dfa1d" opacity="0.70"/><circle cx="875.8" cy="1183" r="2" fill="#1dfa1d" opacity="0.70"/><circle cx="896.6" cy="1185.3" r="1.5" fill="#1dfa1d" opacity="0.60"/><circle cx="954.6" cy="1179.2" r="1.9" fill="#1dfa1d" opacity="0.70"/><circle cx="920.7" cy="1243.3" r="1.6" fill="#1dfa1d" opacity="0.60"/><circle cx="987.4" cy="1235.7" r="1.6" fill="#1dfa1d" opacity="0.50"/><circle cx="912" cy="1216.6" r="1.6" fill="#1dfa1d" opacity="0.50"/><circle cx="953.2" cy="1151.7" r="1.6" fill="#1dfa1d" opacity="0.45"/><circle cx="1020.1" cy="1146.7" r="1.4" fill="#1dfa1d" opacity="0.45"/></g></g>
<clipPath id="c22"><rect x="406.05" y="1287.00" width="149.8" height="149.5"/></clipPath>
<g clip-path="url(#c22)"><g filter="url(#b2)"><ellipse cx="513.3" cy="1410.5" rx="1.1" ry="1.3" fill="#1be01b" opacity="0.07" transform="rotate(109 513.3 1410.5)"/><ellipse cx="553.5" cy="1427.8" rx="0.8" ry="0.7" fill="#1be01b" opacity="0.08" transform="rotate(94 553.5 1427.8)"/><ellipse cx="489.6" cy="1326.5" rx="0.9" ry="0.8" fill="#1be01b" opacity="0.06" transform="rotate(36 489.6 1326.5)"/><circle cx="550" cy="1300.4" r="0.8" fill="#1be01b" opacity="0.06"/><ellipse cx="503" cy="1417.2" rx="1.2" ry="1.4" fill="#1be01b" opacity="0.07" transform="rotate(108 503 1417.2)"/><circle cx="425.3" cy="1330.5" r="1.3" fill="#1be01b" opacity="0.07"/><circle cx="541.8" cy="1307.8" r="1.3" fill="#1be01b" opacity="0.13"/><circle cx="444.5" cy="1344" r="1" fill="#1be01b" opacity="0.13"/><circle cx="427.8" cy="1390.3" r="0.8" fill="#1be01b" opacity="0.11"/><ellipse cx="508.4" cy="1381.3" rx="1.1" ry="1.4" fill="#1be01b" opacity="0.10" transform="rotate(29 508.4 1381.3)"/><ellipse cx="489.8" cy="1370.1" rx="0.9" ry="1" fill="#1be01b" opacity="0.09" transform="rotate(50 489.8 1370.1)"/><circle cx="410.5" cy="1361.7" r="0.8" fill="#1be01b" opacity="0.06"/><ellipse cx="472.5" cy="1290.4" rx="0.9" ry="0.7" fill="#1be01b" opacity="0.12" transform="rotate(89 472.5 1290.4)"/><ellipse cx="536.3" cy="1343.4" rx="1.1" ry="1.2" fill="#1be01b" opacity="0.11" transform="rotate(62 536.3 1343.4)"/></g></g>
<clipPath id="c23"><rect x="562.00" y="1287.00" width="149.8" height="149.5"/></clipPath>
<g clip-path="url(#c23)"><g filter="url(#b2)"><ellipse cx="655.8" cy="1315.6" rx="1.4" ry="1.7" fill="#1be01b" opacity="0.12" transform="rotate(108 655.8 1315.6)"/><ellipse cx="635.7" cy="1354.9" rx="1" ry="0.9" fill="#1be01b" opacity="0.29" transform="rotate(9 635.7 1354.9)"/><ellipse cx="690.5" cy="1314.4" rx="1.4" ry="1.5" fill="#1be01b" opacity="0.08" transform="rotate(75 690.5 1314.4)"/><circle cx="707.3" cy="1319.3" r="1.3" fill="#1be01b" opacity="0.30"/><ellipse cx="653.9" cy="1402" rx="0.8" ry="0.9" fill="#1be01b" opacity="0.14" transform="rotate(39 653.9 1402)"/><circle cx="695.5" cy="1393.7" r="1.1" fill="#1be01b" opacity="0.11"/><ellipse cx="666.4" cy="1433.4" rx="1.3" ry="1.6" fill="#1be01b" opacity="0.18" transform="rotate(161 666.4 1433.4)"/><ellipse cx="663.7" cy="1341" rx="1.1" ry="1.2" fill="#1be01b" opacity="0.24" transform="rotate(70 663.7 1341)"/><ellipse cx="667.6" cy="1425.6" rx="0.9" ry="0.8" fill="#1be01b" opacity="0.23" transform="rotate(109 667.6 1425.6)"/><ellipse cx="690.3" cy="1321.9" rx="1.5" ry="1.8" fill="#1be01b" opacity="0.23" transform="rotate(121 690.3 1321.9)"/><circle cx="626.8" cy="1360.7" r="1.1" fill="#1be01b" opacity="0.15"/><ellipse cx="565.2" cy="1434.9" rx="1.3" ry="1.1" fill="#1be01b" opacity="0.27" transform="rotate(69 565.2 1434.9)"/><ellipse cx="614.3" cy="1418.8" rx="1.5" ry="1.2" fill="#1be01b" opacity="0.22" transform="rotate(97 614.3 1418.8)"/><ellipse cx="596.8" cy="1301.3" rx="1.2" ry="1.3" fill="#1be01b" opacity="0.26" transform="rotate(125 596.8 1301.3)"/><ellipse cx="600.3" cy="1405.3" rx="1.1" ry="1" fill="#1be01b" opacity="0.26" transform="rotate(147 600.3 1405.3)"/><ellipse cx="688.9" cy="1423.2" rx="0.9" ry="1" fill="#1be01b" opacity="0.10" transform="rotate(83 688.9 1423.2)"/><ellipse cx="657.4" cy="1352" rx="1.4" ry="1.2" fill="#1be01b" opacity="0.14" transform="rotate(178 657.4 1352)"/><ellipse cx="616.2" cy="1341.6" rx="1.5" ry="1.6" fill="#1be01b" opacity="0.12" transform="rotate(13 616.2 1341.6)"/><ellipse cx="618.9" cy="1403.1" rx="1.1" ry="1.3" fill="#1be01b" opacity="0.15" transform="rotate(43 618.9 1403.1)"/><ellipse cx="565.8" cy="1334.7" rx="0.9" ry="1.2" fill="#1be01b" opacity="0.15" transform="rotate(61 565.8 1334.7)"/><ellipse cx="613.2" cy="1346.8" rx="1" ry="1.1" fill="#1be01b" opacity="0.29" transform="rotate(33 613.2 1346.8)"/><ellipse cx="640.9" cy="1384.7" rx="1.3" ry="1.5" fill="#1be01b" opacity="0.24" transform="rotate(129 640.9 1384.7)"/><ellipse cx="607.9" cy="1422.6" rx="1.5" ry="1.7" fill="#1be01b" opacity="0.14" transform="rotate(150 607.9 1422.6)"/><ellipse cx="613.5" cy="1416" rx="1.1" ry="1.3" fill="#1be01b" opacity="0.25" transform="rotate(179 613.5 1416)"/><ellipse cx="632.5" cy="1428.2" rx="1.4" ry="1.5" fill="#1be01b" opacity="0.17" transform="rotate(9 632.5 1428.2)"/><ellipse cx="588.8" cy="1426.8" rx="1.4" ry="1.2" fill="#1be01b" opacity="0.09" transform="rotate(148 588.8 1426.8)"/><ellipse cx="579.2" cy="1291.6" rx="1" ry="1.2" fill="#1be01b" opacity="0.18" transform="rotate(165 579.2 1291.6)"/><ellipse cx="604.8" cy="1375.5" rx="1.1" ry="1.4" fill="#1be01b" opacity="0.26" transform="rotate(71 604.8 1375.5)"/><ellipse cx="671" cy="1303.2" rx="0.9" ry="1.1" fill="#1be01b" opacity="0.19" transform="rotate(4 671 1303.2)"/><ellipse cx="673.7" cy="1310.2" rx="1.4" ry="1.2" fill="#1be01b" opacity="0.11" transform="rotate(142 673.7 1310.2)"/><ellipse cx="608.2" cy="1345.3" rx="1.3" ry="1.2" fill="#1be01b" opacity="0.18" transform="rotate(46 608.2 1345.3)"/><ellipse cx="582.9" cy="1426.7" rx="1.4" ry="1.8" fill="#1be01b" opacity="0.13" transform="rotate(50 582.9 1426.7)"/><ellipse cx="670.4" cy="1391.9" rx="1" ry="1.1" fill="#1be01b" opacity="0.21" transform="rotate(147 670.4 1391.9)"/><ellipse cx="635.7" cy="1361.8" rx="1.5" ry="1.3" fill="#1be01b" opacity="0.13" transform="rotate(150 635.7 1361.8)"/><ellipse cx="682.5" cy="1309.7" rx="1.3" ry="1.6" fill="#1be01b" opacity="0.26" transform="rotate(78 682.5 1309.7)"/><ellipse cx="641.7" cy="1321" rx="1" ry="1.3" fill="#1be01b" opacity="0.20" transform="rotate(8 641.7 1321)"/><ellipse cx="692.8" cy="1315.6" rx="1.2" ry="1.2" fill="#1be01b" opacity="0.26" transform="rotate(14 692.8 1315.6)"/><ellipse cx="656.1" cy="1378.8" rx="1.1" ry="1.4" fill="#1be01b" opacity="0.28" transform="rotate(2 656.1 1378.8)"/><circle cx="669.9" cy="1393.9" r="0.9" fill="#1be01b" opacity="0.14"/><circle cx="586.9" cy="1398.6" r="0.9" fill="#1be01b" opacity="0.12"/><ellipse cx="567.6" cy="1314.9" rx="1.3" ry="1.4" fill="#1be01b" opacity="0.16" transform="rotate(153 567.6 1314.9)"/><ellipse cx="621.7" cy="1349.9" rx="1" ry="1.1" fill="#1be01b" opacity="0.28" transform="rotate(135 621.7 1349.9)"/><circle cx="647.7" cy="1289.3" r="1" fill="#1be01b" opacity="0.10"/><ellipse cx="584.8" cy="1376.5" rx="1.3" ry="1.2" fill="#1be01b" opacity="0.28" transform="rotate(34 584.8 1376.5)"/><ellipse cx="656.7" cy="1351.3" rx="1.1" ry="1.4" fill="#1be01b" opacity="0.29" transform="rotate(38 656.7 1351.3)"/><ellipse cx="590.4" cy="1354.9" rx="1.2" ry="1" fill="#1be01b" opacity="0.14" transform="rotate(179 590.4 1354.9)"/><ellipse cx="672.9" cy="1370.6" rx="1.2" ry="1" fill="#1be01b" opacity="0.28" transform="rotate(140 672.9 1370.6)"/><ellipse cx="675.1" cy="1331.8" rx="1.3" ry="1.1" fill="#1be01b" opacity="0.20" transform="rotate(88 675.1 1331.8)"/><ellipse cx="707.1" cy="1423.6" rx="1" ry="0.8" fill="#1be01b" opacity="0.12" transform="rotate(128 707.1 1423.6)"/><ellipse cx="589.6" cy="1337.4" rx="0.9" ry="0.7" fill="#1be01b" opacity="0.29" transform="rotate(14 589.6 1337.4)"/><ellipse cx="616.2" cy="1326.7" rx="1" ry="0.8" fill="#1be01b" opacity="0.22" transform="rotate(87 616.2 1326.7)"/><circle cx="572.1" cy="1368.2" r="0.8" fill="#1be01b" opacity="0.24"/><circle cx="698.7" cy="1340.7" r="1.2" fill="#1be01b" opacity="0.20"/><ellipse cx="586.8" cy="1351.5" rx="0.9" ry="1.2" fill="#1be01b" opacity="0.19" transform="rotate(65 586.8 1351.5)"/><ellipse cx="611.5" cy="1359" rx="1.2" ry="1.6" fill="#1be01b" opacity="0.23" transform="rotate(130 611.5 1359)"/><ellipse cx="605.2" cy="1333.5" rx="1.2" ry="1.4" fill="#1be01b" opacity="0.25" transform="rotate(54 605.2 1333.5)"/><ellipse cx="681.8" cy="1317.1" rx="1.2" ry="1.2" fill="#1be01b" opacity="0.28" transform="rotate(150 681.8 1317.1)"/><ellipse cx="638.4" cy="1342.7" rx="1.1" ry="1.3" fill="#1be01b" opacity="0.19" transform="rotate(103 638.4 1342.7)"/><ellipse cx="679.3" cy="1389.8" rx="1.2" ry="1.2" fill="#1be01b" opacity="0.20" transform="rotate(75 679.3 1389.8)"/><circle cx="614.8" cy="1382.2" r="0.9" fill="#1be01b" opacity="0.19"/><ellipse cx="570.5" cy="1329.7" rx="1.2" ry="1.6" fill="#1be01b" opacity="0.17" transform="rotate(25 570.5 1329.7)"/><ellipse cx="681.7" cy="1430.1" rx="0.9" ry="0.8" fill="#1be01b" opacity="0.11" transform="rotate(161 681.7 1430.1)"/><ellipse cx="591.7" cy="1335.3" rx="0.9" ry="1.1" fill="#1be01b" opacity="0.13" transform="rotate(60 591.7 1335.3)"/><ellipse cx="617.2" cy="1382.5" rx="1.4" ry="1.5" fill="#1be01b" opacity="0.09" transform="rotate(173 617.2 1382.5)"/><ellipse cx="644.9" cy="1364.3" rx="1.4" ry="1.6" fill="#1be01b" opacity="0.27" transform="rotate(84 644.9 1364.3)"/><ellipse cx="687.8" cy="1372.4" rx="1.5" ry="1.3" fill="#1be01b" opacity="0.29" transform="rotate(19 687.8 1372.4)"/><ellipse cx="673" cy="1410.7" rx="1.3" ry="1.5" fill="#1be01b" opacity="0.15" transform="rotate(163 673 1410.7)"/><ellipse cx="690.6" cy="1303.2" rx="1.2" ry="1" fill="#1be01b" opacity="0.28" transform="rotate(134 690.6 1303.2)"/><ellipse cx="685.3" cy="1358.2" rx="1.3" ry="1.6" fill="#1be01b" opacity="0.19" transform="rotate(149 685.3 1358.2)"/><ellipse cx="670.9" cy="1362.9" rx="1" ry="1.3" fill="#1be01b" opacity="0.10" transform="rotate(50 670.9 1362.9)"/><circle cx="568.8" cy="1357.6" r="0.9" fill="#1be01b" opacity="0.16"/><ellipse cx="663.8" cy="1316.6" rx="1" ry="0.9" fill="#1be01b" opacity="0.13" transform="rotate(157 663.8 1316.6)"/><circle cx="643.6" cy="1426.3" r="1.5" fill="#1be01b" opacity="0.25"/><ellipse cx="705.2" cy="1384.1" rx="1.4" ry="1.7" fill="#1be01b" opacity="0.17" transform="rotate(129 705.2 1384.1)"/><ellipse cx="654" cy="1297.7" rx="1.1" ry="0.9" fill="#1be01b" opacity="0.19" transform="rotate(155 654 1297.7)"/><ellipse cx="606.7" cy="1327.7" rx="1" ry="1.1" fill="#1be01b" opacity="0.22" transform="rotate(145 606.7 1327.7)"/><ellipse cx="650.1" cy="1359.6" rx="1.4" ry="1.2" fill="#1be01b" opacity="0.21" transform="rotate(152 650.1 1359.6)"/><ellipse cx="612.6" cy="1311.2" rx="0.9" ry="0.7" fill="#1be01b" opacity="0.24" transform="rotate(105 612.6 1311.2)"/><ellipse cx="676.9" cy="1418.8" rx="1.5" ry="1.7" fill="#1be01b" opacity="0.10" transform="rotate(144 676.9 1418.8)"/><circle cx="602.5" cy="1293.2" r="1" fill="#1be01b" opacity="0.18"/><ellipse cx="668.3" cy="1358.9" rx="1.5" ry="1.6" fill="#1be01b" opacity="0.14" transform="rotate(137 668.3 1358.9)"/><ellipse cx="631.6" cy="1391" rx="0.8" ry="0.7" fill="#1be01b" opacity="0.18" transform="rotate(95 631.6 1391)"/><ellipse cx="590.5" cy="1329.6" rx="1" ry="1.2" fill="#1be01b" opacity="0.25" transform="rotate(138 590.5 1329.6)"/><circle cx="622.9" cy="1409.4" r="1.1" fill="#1be01b" opacity="0.12"/><ellipse cx="624.9" cy="1345.3" rx="1.3" ry="1.3" fill="#1be01b" opacity="0.10" transform="rotate(164 624.9 1345.3)"/><circle cx="598.6" cy="1311.4" r="1.9" fill="#1dfa1d" opacity="0.95"/><circle cx="600.9" cy="1310.2" r="2" fill="#1dfa1d" opacity="0.95"/><circle cx="604.8" cy="1330.4" r="1.6" fill="#1dfa1d" opacity="0.80"/><circle cx="606.1" cy="1332.8" r="1.9" fill="#1dfa1d" opacity="0.80"/><circle cx="619.5" cy="1343.5" r="2.4" fill="#1dfa1d"/><circle cx="621.4" cy="1342.3" r="2.7" fill="#1dfa1d"/><circle cx="656.5" cy="1345.1" r="2.4" fill="#1dfa1d" opacity="0.95"/><circle cx="658.7" cy="1344.7" r="2" fill="#1dfa1d" opacity="0.95"/><circle cx="666.7" cy="1357.4" r="1.8" fill="#1dfa1d" opacity="0.90"/><circle cx="633.3" cy="1362.3" r="2.2" fill="#1dfa1d" opacity="0.90"/><circle cx="693.3" cy="1372.8" r="1.7" fill="#1dfa1d" opacity="0.80"/><circle cx="700.6" cy="1362" r="2" fill="#1dfa1d" opacity="0.70"/><circle cx="688.7" cy="1393.9" r="2" fill="#1dfa1d" opacity="0.85"/><circle cx="691" cy="1396.6" r="2" fill="#1dfa1d" opacity="0.85"/><circle cx="642" cy="1393.6" r="1.9" fill="#1dfa1d" opacity="0.80"/><circle cx="660.9" cy="1416.2" r="3.2" fill="#1dfa1d" opacity="0.90"/><circle cx="633.3" cy="1403.8" r="1.7" fill="#1dfa1d" opacity="0.80"/><circle cx="603.8" cy="1413.9" r="1.6" fill="#1dfa1d" opacity="0.75"/><circle cx="605.2" cy="1422.6" r="1.7" fill="#1dfa1d" opacity="0.70"/><circle cx="670.1" cy="1319.7" r="1.6" fill="#1dfa1d" opacity="0.70"/><circle cx="694.2" cy="1318.3" r="1.5" fill="#1dfa1d" opacity="0.60"/><circle cx="668.1" cy="1293" r="1.8" fill="#1dfa1d" opacity="0.55"/><circle cx="615.9" cy="1324.1" r="1.7" fill="#1dfa1d" opacity="0.60"/><circle cx="629" cy="1373.6" r="1.7" fill="#1dfa1d" opacity="0.50"/><circle cx="701.4" cy="1420.9" r="1.8" fill="#1dfa1d" opacity="0.70"/><circle cx="666.7" cy="1423.5" r="1.8" fill="#1dfa1d" opacity="0.60"/><circle cx="629.9" cy="1329.9" r="1.4" fill="#1dfa1d" opacity="0.45"/></g></g>
<clipPath id="c24"><rect x="717.95" y="1287.00" width="149.8" height="149.5"/></clipPath>
<g clip-path="url(#c24)"><g filter="url(#b2)"><ellipse cx="859.4" cy="1341" rx="1.2" ry="1.4" fill="#1be01b" opacity="0.35" transform="rotate(137 859.4 1341)"/><ellipse cx="749.6" cy="1391" rx="1.2" ry="1.1" fill="#1be01b" opacity="0.13" transform="rotate(41 749.6 1391)"/><ellipse cx="836.2" cy="1327.3" rx="0.9" ry="0.8" fill="#1be01b" opacity="0.27" transform="rotate(92 836.2 1327.3)"/><ellipse cx="836.9" cy="1337.2" rx="1.2" ry="1.4" fill="#1be01b" opacity="0.16" transform="rotate(159 836.9 1337.2)"/><ellipse cx="741.6" cy="1398.7" rx="1.1" ry="1.4" fill="#1be01b" opacity="0.30" transform="rotate(29 741.6 1398.7)"/><ellipse cx="781.1" cy="1420.2" rx="0.9" ry="1.2" fill="#1be01b" opacity="0.27" transform="rotate(119 781.1 1420.2)"/><ellipse cx="785.3" cy="1374.8" rx="1.5" ry="1.3" fill="#1be01b" opacity="0.15" transform="rotate(61 785.3 1374.8)"/><ellipse cx="847.9" cy="1322.2" rx="1.3" ry="1.4" fill="#1be01b" opacity="0.18" transform="rotate(12 847.9 1322.2)"/><ellipse cx="761.2" cy="1402.8" rx="1.2" ry="1" fill="#1be01b" opacity="0.34" transform="rotate(37 761.2 1402.8)"/><ellipse cx="753.8" cy="1335" rx="1" ry="1.1" fill="#1be01b" opacity="0.24" transform="rotate(73 753.8 1335)"/><ellipse cx="757.1" cy="1393.4" rx="1" ry="0.8" fill="#1be01b" opacity="0.10" transform="rotate(31 757.1 1393.4)"/><circle cx="745.8" cy="1367.4" r="1.2" fill="#1be01b" opacity="0.33"/><ellipse cx="766.1" cy="1315.3" rx="1.2" ry="1.4" fill="#1be01b" opacity="0.19" transform="rotate(143 766.1 1315.3)"/><ellipse cx="792.4" cy="1314" rx="1.4" ry="1.8" fill="#1be01b" opacity="0.26" transform="rotate(147 792.4 1314)"/><ellipse cx="745.2" cy="1331.8" rx="1.3" ry="1.6" fill="#1be01b" opacity="0.24" transform="rotate(113 745.2 1331.8)"/><ellipse cx="776.5" cy="1338.3" rx="1.5" ry="1.6" fill="#1be01b" opacity="0.16" transform="rotate(119 776.5 1338.3)"/><ellipse cx="750" cy="1415.1" rx="1.1" ry="1.3" fill="#1be01b" opacity="0.11" transform="rotate(10 750 1415.1)"/><ellipse cx="788.4" cy="1397.6" rx="1" ry="1.1" fill="#1be01b" opacity="0.30" transform="rotate(73 788.4 1397.6)"/><ellipse cx="862.6" cy="1357.1" rx="1.3" ry="1.6" fill="#1be01b" opacity="0.12" transform="rotate(20 862.6 1357.1)"/><ellipse cx="767.3" cy="1422.7" rx="1.1" ry="0.9" fill="#1be01b" opacity="0.32" transform="rotate(25 767.3 1422.7)"/><ellipse cx="785" cy="1390.7" rx="1.4" ry="1.7" fill="#1be01b" opacity="0.15" transform="rotate(28 785 1390.7)"/><ellipse cx="835.1" cy="1365.2" rx="1.2" ry="1.5" fill="#1be01b" opacity="0.35" transform="rotate(45 835.1 1365.2)"/><ellipse cx="793.9" cy="1419.4" rx="1.5" ry="1.6" fill="#1be01b" opacity="0.13" transform="rotate(156 793.9 1419.4)"/><ellipse cx="818.7" cy="1383.7" rx="0.9" ry="1.1" fill="#1be01b" opacity="0.29" transform="rotate(79 818.7 1383.7)"/><circle cx="856.3" cy="1373.5" r="1.3" fill="#1be01b" opacity="0.18"/><ellipse cx="794" cy="1405.2" rx="1.5" ry="1.4" fill="#1be01b" opacity="0.25" transform="rotate(179 794 1405.2)"/><ellipse cx="722.9" cy="1307.1" rx="1.5" ry="1.6" fill="#1be01b" opacity="0.20" transform="rotate(2 722.9 1307.1)"/><ellipse cx="784.8" cy="1309.3" rx="1.1" ry="1.4" fill="#1be01b" opacity="0.26" transform="rotate(126 784.8 1309.3)"/><ellipse cx="850.4" cy="1396.6" rx="0.9" ry="1" fill="#1be01b" opacity="0.27" transform="rotate(28 850.4 1396.6)"/><ellipse cx="856.9" cy="1389.4" rx="1.2" ry="1.4" fill="#1be01b" opacity="0.27" transform="rotate(148 856.9 1389.4)"/><ellipse cx="777.8" cy="1302.2" rx="1.4" ry="1.7" fill="#1be01b" opacity="0.28" transform="rotate(136 777.8 1302.2)"/><ellipse cx="735.6" cy="1302.9" rx="1.3" ry="1.1" fill="#1be01b" opacity="0.32" transform="rotate(49 735.6 1302.9)"/><ellipse cx="721.2" cy="1314.7" rx="1.3" ry="1.1" fill="#1be01b" opacity="0.11" transform="rotate(2 721.2 1314.7)"/><ellipse cx="799.4" cy="1431" rx="1" ry="0.9" fill="#1be01b" opacity="0.15" transform="rotate(27 799.4 1431)"/><ellipse cx="790.6" cy="1332.8" rx="1.4" ry="1.2" fill="#1be01b" opacity="0.35" transform="rotate(148 790.6 1332.8)"/><ellipse cx="813.7" cy="1304.6" rx="1.5" ry="1.6" fill="#1be01b" opacity="0.34" transform="rotate(111 813.7 1304.6)"/><ellipse cx="822" cy="1323.6" rx="1" ry="1.1" fill="#1be01b" opacity="0.17" transform="rotate(154 822 1323.6)"/><circle cx="809.3" cy="1361.7" r="1.2" fill="#1be01b" opacity="0.31"/><ellipse cx="803.9" cy="1337.1" rx="1.5" ry="1.4" fill="#1be01b" opacity="0.12" transform="rotate(128 803.9 1337.1)"/><ellipse cx="848.3" cy="1305.5" rx="1.1" ry="0.9" fill="#1be01b" opacity="0.30" transform="rotate(171 848.3 1305.5)"/><ellipse cx="776.7" cy="1398.1" rx="0.9" ry="1.2" fill="#1be01b" opacity="0.31" transform="rotate(65 776.7 1398.1)"/><ellipse cx="733" cy="1291.1" rx="1.3" ry="1.4" fill="#1be01b" opacity="0.22" transform="rotate(146 733 1291.1)"/><ellipse cx="862.8" cy="1357.9" rx="1.5" ry="1.8" fill="#1be01b" opacity="0.33" transform="rotate(117 862.8 1357.9)"/><ellipse cx="854.7" cy="1290.6" rx="1.3" ry="1.2" fill="#1be01b" opacity="0.19" transform="rotate(132 854.7 1290.6)"/><ellipse cx="807.9" cy="1314.4" rx="1.1" ry="1.1" fill="#1be01b" opacity="0.10" transform="rotate(102 807.9 1314.4)"/><ellipse cx="793" cy="1403.3" rx="1.5" ry="1.9" fill="#1be01b" opacity="0.30" transform="rotate(65 793 1403.3)"/><ellipse cx="723.1" cy="1327.5" rx="1.3" ry="1.5" fill="#1be01b" opacity="0.14" transform="rotate(157 723.1 1327.5)"/><ellipse cx="768.9" cy="1357" rx="1.4" ry="1.5" fill="#1be01b" opacity="0.31" transform="rotate(41 768.9 1357)"/><ellipse cx="860.8" cy="1338.8" rx="1.5" ry="1.9" fill="#1be01b" opacity="0.13" transform="rotate(18 860.8 1338.8)"/><ellipse cx="763.3" cy="1384.2" rx="1.1" ry="1.2" fill="#1be01b" opacity="0.12" transform="rotate(91 763.3 1384.2)"/><ellipse cx="789.3" cy="1309.8" rx="1.3" ry="1.3" fill="#1be01b" opacity="0.15" transform="rotate(85 789.3 1309.8)"/><ellipse cx="828" cy="1313.2" rx="1.3" ry="1.5" fill="#1be01b" opacity="0.33" transform="rotate(90 828 1313.2)"/><ellipse cx="849.9" cy="1296.9" rx="1.2" ry="1" fill="#1be01b" opacity="0.29" transform="rotate(21 849.9 1296.9)"/><ellipse cx="840.7" cy="1327.5" rx="1.1" ry="1.2" fill="#1be01b" opacity="0.18" transform="rotate(50 840.7 1327.5)"/><ellipse cx="826.8" cy="1380.7" rx="1.3" ry="1.4" fill="#1be01b" opacity="0.11" transform="rotate(50 826.8 1380.7)"/><circle cx="736.6" cy="1300.9" r="1" fill="#1be01b" opacity="0.16"/><ellipse cx="826.2" cy="1406.4" rx="1.5" ry="1.4" fill="#1be01b" opacity="0.25" transform="rotate(119 826.2 1406.4)"/><circle cx="833.7" cy="1294" r="1.2" fill="#1be01b" opacity="0.11"/><ellipse cx="775.9" cy="1377.4" rx="1.2" ry="1.3" fill="#1be01b" opacity="0.17" transform="rotate(88 775.9 1377.4)"/><ellipse cx="818.1" cy="1376.9" rx="1.4" ry="1.3" fill="#1be01b" opacity="0.32" transform="rotate(145 818.1 1376.9)"/><ellipse cx="784.7" cy="1382.4" rx="1.3" ry="1.5" fill="#1be01b" opacity="0.33" transform="rotate(39 784.7 1382.4)"/><ellipse cx="728.6" cy="1404.3" rx="1.1" ry="1.3" fill="#1be01b" opacity="0.13" transform="rotate(143 728.6 1404.3)"/><ellipse cx="837.1" cy="1373.7" rx="1.6" ry="1.4" fill="#1be01b" opacity="0.19" transform="rotate(146 837.1 1373.7)"/><circle cx="759.2" cy="1351.9" r="1" fill="#1be01b" opacity="0.32"/><ellipse cx="730.4" cy="1407.7" rx="0.9" ry="1" fill="#1be01b" opacity="0.26" transform="rotate(76 730.4 1407.7)"/><ellipse cx="821" cy="1342.2" rx="1.5" ry="1.7" fill="#1be01b" opacity="0.11" transform="rotate(111 821 1342.2)"/><ellipse cx="745" cy="1379.6" rx="1.1" ry="0.9" fill="#1be01b" opacity="0.15" transform="rotate(28 745 1379.6)"/><ellipse cx="726.4" cy="1357.4" rx="1.4" ry="1.7" fill="#1be01b" opacity="0.29" transform="rotate(154 726.4 1357.4)"/><ellipse cx="781.6" cy="1363.6" rx="1.1" ry="1.4" fill="#1be01b" opacity="0.15" transform="rotate(84 781.6 1363.6)"/><ellipse cx="833.8" cy="1415.1" rx="1" ry="1.3" fill="#1be01b" opacity="0.26" transform="rotate(148 833.8 1415.1)"/><ellipse cx="802.9" cy="1380.8" rx="1.5" ry="1.6" fill="#1be01b" opacity="0.11" transform="rotate(105 802.9 1380.8)"/><ellipse cx="740.6" cy="1366.4" rx="1.4" ry="1.2" fill="#1be01b" opacity="0.32"/><ellipse cx="737.6" cy="1332.3" rx="1.4" ry="1.7" fill="#1be01b" opacity="0.35" transform="rotate(70 737.6 1332.3)"/><ellipse cx="741.8" cy="1336.1" rx="1.2" ry="1.1" fill="#1be01b" opacity="0.29" transform="rotate(99 741.8 1336.1)"/><ellipse cx="725" cy="1351.8" rx="1" ry="0.9" fill="#1be01b" opacity="0.18" transform="rotate(34 725 1351.8)"/><circle cx="784.5" cy="1318.7" r="1.3" fill="#1be01b" opacity="0.11"/><ellipse cx="798.9" cy="1429.1" rx="1.5" ry="1.9" fill="#1be01b" opacity="0.32" transform="rotate(152 798.9 1429.1)"/><circle cx="847.9" cy="1337.5" r="1.3" fill="#1be01b" opacity="0.33"/><ellipse cx="848.2" cy="1306.4" rx="1.3" ry="1.6" fill="#1be01b" opacity="0.26" transform="rotate(59 848.2 1306.4)"/><ellipse cx="751.3" cy="1307.6" rx="1.5" ry="1.4" fill="#1be01b" opacity="0.23" transform="rotate(179 751.3 1307.6)"/><ellipse cx="790.9" cy="1358.6" rx="1" ry="1.3" fill="#1be01b" opacity="0.25" transform="rotate(170 790.9 1358.6)"/><ellipse cx="840.3" cy="1368.6" rx="1.3" ry="1.4" fill="#1be01b" opacity="0.25" transform="rotate(138 840.3 1368.6)"/><ellipse cx="831.2" cy="1415.1" rx="1.3" ry="1.4" fill="#1be01b" opacity="0.33" transform="rotate(166 831.2 1415.1)"/><ellipse cx="783.2" cy="1392.4" rx="1" ry="1.2" fill="#1be01b" opacity="0.27" transform="rotate(5 783.2 1392.4)"/><ellipse cx="806.5" cy="1313.5" rx="0.9" ry="0.7" fill="#1be01b" opacity="0.32" transform="rotate(101 806.5 1313.5)"/><circle cx="731.7" cy="1302.6" r="2.5" fill="#1dfa1d" opacity="0.80"/><circle cx="776.3" cy="1305.5" r="1.7" fill="#1dfa1d" opacity="0.75"/><circle cx="860.4" cy="1298.3" r="2" fill="#1dfa1d" opacity="0.80"/><circle cx="745.9" cy="1324.1" r="2.1" fill="#1dfa1d" opacity="0.70"/><circle cx="807.7" cy="1319.1" r="1.8" fill="#1dfa1d" opacity="0.80"/><circle cx="816.9" cy="1342.3" r="2" fill="#1dfa1d" opacity="0.90"/><circle cx="829.4" cy="1350.4" r="1.5" fill="#1dfa1d" opacity="0.80"/><circle cx="839.5" cy="1352.5" r="2.6" fill="#1dfa1d"/><circle cx="792.6" cy="1350.4" r="1.7" fill="#1dfa1d" opacity="0.70"/><circle cx="792.6" cy="1364.9" r="2.2" fill="#1dfa1d" opacity="0.80"/><circle cx="749.7" cy="1365.8" r="2" fill="#1dfa1d" opacity="0.75"/><circle cx="770" cy="1363.2" r="1.9" fill="#1dfa1d" opacity="0.60"/><circle cx="721.3" cy="1367" r="1.7" fill="#1dfa1d" opacity="0.60"/><circle cx="724.2" cy="1395.4" r="3.1" fill="#1dfa1d" opacity="0.90"/><circle cx="823.2" cy="1406.3" r="1.9" fill="#1dfa1d" opacity="0.85"/><circle cx="821.9" cy="1407.9" r="2.2" fill="#1dfa1d" opacity="0.85"/><circle cx="806.2" cy="1422.9" r="2.4" fill="#1dfa1d" opacity="0.95"/><circle cx="809.7" cy="1428.7" r="2.1" fill="#1dfa1d" opacity="0.80"/><circle cx="775.8" cy="1398.3" r="1.6" fill="#1dfa1d" opacity="0.55"/><circle cx="799" cy="1389.6" r="1.8" fill="#1dfa1d" opacity="0.50"/><circle cx="861.3" cy="1393.9" r="1.5" fill="#1dfa1d" opacity="0.50"/><circle cx="848.2" cy="1386.7" r="1.6" fill="#1dfa1d" opacity="0.50"/><circle cx="729.4" cy="1338" r="1.6" fill="#1dfa1d" opacity="0.45"/><circle cx="823.6" cy="1332.8" r="1.5" fill="#1dfa1d" opacity="0.50"/></g></g>
<clipPath id="c25"><rect x="873.90" y="1287.00" width="149.8" height="149.5"/></clipPath>
<g clip-path="url(#c25)"><g filter="url(#b2)"><ellipse cx="996.1" cy="1330" rx="1.4" ry="1.5" fill="#1be01b" opacity="0.16" transform="rotate(138 996.1 1330)"/><circle cx="1016.6" cy="1382.3" r="1.2" fill="#1be01b" opacity="0.16"/><ellipse cx="877.2" cy="1353.1" rx="1.6" ry="1.8" fill="#1be01b" opacity="0.16" transform="rotate(129 877.2 1353.1)"/><ellipse cx="998.2" cy="1410.9" rx="1.6" ry="2" fill="#1be01b" opacity="0.25" transform="rotate(9 998.2 1410.9)"/><ellipse cx="973.3" cy="1367.1" rx="1.6" ry="1.9" fill="#1be01b" opacity="0.23" transform="rotate(157 973.3 1367.1)"/><ellipse cx="898.5" cy="1410.1" rx="1.5" ry="1.3" fill="#1be01b" opacity="0.14" transform="rotate(28 898.5 1410.1)"/><ellipse cx="923.4" cy="1314.3" rx="1.1" ry="1.2" fill="#1be01b" opacity="0.25" transform="rotate(6 923.4 1314.3)"/><ellipse cx="1007.6" cy="1358.1" rx="1" ry="0.9" fill="#1be01b" opacity="0.28" transform="rotate(16 1007.6 1358.1)"/><ellipse cx="992.2" cy="1403.9" rx="1.4" ry="1.2" fill="#1be01b" opacity="0.29" transform="rotate(69 992.2 1403.9)"/><circle cx="939.9" cy="1413.2" r="1.5" fill="#1be01b" opacity="0.10"/><ellipse cx="931.2" cy="1318" rx="1" ry="0.8" fill="#1be01b" opacity="0.29" transform="rotate(134 931.2 1318)"/><ellipse cx="974.1" cy="1425.1" rx="0.9" ry="1" fill="#1be01b" opacity="0.27" transform="rotate(32 974.1 1425.1)"/><ellipse cx="909.9" cy="1382.9" rx="1.2" ry="1.5" fill="#1be01b" opacity="0.24" transform="rotate(169 909.9 1382.9)"/><ellipse cx="946.4" cy="1297.4" rx="1.1" ry="1" fill="#1be01b" opacity="0.33" transform="rotate(57 946.4 1297.4)"/><ellipse cx="951.5" cy="1304.4" rx="1.4" ry="1.6" fill="#1be01b" opacity="0.22" transform="rotate(149 951.5 1304.4)"/><ellipse cx="887.7" cy="1397.5" rx="1.2" ry="1.1" fill="#1be01b" opacity="0.17" transform="rotate(117 887.7 1397.5)"/><ellipse cx="958.1" cy="1382.8" rx="1.5" ry="1.2" fill="#1be01b" opacity="0.33" transform="rotate(6 958.1 1382.8)"/><circle cx="1004.3" cy="1382.8" r="1.5" fill="#1be01b" opacity="0.17"/><ellipse cx="972.3" cy="1314.7" rx="1" ry="1.2" fill="#1be01b" opacity="0.16" transform="rotate(18 972.3 1314.7)"/><ellipse cx="1001.3" cy="1433" rx="1.3" ry="1.1" fill="#1be01b" opacity="0.32" transform="rotate(28 1001.3 1433)"/><ellipse cx="908.1" cy="1325.6" rx="1.6" ry="1.9" fill="#1be01b" opacity="0.29" transform="rotate(24 908.1 1325.6)"/><ellipse cx="917.7" cy="1314" rx="0.9" ry="0.8" fill="#1be01b" opacity="0.13" transform="rotate(137 917.7 1314)"/><ellipse cx="924.9" cy="1392.8" rx="1.6" ry="1.9" fill="#1be01b" opacity="0.12" transform="rotate(17 924.9 1392.8)"/><circle cx="881.2" cy="1371.1" r="1.1" fill="#1be01b" opacity="0.20"/><ellipse cx="962.8" cy="1337.5" rx="0.9" ry="1.2" fill="#1be01b" opacity="0.20" transform="rotate(164 962.8 1337.5)"/><ellipse cx="961.1" cy="1395.2" rx="1.4" ry="1.1" fill="#1be01b" opacity="0.12" transform="rotate(164 961.1 1395.2)"/><ellipse cx="985.8" cy="1378.5" rx="1.3" ry="1.1" fill="#1be01b" opacity="0.13" transform="rotate(1 985.8 1378.5)"/><ellipse cx="910.6" cy="1305.2" rx="1.2" ry="1" fill="#1be01b" opacity="0.24" transform="rotate(136 910.6 1305.2)"/><ellipse cx="930.3" cy="1393.5" rx="1.6" ry="1.4" fill="#1be01b" opacity="0.25" transform="rotate(99 930.3 1393.5)"/><ellipse cx="992.5" cy="1388.8" rx="1" ry="1.1" fill="#1be01b" opacity="0.27" transform="rotate(50 992.5 1388.8)"/><ellipse cx="890.4" cy="1366" rx="1.4" ry="1.6" fill="#1be01b" opacity="0.18" transform="rotate(74 890.4 1366)"/><ellipse cx="936.3" cy="1401.9" rx="1.7" ry="2.1" fill="#1be01b" opacity="0.32" transform="rotate(173 936.3 1401.9)"/><ellipse cx="950.7" cy="1379.3" rx="0.9" ry="1.1" fill="#1be01b" opacity="0.31" transform="rotate(88 950.7 1379.3)"/><ellipse cx="975.6" cy="1361.7" rx="1.6" ry="1.8" fill="#1be01b" opacity="0.30" transform="rotate(56 975.6 1361.7)"/><ellipse cx="1006.6" cy="1335.2" rx="1.6" ry="2" fill="#1be01b" opacity="0.11" transform="rotate(179 1006.6 1335.2)"/><circle cx="945.7" cy="1373.1" r="1.2" fill="#1be01b" opacity="0.14"/><ellipse cx="879.5" cy="1380.3" rx="1.2" ry="1" fill="#1be01b" opacity="0.18" transform="rotate(54 879.5 1380.3)"/><ellipse cx="885.1" cy="1385.5" rx="1" ry="1.3" fill="#1be01b" opacity="0.13" transform="rotate(74 885.1 1385.5)"/><ellipse cx="966.9" cy="1294.5" rx="1.6" ry="1.9" fill="#1be01b" opacity="0.25" transform="rotate(62 966.9 1294.5)"/><circle cx="955.4" cy="1290" r="1.6" fill="#1be01b" opacity="0.33"/><circle cx="955.5" cy="1377.4" r="1.7" fill="#1be01b" opacity="0.18"/><ellipse cx="1021.1" cy="1307.6" rx="1.6" ry="1.9" fill="#1be01b" opacity="0.15" transform="rotate(59 1021.1 1307.6)"/><ellipse cx="939.2" cy="1289" rx="1.2" ry="1.1" fill="#1be01b" opacity="0.26" transform="rotate(159 939.2 1289)"/><ellipse cx="1020" cy="1305.4" rx="1.5" ry="1.3" fill="#1be01b" opacity="0.13" transform="rotate(126 1020 1305.4)"/><ellipse cx="896.4" cy="1396.6" rx="1.7" ry="1.8" fill="#1be01b" opacity="0.21" transform="rotate(173 896.4 1396.6)"/><circle cx="968.9" cy="1432.7" r="1.5" fill="#1be01b" opacity="0.11"/><ellipse cx="1013.2" cy="1307.1" rx="1.4" ry="1.4" fill="#1be01b" opacity="0.29" transform="rotate(119 1013.2 1307.1)"/><ellipse cx="928.2" cy="1302.4" rx="1.5" ry="1.4" fill="#1be01b" opacity="0.28" transform="rotate(58 928.2 1302.4)"/><ellipse cx="912.3" cy="1402.1" rx="1.5" ry="1.3" fill="#1be01b" opacity="0.10" transform="rotate(147 912.3 1402.1)"/><circle cx="901" cy="1416.2" r="1.7" fill="#1be01b" opacity="0.23"/><circle cx="964.6" cy="1305.6" r="1" fill="#1be01b" opacity="0.24"/><ellipse cx="963.1" cy="1298" rx="1.7" ry="1.4" fill="#1be01b" opacity="0.31" transform="rotate(43 963.1 1298)"/><ellipse cx="922.2" cy="1337.7" rx="1.4" ry="1.5" fill="#1be01b" opacity="0.32" transform="rotate(138 922.2 1337.7)"/><ellipse cx="914.9" cy="1362.2" rx="1.7" ry="1.5" fill="#1be01b" opacity="0.20" transform="rotate(118 914.9 1362.2)"/><circle cx="932.3" cy="1385.3" r="1.4" fill="#1be01b" opacity="0.18"/><ellipse cx="941.2" cy="1432.1" rx="0.9" ry="1" fill="#1be01b" opacity="0.19" transform="rotate(129 941.2 1432.1)"/><ellipse cx="1021.4" cy="1388.4" rx="1.6" ry="1.7" fill="#1be01b" opacity="0.34" transform="rotate(63 1021.4 1388.4)"/><ellipse cx="942.3" cy="1425.6" rx="1.3" ry="1.5" fill="#1be01b" opacity="0.27" transform="rotate(166 942.3 1425.6)"/><ellipse cx="908.8" cy="1430.5" rx="0.9" ry="1.1" fill="#1be01b" opacity="0.34" transform="rotate(1 908.8 1430.5)"/><ellipse cx="949.1" cy="1381.2" rx="1.2" ry="1.1" fill="#1be01b" opacity="0.33" transform="rotate(54 949.1 1381.2)"/><ellipse cx="958.6" cy="1344.4" rx="1.1" ry="0.9" fill="#1be01b" opacity="0.30" transform="rotate(160 958.6 1344.4)"/><ellipse cx="987.8" cy="1309.1" rx="1.3" ry="1.1" fill="#1be01b" opacity="0.12" transform="rotate(49 987.8 1309.1)"/><ellipse cx="940.1" cy="1357.3" rx="1" ry="0.8" fill="#1be01b" opacity="0.23" transform="rotate(83 940.1 1357.3)"/><ellipse cx="934.2" cy="1363.8" rx="1.1" ry="1.3" fill="#1be01b" opacity="0.13" transform="rotate(78 934.2 1363.8)"/><ellipse cx="942.9" cy="1312.3" rx="1.5" ry="1.6" fill="#1be01b" opacity="0.22" transform="rotate(143 942.9 1312.3)"/><ellipse cx="1009.7" cy="1303.5" rx="1.5" ry="1.4" fill="#1be01b" opacity="0.33" transform="rotate(65 1009.7 1303.5)"/><ellipse cx="978.6" cy="1395.4" rx="1.2" ry="1.3" fill="#1be01b" opacity="0.27" transform="rotate(19 978.6 1395.4)"/><circle cx="973.5" cy="1380.9" r="1.3" fill="#1be01b" opacity="0.21"/><ellipse cx="914.9" cy="1373" rx="1.5" ry="1.3" fill="#1be01b" opacity="0.18" transform="rotate(36 914.9 1373)"/><circle cx="976.5" cy="1419.2" r="0.9" fill="#1be01b" opacity="0.19"/><ellipse cx="1009.8" cy="1351.3" rx="1" ry="1.1" fill="#1be01b" opacity="0.11" transform="rotate(161 1009.8 1351.3)"/><ellipse cx="876" cy="1301.9" rx="1" ry="1.3" fill="#1be01b" opacity="0.17" transform="rotate(46 876 1301.9)"/><ellipse cx="910.9" cy="1411.3" rx="1.5" ry="1.7" fill="#1be01b" opacity="0.30" transform="rotate(48 910.9 1411.3)"/><ellipse cx="898.3" cy="1322.1" rx="1.7" ry="1.6" fill="#1be01b" opacity="0.25" transform="rotate(109 898.3 1322.1)"/><ellipse cx="950.9" cy="1331.3" rx="1.5" ry="1.6" fill="#1be01b" opacity="0.18" transform="rotate(125 950.9 1331.3)"/><ellipse cx="927.3" cy="1390.2" rx="1.1" ry="1.3" fill="#1be01b" opacity="0.30" transform="rotate(151 927.3 1390.2)"/><ellipse cx="899.5" cy="1293.2" rx="1.2" ry="1.1" fill="#1be01b" opacity="0.21" transform="rotate(134 899.5 1293.2)"/><ellipse cx="1008.9" cy="1393" rx="1" ry="0.9" fill="#1be01b" opacity="0.33" transform="rotate(22 1008.9 1393)"/><ellipse cx="951.9" cy="1407.6" rx="1.3" ry="1.4" fill="#1be01b" opacity="0.20" transform="rotate(87 951.9 1407.6)"/><ellipse cx="907.5" cy="1339.2" rx="1.4" ry="1.6" fill="#1be01b" opacity="0.25" transform="rotate(81 907.5 1339.2)"/><ellipse cx="910.6" cy="1317.2" rx="1.3" ry="1.5" fill="#1be01b" opacity="0.32" transform="rotate(156 910.6 1317.2)"/><ellipse cx="949" cy="1347" rx="1.4" ry="1.2" fill="#1be01b" opacity="0.17" transform="rotate(23 949 1347)"/><circle cx="878.1" cy="1354" r="1.1" fill="#1be01b" opacity="0.26"/><ellipse cx="1005.4" cy="1361.6" rx="1.7" ry="1.6" fill="#1be01b" opacity="0.18" transform="rotate(41 1005.4 1361.6)"/><ellipse cx="1012.6" cy="1393.2" rx="1.7" ry="1.8" fill="#1be01b" opacity="0.32" transform="rotate(96 1012.6 1393.2)"/><circle cx="877.8" cy="1292.2" r="2" fill="#1dfa1d" opacity="0.70"/><circle cx="891.7" cy="1313.3" r="2" fill="#1dfa1d" opacity="0.60"/><circle cx="921.3" cy="1311.2" r="2" fill="#1dfa1d" opacity="0.70"/><circle cx="923.4" cy="1309.6" r="2.2" fill="#1dfa1d" opacity="0.70"/><circle cx="927.9" cy="1329.3" r="4.9" fill="#1dfa1d" opacity="0.60"/><circle cx="992.6" cy="1308.4" r="1.9" fill="#1dfa1d" opacity="0.60"/><circle cx="967.1" cy="1348.1" r="3.8" fill="#1dfa1d" opacity="0.80"/><circle cx="966.5" cy="1355.9" r="2.8" fill="#1dfa1d" opacity="0.80"/><circle cx="993.7" cy="1338.6" r="2.3" fill="#1dfa1d" opacity="0.75"/><circle cx="997.5" cy="1347.2" r="1.9" fill="#1dfa1d" opacity="0.60"/><circle cx="896.4" cy="1370.5" r="2.8" fill="#1dfa1d" opacity="0.80"/><circle cx="900.8" cy="1370" r="2.6" fill="#1dfa1d" opacity="0.80"/><circle cx="971.1" cy="1371.5" r="2.3" fill="#1dfa1d" opacity="0.70"/><circle cx="970.9" cy="1374" r="2.3" fill="#1dfa1d" opacity="0.70"/><circle cx="978.1" cy="1382.9" r="2.5" fill="#1dfa1d" opacity="0.55"/><circle cx="991" cy="1388.2" r="2.4" fill="#1dfa1d" opacity="0.50"/><circle cx="990.7" cy="1391.1" r="2.1" fill="#1dfa1d" opacity="0.50"/><circle cx="1013.4" cy="1380.6" r="2.1" fill="#1dfa1d" opacity="0.70"/><circle cx="915.5" cy="1393.9" r="2.6" fill="#1dfa1d" opacity="0.65"/><circle cx="951.7" cy="1419.7" r="2.7" fill="#1dfa1d" opacity="0.75"/><circle cx="938.1" cy="1366.4" r="1.8" fill="#1dfa1d" opacity="0.45"/><circle cx="997.5" cy="1382" r="1.8" fill="#1dfa1d" opacity="0.50"/><circle cx="929.4" cy="1426.4" r="1.6" fill="#1dfa1d" opacity="0.55"/><circle cx="960.4" cy="1309" r="1.6" fill="#1dfa1d" opacity="0.45"/><circle cx="909.1" cy="1335.1" r="1.7" fill="#1dfa1d" opacity="0.45"/><circle cx="1014.9" cy="1313.3" r="1.7" fill="#1dfa1d" opacity="0.40"/></g></g>
<clipPath id="c21"><rect x="250.10" y="1287.00" width="149.8" height="149.5"/></clipPath>
<g clip-path="url(#c21)"><g filter="url(#b2)"><ellipse cx="386" cy="1379.2" rx="1.1" ry="1" fill="#1be01b" opacity="0.08" transform="rotate(179 386 1379.2)"/><ellipse cx="313.4" cy="1396.3" rx="1" ry="1.1" fill="#1be01b" opacity="0.09" transform="rotate(150 313.4 1396.3)"/><ellipse cx="348.6" cy="1388.1" rx="1" ry="1.3" fill="#1be01b" opacity="0.06" transform="rotate(155 348.6 1388.1)"/><circle cx="360.9" cy="1350.4" r="1.1" fill="#1be01b" opacity="0.10"/></g></g>
<text x="956.6" y="1406.9" font-size="24.6" fill="#fff" stroke="#fff" stroke-width="0.25">2 µm</text>
<rect x="1000.2" y="1418.3" width="11" height="6.3" fill="#fff"/>
<text x="2.1" y="1492.8" font-size="32.8" fill="#111" stroke="#111" stroke-width="0.25" font-weight="bold">e</text>
<polyline points="200.9 1849.6 208.1 1848.9 215.4 1848.1 222.6 1847.3 229.8 1846.3 237 1845.2 244.3 1844.1 251.5 1842.8 258.7 1841.4 266 1839.8 273.2 1838.1 280.4 1836.2 287.7 1834.1 294.9 1831.8 302.1 1829.3 309.4 1826.6 316.6 1823.6 323.8 1820.4 331 1816.9 338.3 1813.1 345.5 1809 352.7 1804.6 360 1799.9 367.2 1794.9 374.4 1789.6 381.7 1784 388.9 1778.1 396.1 1771.9 403.3 1765.5 410.6 1758.8 417.8 1751.9 425 1744.8 432.3 1737.5 439.5 1730.2 446.7 1722.8 454 1715.3 461.2 1707.9 468.4 1700.6 475.6 1693.3 482.9 1686.2 490.1 1679.3 497.3 1672.6 504.6 1666.2 511.8 1660 519 1654.1 526.2 1648.5 533.5 1643.2 540.7 1638.2 547.9 1633.5 555.2 1629.1 562.4 1625 569.6 1621.2 576.9 1617.7 584.1 1614.5 591.3 1611.5 598.5 1608.8 605.8 1606.3 613 1604 620.2 1601.9 627.5 1600 634.7 1598.3 641.9 1596.7 649.2 1595.3 656.4 1594 663.6 1592.9 670.8 1591.8 678.1 1590.8 685.3 1590 692.5 1589.2 699.8 1588.5 707 1587.9 714.2 1587.3 721.5 1586.8 728.7 1586.3 735.9 1585.9 743.1 1585.5" fill="none" stroke="#000" stroke-width="3.9" stroke-linejoin="round"/>
<polyline points="200.9 1853.7 208.1 1853.5 215.4 1853.2 222.6 1852.8 229.8 1852.5 237 1852 244.3 1851.6 251.5 1851.1 258.7 1850.5 266 1849.8 273.2 1849.1 280.4 1848.3 287.7 1847.4 294.9 1846.5 302.1 1845.4 309.4 1844.2 316.6 1842.9 323.8 1841.5 331 1839.9 338.3 1838.2 345.5 1836.4 352.7 1834.3 360 1832.2 367.2 1829.9 374.4 1827.4 381.7 1824.7 388.9 1821.9 396.1 1819 403.3 1815.9 410.6 1812.7 417.8 1809.4 425 1805.9 432.3 1802.5 439.5 1798.9 446.7 1795.4 454 1791.8 461.2 1788.3 468.4 1784.8 475.6 1781.4 482.9 1778.1 490.1 1774.9 497.3 1771.8 504.6 1768.8 511.8 1766 519 1763.4 526.2 1760.9 533.5 1758.6 540.7 1756.4 547.9 1754.4 555.2 1752.6 562.4 1750.8 569.6 1749.3 576.9 1747.9 584.1 1746.6 591.3 1745.4 598.5 1744.3 605.8 1743.3 613 1742.4 620.2 1741.6 627.5 1740.9 634.7 1740.3 641.9 1739.7 649.2 1739.2 656.4 1738.7 663.6 1738.3 670.8 1737.9 678.1 1737.6 685.3 1737.3 692.5 1737 699.8 1736.8 707 1736.6 714.2 1736.4 721.5 1736.2 728.7 1736.1 735.9 1735.9 743.1 1735.8" fill="none" stroke="#000" stroke-width="3.9" stroke-linejoin="round"/>
<polyline points="200.9 1855.9 208.1 1855.9 215.4 1855.9 222.6 1855.8 229.8 1855.8 237 1855.8 244.3 1855.7 251.5 1855.6 258.7 1855.5 266 1855.3 273.2 1855.1 280.4 1854.7 287.7 1854.1 294.9 1853.2 302.1 1852 309.4 1850.3 316.6 1848 323.8 1844.8 331 1840.8 338.3 1836.1 345.5 1830.7 352.7 1825.1 360 1819.7 367.2 1815 374.4 1811 381.7 1807.8 388.9 1805.5 396.1 1803.8 403.3 1802.6 410.6 1801.7 417.8 1801.1 425 1800.7 432.3 1800.5 439.5 1800.3 446.7 1800.1 454 1800.1 461.2 1800 468.4 1800 475.6 1799.9 482.9 1799.9 490.1 1799.9 497.3 1799.9 504.6 1799.9 511.8 1799.9 519 1799.9 526.2 1799.9 533.5 1799.9 540.7 1799.9 547.9 1799.9 555.2 1799.9 562.4 1799.9 569.6 1799.9 576.9 1799.9 584.1 1799.9 591.3 1799.9 598.5 1799.9 605.8 1799.9 613 1799.9 620.2 1799.9 627.5 1799.9 634.7 1799.9 641.9 1799.9 649.2 1799.9 656.4 1799.9 663.6 1799.9 670.8 1799.9 678.1 1799.9 685.3 1799.9 692.5 1799.9 699.8 1799.9 707 1799.9 714.2 1799.9 721.5 1799.9 728.7 1799.9 735.9 1799.9 743.1 1799.9" fill="none" stroke="#000" stroke-width="3.9" stroke-linejoin="round"/>
<circle cx="200.9" cy="1851.4" r="7.4" fill="#000"/>
<circle cx="237.1" cy="1847.8" r="7.4" fill="#000"/>
<circle cx="309.4" cy="1820.5" r="7.4" fill="#000"/>
<line x1="453.9" y1="1682.9" x2="453.9" y2="1748" stroke="#000" stroke-width="3.8"/>
<line x1="444.4" y1="1682.9" x2="463.4" y2="1682.9" stroke="#000" stroke-width="3.8"/>
<line x1="444.4" y1="1748" x2="463.4" y2="1748" stroke="#000" stroke-width="3.8"/>
<circle cx="453.9" cy="1715.4" r="7.4" fill="#000"/>
<line x1="598.5" y1="1570.5" x2="598.5" y2="1635.5" stroke="#000" stroke-width="3.8"/>
<line x1="589" y1="1570.5" x2="608" y2="1570.5" stroke="#000" stroke-width="3.8"/>
<line x1="589" y1="1635.5" x2="608" y2="1635.5" stroke="#000" stroke-width="3.8"/>
<circle cx="598.5" cy="1603" r="7.4" fill="#000"/>
<line x1="743.1" y1="1550.1" x2="743.1" y2="1628.7" stroke="#000" stroke-width="3.8"/>
<line x1="733.6" y1="1550.1" x2="752.6" y2="1550.1" stroke="#000" stroke-width="3.8"/>
<line x1="733.6" y1="1628.7" x2="752.6" y2="1628.7" stroke="#000" stroke-width="3.8"/>
<circle cx="743.1" cy="1589.4" r="7.4" fill="#000"/>
<path d="M200.9 1842.8L209.5 1858.8L192.3 1858.8Z" fill="#000"/>
<path d="M237.1 1841L245.7 1857L228.5 1857Z" fill="#000"/>
<path d="M309.4 1836.9L318 1852.9L300.8 1852.9Z" fill="#000"/>
<line x1="453.9" y1="1780" x2="453.9" y2="1801.7" stroke="#000" stroke-width="3.8"/>
<line x1="444.4" y1="1780" x2="463.4" y2="1780" stroke="#000" stroke-width="3.8"/>
<line x1="444.4" y1="1801.7" x2="463.4" y2="1801.7" stroke="#000" stroke-width="3.8"/>
<path d="M453.9 1781.4L462.6 1797.4L445.3 1797.4Z" fill="#000"/>
<line x1="598.5" y1="1732.1" x2="598.5" y2="1745.2" stroke="#000" stroke-width="3.8"/>
<line x1="589" y1="1732.1" x2="608" y2="1732.1" stroke="#000" stroke-width="3.8"/>
<line x1="589" y1="1745.2" x2="608" y2="1745.2" stroke="#000" stroke-width="3.8"/>
<path d="M598.5 1732.1L607.1 1748.1L589.9 1748.1Z" fill="#000"/>
<path d="M743.1 1728.1L751.8 1744.1L734.5 1744.1Z" fill="#000"/>
<rect x="193.4" y="1843.4" width="15" height="15" fill="#000"/>
<rect x="229.6" y="1840.9" width="15" height="15" fill="#000"/>
<rect x="301.9" y="1844.8" width="15" height="15" fill="#000"/>
<line x1="453.9" y1="1789.1" x2="453.9" y2="1808" stroke="#000" stroke-width="3.8"/>
<line x1="444.4" y1="1789.1" x2="463.4" y2="1789.1" stroke="#000" stroke-width="3.8"/>
<line x1="444.4" y1="1808" x2="463.4" y2="1808" stroke="#000" stroke-width="3.8"/>
<rect x="446.4" y="1791" width="15" height="15" fill="#000"/>
<line x1="598.5" y1="1780.3" x2="598.5" y2="1802" stroke="#000" stroke-width="3.8"/>
<line x1="589" y1="1780.3" x2="608" y2="1780.3" stroke="#000" stroke-width="3.8"/>
<line x1="589" y1="1802" x2="608" y2="1802" stroke="#000" stroke-width="3.8"/>
<rect x="591" y="1783.6" width="15" height="15" fill="#000"/>
<line x1="743.1" y1="1800.6" x2="743.1" y2="1823.2" stroke="#000" stroke-width="3.8"/>
<line x1="733.6" y1="1800.6" x2="752.6" y2="1800.6" stroke="#000" stroke-width="3.8"/>
<line x1="733.6" y1="1823.2" x2="752.6" y2="1823.2" stroke="#000" stroke-width="3.8"/>
<rect x="735.6" y="1804.4" width="15" height="15" fill="#000"/>
<line x1="164.8" y1="1492.5" x2="164.8" y2="1869.1" stroke="#000" stroke-width="4.4"/>
<line x1="150.2" y1="1855.9" x2="745.3" y2="1855.9" stroke="#000" stroke-width="4.1"/>
<line x1="150.2" y1="1765.6" x2="164.8" y2="1765.6" stroke="#000" stroke-width="4.2"/>
<line x1="150.2" y1="1675.2" x2="164.8" y2="1675.2" stroke="#000" stroke-width="4.2"/>
<line x1="150.2" y1="1584.9" x2="164.8" y2="1584.9" stroke="#000" stroke-width="4.2"/>
<line x1="150.2" y1="1494.6" x2="164.8" y2="1494.6" stroke="#000" stroke-width="4.2"/>
<text x="137" y="1863" font-size="24.6" fill="#111" stroke="#111" stroke-width="0.25" text-anchor="end">0.0</text>
<text x="137" y="1772.7" font-size="24.6" fill="#111" stroke="#111" stroke-width="0.25" text-anchor="end">0.1</text>
<text x="137" y="1682.3" font-size="24.6" fill="#111" stroke="#111" stroke-width="0.25" text-anchor="end">0.2</text>
<text x="137" y="1592" font-size="24.6" fill="#111" stroke="#111" stroke-width="0.25" text-anchor="end">0.3</text>
<text x="137" y="1501.7" font-size="24.6" fill="#111" stroke="#111" stroke-width="0.25" text-anchor="end">0.4</text>
<line x1="309.4" y1="1855.9" x2="309.4" y2="1869.1" stroke="#000" stroke-width="4.4"/>
<line x1="453.9" y1="1855.9" x2="453.9" y2="1869.1" stroke="#000" stroke-width="4.4"/>
<line x1="598.5" y1="1855.9" x2="598.5" y2="1869.1" stroke="#000" stroke-width="4.4"/>
<line x1="743.1" y1="1855.9" x2="743.1" y2="1869.1" stroke="#000" stroke-width="4.4"/>
<text x="165.2" y="1895.6" font-size="24.6" fill="#111" stroke="#111" stroke-width="0.25" text-anchor="middle">0</text>
<text x="309.9" y="1895.6" font-size="24.6" fill="#111" stroke="#111" stroke-width="0.25" text-anchor="middle">2</text>
<text x="454.4" y="1895.6" font-size="24.6" fill="#111" stroke="#111" stroke-width="0.25" text-anchor="middle">4</text>
<text x="599" y="1895.6" font-size="24.6" fill="#111" stroke="#111" stroke-width="0.25" text-anchor="middle">6</text>
<text x="743.6" y="1895.6" font-size="24.6" fill="#111" stroke="#111" stroke-width="0.25" text-anchor="middle">8</text>
<text x="454.4" y="1942" font-size="28.7" fill="#111" stroke="#111" stroke-width="0.25" text-anchor="middle">MeCP2-GFP (µM)</text>
<text font-size="28.7" fill="#111" stroke="#111" stroke-width="0.25" text-anchor="middle" transform="translate(40.1 1673.8) rotate(-90)">MeCP2-GFP</text>
<text font-size="28.7" fill="#111" stroke="#111" stroke-width="0.25" text-anchor="middle" transform="translate(74.5 1672.9) rotate(-90)">condensed fraction</text>
<text x="774" y="1591.7" font-size="28.7" fill="#111" stroke="#111" stroke-width="0.25">WT</text>
<text x="773.5" y="1740.4" font-size="28.7" fill="#111" stroke="#111" stroke-width="0.25">P322L</text>
<text x="773.5" y="1807" font-size="28.7" fill="#111" stroke="#111" stroke-width="0.25">P225R</text>
</svg>
</body></html>
